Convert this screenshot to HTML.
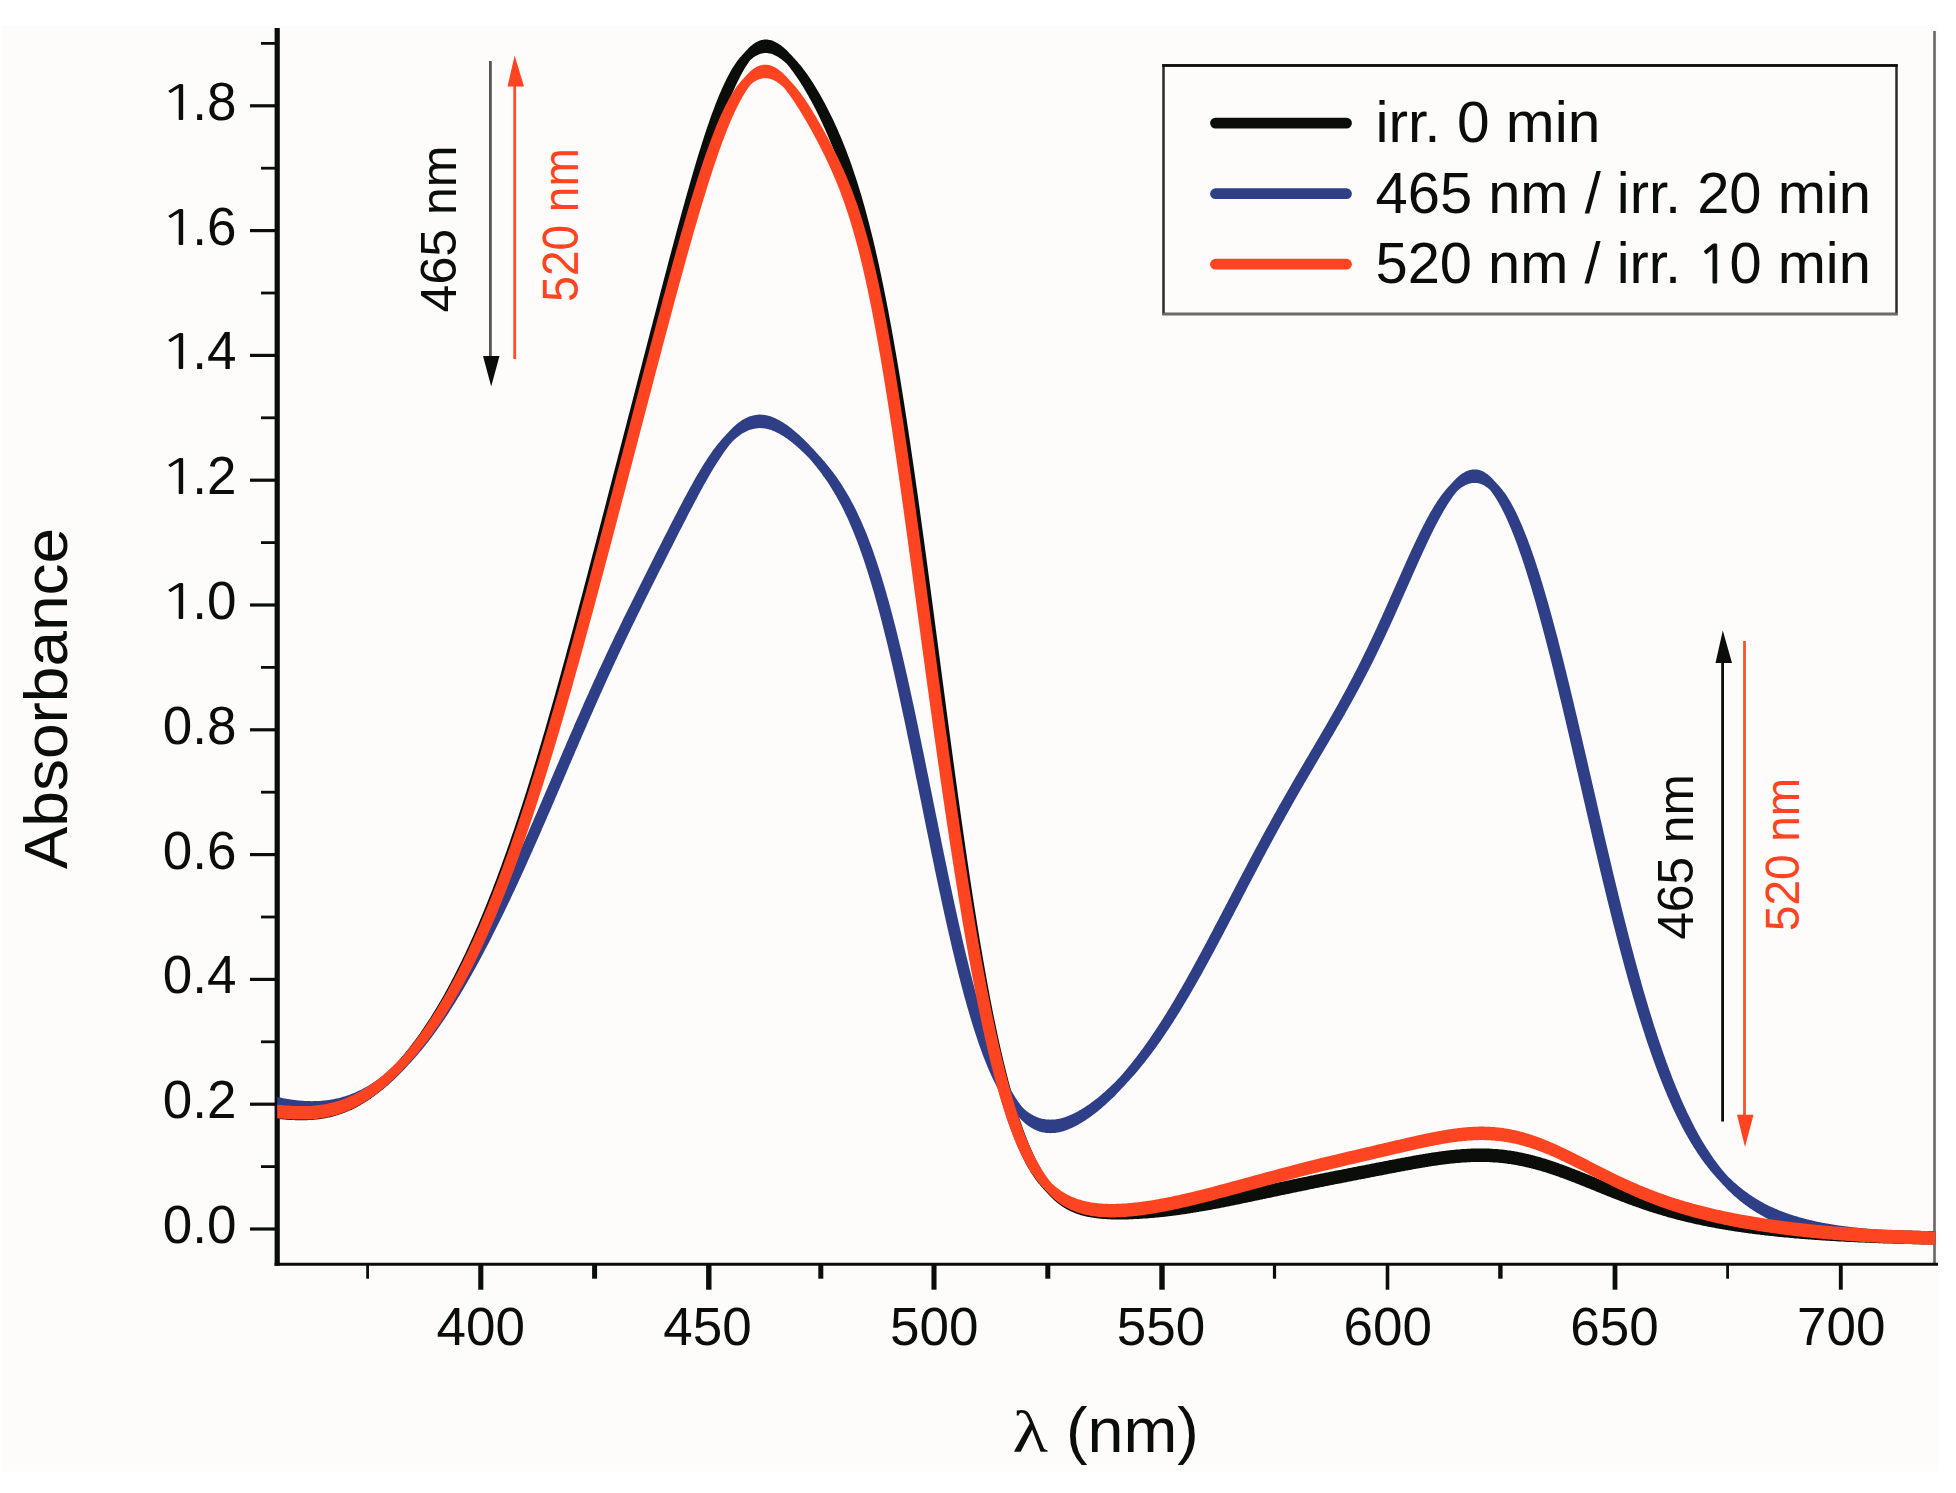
<!DOCTYPE html>
<html lang="en"><head><meta charset="utf-8"><title>Absorbance spectra</title>
<style>
html,body{margin:0;padding:0;background:#ffffff;}
body{width:1956px;height:1493px;overflow:hidden;}
svg{display:block;}
</style></head><body>
<svg width="1956" height="1493" viewBox="0 0 1956 1493" font-family="'Liberation Sans', Arial, sans-serif">
<rect x="0" y="0" width="1956" height="1493" fill="#ffffff"/>
<rect x="2" y="25" width="1937" height="1446.5" fill="#fefcfb"/>
<line x1="1934.5" y1="31" x2="1934.5" y2="1264" stroke="#6b6c67" stroke-width="2.7"/>
<line x1="277.2" y1="28" x2="277.2" y2="1265.8" stroke="#0b0d08" stroke-width="5.2"/>
<line x1="274.6" y1="1264.3" x2="1938" y2="1264.3" stroke="#0b0d08" stroke-width="3.0"/>
<line x1="250" y1="1229.0" x2="276" y2="1229.0" stroke="#0b0d08" stroke-width="3.2"/>
<text x="236.5" y="1243.0" font-size="53" text-anchor="end" fill="#0b0d08">0.0</text>
<line x1="261" y1="1166.6" x2="276" y2="1166.6" stroke="#0b0d08" stroke-width="2.8"/>
<line x1="250" y1="1104.2" x2="276" y2="1104.2" stroke="#0b0d08" stroke-width="3.2"/>
<text x="236.5" y="1118.2" font-size="53" text-anchor="end" fill="#0b0d08">0.2</text>
<line x1="261" y1="1041.8" x2="276" y2="1041.8" stroke="#0b0d08" stroke-width="2.8"/>
<line x1="250" y1="979.4" x2="276" y2="979.4" stroke="#0b0d08" stroke-width="3.2"/>
<text x="236.5" y="993.4" font-size="53" text-anchor="end" fill="#0b0d08">0.4</text>
<line x1="261" y1="917.0" x2="276" y2="917.0" stroke="#0b0d08" stroke-width="2.8"/>
<line x1="250" y1="854.6" x2="276" y2="854.6" stroke="#0b0d08" stroke-width="3.2"/>
<text x="236.5" y="868.6" font-size="53" text-anchor="end" fill="#0b0d08">0.6</text>
<line x1="261" y1="792.2" x2="276" y2="792.2" stroke="#0b0d08" stroke-width="2.8"/>
<line x1="250" y1="729.8" x2="276" y2="729.8" stroke="#0b0d08" stroke-width="3.2"/>
<text x="236.5" y="743.8" font-size="53" text-anchor="end" fill="#0b0d08">0.8</text>
<line x1="261" y1="667.4" x2="276" y2="667.4" stroke="#0b0d08" stroke-width="2.8"/>
<line x1="250" y1="605.0" x2="276" y2="605.0" stroke="#0b0d08" stroke-width="3.2"/>
<text y="619.0" font-size="53" fill="#0b0d08"><tspan x="159.3" font-family="NanumGothic, 'Liberation Sans', sans-serif" font-size="49.1" textLength="39.3" lengthAdjust="spacingAndGlyphs">1</tspan><tspan x="236.5" text-anchor="end">.0</tspan></text>
<line x1="261" y1="542.6" x2="276" y2="542.6" stroke="#0b0d08" stroke-width="2.8"/>
<line x1="250" y1="480.2" x2="276" y2="480.2" stroke="#0b0d08" stroke-width="3.2"/>
<text y="494.2" font-size="53" fill="#0b0d08"><tspan x="159.3" font-family="NanumGothic, 'Liberation Sans', sans-serif" font-size="49.1" textLength="39.3" lengthAdjust="spacingAndGlyphs">1</tspan><tspan x="236.5" text-anchor="end">.2</tspan></text>
<line x1="261" y1="417.8" x2="276" y2="417.8" stroke="#0b0d08" stroke-width="2.8"/>
<line x1="250" y1="355.4" x2="276" y2="355.4" stroke="#0b0d08" stroke-width="3.2"/>
<text y="369.4" font-size="53" fill="#0b0d08"><tspan x="159.3" font-family="NanumGothic, 'Liberation Sans', sans-serif" font-size="49.1" textLength="39.3" lengthAdjust="spacingAndGlyphs">1</tspan><tspan x="236.5" text-anchor="end">.4</tspan></text>
<line x1="261" y1="293.0" x2="276" y2="293.0" stroke="#0b0d08" stroke-width="2.8"/>
<line x1="250" y1="230.6" x2="276" y2="230.6" stroke="#0b0d08" stroke-width="3.2"/>
<text y="244.6" font-size="53" fill="#0b0d08"><tspan x="159.3" font-family="NanumGothic, 'Liberation Sans', sans-serif" font-size="49.1" textLength="39.3" lengthAdjust="spacingAndGlyphs">1</tspan><tspan x="236.5" text-anchor="end">.6</tspan></text>
<line x1="261" y1="168.2" x2="276" y2="168.2" stroke="#0b0d08" stroke-width="2.8"/>
<line x1="250" y1="105.8" x2="276" y2="105.8" stroke="#0b0d08" stroke-width="3.2"/>
<text y="119.8" font-size="53" fill="#0b0d08"><tspan x="159.3" font-family="NanumGothic, 'Liberation Sans', sans-serif" font-size="49.1" textLength="39.3" lengthAdjust="spacingAndGlyphs">1</tspan><tspan x="236.5" text-anchor="end">.8</tspan></text>
<line x1="261" y1="43.4" x2="276" y2="43.4" stroke="#0b0d08" stroke-width="2.8"/>
<line x1="367.6" y1="1264" x2="367.6" y2="1278.7" stroke="#0b0d08" stroke-width="2.8"/>
<line x1="480.8" y1="1264" x2="480.8" y2="1289.7" stroke="#0b0d08" stroke-width="5.1"/>
<text x="480.7" y="1344.5" font-size="53" text-anchor="middle" fill="#0b0d08">400</text>
<line x1="594.6" y1="1264" x2="594.6" y2="1278.7" stroke="#0b0d08" stroke-width="5.0"/>
<line x1="708.8" y1="1264" x2="708.8" y2="1289.7" stroke="#0b0d08" stroke-width="5.4"/>
<text x="707.5" y="1344.5" font-size="53" text-anchor="middle" fill="#0b0d08">450</text>
<line x1="820.8" y1="1264" x2="820.8" y2="1278.7" stroke="#0b0d08" stroke-width="5.0"/>
<line x1="934.0" y1="1264" x2="934.0" y2="1289.7" stroke="#0b0d08" stroke-width="5.1"/>
<text x="934.2" y="1344.5" font-size="53" text-anchor="middle" fill="#0b0d08">500</text>
<line x1="1047.8" y1="1264" x2="1047.8" y2="1278.7" stroke="#0b0d08" stroke-width="5.0"/>
<line x1="1162.0" y1="1264" x2="1162.0" y2="1289.7" stroke="#0b0d08" stroke-width="5.4"/>
<text x="1161.0" y="1344.5" font-size="53" text-anchor="middle" fill="#0b0d08">550</text>
<line x1="1274.5" y1="1264" x2="1274.5" y2="1278.7" stroke="#0b0d08" stroke-width="3.2"/>
<line x1="1387.5" y1="1264" x2="1387.5" y2="1289.7" stroke="#0b0d08" stroke-width="3.6"/>
<text x="1387.7" y="1344.5" font-size="53" text-anchor="middle" fill="#0b0d08">600</text>
<line x1="1500.4" y1="1264" x2="1500.4" y2="1278.7" stroke="#0b0d08" stroke-width="4.4"/>
<line x1="1615.0" y1="1264" x2="1615.0" y2="1289.7" stroke="#0b0d08" stroke-width="4.8"/>
<text x="1614.5" y="1344.5" font-size="53" text-anchor="middle" fill="#0b0d08">650</text>
<line x1="1727.6" y1="1264" x2="1727.6" y2="1278.7" stroke="#0b0d08" stroke-width="2.8"/>
<line x1="1840.8" y1="1264" x2="1840.8" y2="1289.7" stroke="#0b0d08" stroke-width="3.9"/>
<text x="1841.2" y="1344.5" font-size="53" text-anchor="middle" fill="#0b0d08">700</text>
<path d="M277.2 1105.4 L278.2 1105.5 L279.2 1105.6 L280.2 1105.7 L281.2 1105.8 L282.2 1105.8 L283.2 1105.9 L284.2 1106.0 L285.2 1106.1 L286.2 1106.2 L287.2 1106.2 L288.2 1106.3 L289.2 1106.4 L290.2 1106.4 L291.2 1106.5 L292.2 1106.6 L293.2 1106.6 L294.2 1106.6 L295.2 1106.7 L296.2 1106.7 L297.2 1106.7 L298.2 1106.8 L299.2 1106.8 L300.2 1106.8 L301.2 1106.8 L302.2 1106.8 L303.2 1106.8 L304.2 1106.8 L305.2 1106.7 L306.2 1106.7 L307.2 1106.7 L308.2 1106.6 L309.2 1106.6 L310.2 1106.5 L311.2 1106.5 L312.2 1106.4 L313.2 1106.3 L314.2 1106.2 L315.2 1106.1 L316.2 1106.0 L317.2 1105.9 L318.2 1105.8 L319.2 1105.7 L320.2 1105.5 L321.2 1105.4 L322.2 1105.2 L323.2 1105.1 L324.2 1104.9 L325.2 1104.7 L326.2 1104.5 L327.2 1104.3 L328.2 1104.1 L329.2 1103.9 L330.2 1103.7 L331.2 1103.4 L332.2 1103.2 L333.2 1102.9 L334.2 1102.6 L335.2 1102.3 L336.2 1102.1 L337.2 1101.7 L338.2 1101.4 L339.2 1101.1 L340.2 1100.8 L341.2 1100.4 L342.2 1100.1 L343.2 1099.7 L344.2 1099.3 L345.2 1098.9 L346.2 1098.5 L347.2 1098.1 L348.2 1097.7 L349.2 1097.3 L350.2 1096.8 L351.2 1096.4 L352.2 1095.9 L353.2 1095.4 L354.2 1094.9 L355.2 1094.4 L356.2 1093.9 L357.2 1093.4 L358.2 1092.8 L359.2 1092.3 L360.2 1091.7 L361.2 1091.1 L362.2 1090.6 L363.2 1090.0 L364.2 1089.3 L365.2 1088.7 L366.2 1088.1 L367.2 1087.4 L368.2 1086.8 L369.2 1086.1 L370.2 1085.4 L371.2 1084.7 L372.2 1084.0 L373.2 1083.3 L374.2 1082.6 L375.2 1081.8 L376.2 1081.1 L377.2 1080.3 L378.2 1079.5 L379.2 1078.7 L380.2 1077.9 L381.2 1077.1 L382.2 1076.2 L383.2 1075.4 L384.2 1074.5 L385.2 1073.6 L386.2 1072.8 L387.2 1071.9 L388.2 1070.9 L389.2 1070.0 L390.2 1069.1 L391.2 1068.1 L392.2 1067.2 L393.2 1066.2 L394.2 1065.2 L395.2 1064.2 L396.2 1063.2 L397.2 1062.2 L398.2 1061.1 L399.2 1060.0 L400.2 1058.8 L401.2 1057.7 L402.2 1056.5 L403.2 1055.3 L404.2 1054.1 L405.2 1052.9 L406.2 1051.6 L407.2 1050.4 L408.2 1049.1 L409.2 1047.9 L410.2 1046.6 L411.2 1045.3 L412.2 1044.0 L413.2 1042.6 L414.2 1041.3 L415.2 1039.9 L416.2 1038.6 L417.2 1037.2 L418.2 1035.8 L419.2 1034.4 L420.2 1032.9 L421.2 1031.5 L422.2 1030.1 L423.2 1028.6 L424.2 1027.1 L425.2 1025.6 L426.2 1024.1 L427.2 1022.6 L428.2 1021.0 L429.2 1019.5 L430.2 1017.9 L431.2 1016.3 L432.2 1014.7 L433.2 1013.1 L434.2 1011.5 L435.2 1009.8 L436.2 1008.2 L437.2 1006.5 L438.2 1004.8 L439.2 1003.1 L440.2 1001.4 L441.2 999.7 L442.2 997.9 L443.2 996.2 L444.2 994.4 L445.2 992.6 L446.2 990.8 L447.2 988.9 L448.2 987.1 L449.2 985.3 L450.2 983.4 L451.2 981.5 L452.2 979.6 L453.2 977.7 L454.2 975.7 L455.2 973.8 L456.2 971.8 L457.2 969.8 L458.2 967.8 L459.2 965.8 L460.2 963.8 L461.2 961.7 L462.2 959.7 L463.2 957.6 L464.2 955.5 L465.2 953.4 L466.2 951.2 L467.2 949.1 L468.2 946.9 L469.2 944.7 L470.2 942.5 L471.2 940.3 L472.2 938.1 L473.2 935.9 L474.2 933.6 L475.2 931.3 L476.2 929.0 L477.2 926.7 L478.2 924.4 L479.2 922.0 L480.2 919.6 L481.2 917.2 L482.2 914.8 L483.2 912.4 L484.2 910.0 L485.2 907.5 L486.2 905.1 L487.2 902.6 L488.2 900.1 L489.2 897.5 L490.2 895.0 L491.2 892.4 L492.2 889.9 L493.2 887.3 L494.2 884.6 L495.2 882.0 L496.2 879.4 L497.2 876.7 L498.2 874.0 L499.2 871.3 L500.2 868.6 L501.2 865.9 L502.2 863.1 L503.2 860.3 L504.2 857.6 L505.2 854.8 L506.2 851.9 L507.2 849.1 L508.2 846.2 L509.2 843.4 L510.2 840.5 L511.2 837.6 L512.2 834.6 L513.2 831.7 L514.2 828.7 L515.2 825.7 L516.2 822.8 L517.2 819.7 L518.2 816.7 L519.2 813.7 L520.2 810.6 L521.2 807.5 L522.2 804.4 L523.2 801.3 L524.2 798.2 L525.2 795.1 L526.2 791.9 L527.2 788.7 L528.2 785.5 L529.2 782.3 L530.2 779.1 L531.2 775.9 L532.2 772.6 L533.2 769.3 L534.2 766.1 L535.2 762.8 L536.2 759.4 L537.2 756.1 L538.2 752.8 L539.2 749.4 L540.2 746.0 L541.2 742.7 L542.2 739.3 L543.2 735.8 L544.2 732.4 L545.2 729.0 L546.2 725.5 L547.2 722.1 L548.2 718.6 L549.2 715.1 L550.2 711.6 L551.2 708.1 L552.2 704.5 L553.2 701.0 L554.2 697.4 L555.2 693.9 L556.2 690.3 L557.2 686.7 L558.2 683.1 L559.2 679.5 L560.2 675.9 L561.2 672.3 L562.2 668.6 L563.2 665.0 L564.2 661.3 L565.2 657.7 L566.2 654.0 L567.2 650.3 L568.2 646.6 L569.2 642.9 L570.2 639.2 L571.2 635.5 L572.2 631.8 L573.2 628.0 L574.2 624.3 L575.2 620.5 L576.2 616.8 L577.2 613.0 L578.2 609.3 L579.2 605.5 L580.2 601.7 L581.2 597.9 L582.2 594.2 L583.2 590.4 L584.2 586.6 L585.2 582.8 L586.2 579.0 L587.2 575.2 L588.2 571.3 L589.2 567.5 L590.2 563.7 L591.2 559.9 L592.2 556.0 L593.2 552.2 L594.2 548.4 L595.2 544.5 L596.2 540.7 L597.2 536.8 L598.2 533.0 L599.2 529.2 L600.2 525.3 L601.2 521.5 L602.2 517.6 L603.2 513.7 L604.2 509.9 L605.2 506.0 L606.2 502.2 L607.2 498.3 L608.2 494.5 L609.2 490.6 L610.2 486.7 L611.2 482.9 L612.2 479.0 L613.2 475.1 L614.2 471.3 L615.2 467.4 L616.2 463.5 L617.2 459.7 L618.2 455.8 L619.2 451.9 L620.2 448.1 L621.2 444.2 L622.2 440.3 L623.2 436.5 L624.2 432.6 L625.2 428.7 L626.2 424.9 L627.2 421.0 L628.2 417.1 L629.2 413.3 L630.2 409.4 L631.2 405.5 L632.2 401.7 L633.2 397.8 L634.2 393.9 L635.2 390.1 L636.2 386.2 L637.2 382.3 L638.2 378.5 L639.2 374.6 L640.2 370.7 L641.2 366.9 L642.2 363.0 L643.2 359.1 L644.2 355.3 L645.2 351.4 L646.2 347.6 L647.2 343.7 L648.2 339.8 L649.2 336.0 L650.2 332.1 L651.2 328.3 L652.2 324.4 L653.2 320.6 L654.2 316.7 L655.2 312.9 L656.2 309.0 L657.2 305.2 L658.2 301.3 L659.2 297.5 L660.2 293.6 L661.2 289.8 L662.2 286.0 L663.2 282.2 L664.2 278.3 L665.2 274.5 L666.2 270.7 L667.2 266.9 L668.2 263.1 L669.2 259.3 L670.2 255.6 L671.2 251.8 L672.2 248.0 L673.2 244.3 L674.2 240.5 L675.2 236.8 L676.2 233.0 L677.2 229.3 L678.2 225.6 L679.2 221.9 L680.2 218.3 L681.2 214.6 L682.2 211.0 L683.2 207.3 L684.2 203.7 L685.2 200.1 L686.2 196.5 L687.2 193.0 L688.2 189.4 L689.2 185.9 L690.2 182.4 L691.2 178.9 L692.2 175.5 L693.2 172.1 L694.2 168.7 L695.2 165.3 L696.2 161.9 L697.2 158.6 L698.2 155.3 L699.2 152.1 L700.2 148.9 L701.2 145.7 L702.2 142.5 L703.2 139.4 L704.2 136.3 L705.2 133.3 L706.2 130.3 L707.2 127.3 L708.2 124.4 L709.2 121.5 L710.2 118.6 L711.2 115.8 L712.2 113.1 L713.2 110.4 L714.2 107.7 L715.2 105.1 L716.2 102.5 L717.2 100.0 L718.2 97.5 L719.2 95.1 L720.2 92.7 L721.2 90.4 L722.2 88.1 L723.2 85.9 L724.2 83.8 L725.2 81.7 L726.2 79.7 L727.2 77.7 L728.2 75.7 L729.2 73.9 L730.2 72.1 L731.2 70.3 L732.2 68.6 L733.2 67.0 L734.2 65.4 L735.2 63.9 L736.2 62.5 L737.2 61.1 L738.2 59.8 L739.2 58.5 L740.2 57.3 L741.2 56.2 L742.2 55.1 L743.2 54.0 L744.2 52.9 L745.2 51.8 L746.2 50.8 L747.2 49.7 L748.2 48.6 L749.2 47.6 L750.2 46.6 L751.2 45.7 L752.2 44.9 L753.2 44.1 L754.2 43.4 L755.2 42.8 L756.2 42.2 L757.2 41.7 L758.2 41.2 L759.2 40.8 L760.2 40.4 L761.2 40.1 L762.2 39.9 L763.2 39.7 L764.2 39.6 L765.2 39.6 L766.2 39.6 L767.2 39.6 L768.2 39.7 L769.2 39.9 L770.2 40.1 L771.2 40.3 L772.2 40.6 L773.2 41.0 L774.2 41.4 L775.2 41.9 L776.2 42.4 L777.2 42.9 L778.2 43.5 L779.2 44.2 L780.2 44.9 L781.2 45.6 L782.2 46.4 L783.2 47.2 L784.2 48.0 L785.2 48.9 L786.2 49.8 L787.2 50.8 L788.2 51.8 L789.2 52.9 L790.2 53.9 L791.2 55.0 L792.2 56.1 L793.2 57.2 L794.2 58.3 L795.2 59.4 L796.2 60.5 L797.2 61.6 L798.2 62.7 L799.2 63.9 L800.2 65.1 L801.2 66.3 L802.2 67.6 L803.2 68.9 L804.2 70.2 L805.2 71.5 L806.2 72.9 L807.2 74.3 L808.2 75.8 L809.2 77.2 L810.2 78.7 L811.2 80.2 L812.2 81.8 L813.2 83.3 L814.2 84.9 L815.2 86.5 L816.2 88.2 L817.2 89.9 L818.2 91.5 L819.2 93.3 L820.2 95.0 L821.2 96.8 L822.2 98.6 L823.2 100.4 L824.2 102.2 L825.2 104.1 L826.2 106.0 L827.2 107.9 L828.2 109.9 L829.2 111.9 L830.2 113.9 L831.2 115.9 L832.2 118.0 L833.2 120.1 L834.2 122.2 L835.2 124.4 L836.2 126.6 L837.2 128.8 L838.2 131.1 L839.2 133.4 L840.2 135.7 L841.2 138.1 L842.2 140.5 L843.2 143.0 L844.2 145.5 L845.2 148.0 L846.2 150.6 L847.2 153.2 L848.2 155.9 L849.2 158.6 L850.2 161.3 L851.2 164.1 L852.2 167.0 L853.2 169.9 L854.2 172.9 L855.2 175.9 L856.2 178.9 L857.2 182.0 L858.2 185.2 L859.2 188.4 L860.2 191.7 L861.2 195.1 L862.2 198.5 L863.2 201.9 L864.2 205.5 L865.2 209.0 L866.2 212.7 L867.2 216.4 L868.2 220.2 L869.2 224.0 L870.2 228.0 L871.2 231.9 L872.2 236.0 L873.2 240.1 L874.2 244.3 L875.2 248.6 L876.2 252.9 L877.2 257.3 L878.2 261.8 L879.2 266.3 L880.2 271.0 L881.2 275.7 L882.2 280.4 L883.2 285.3 L884.2 290.2 L885.2 295.2 L886.2 300.2 L887.2 305.4 L888.2 310.6 L889.2 315.9 L890.2 321.3 L891.2 326.7 L892.2 332.2 L893.2 337.8 L894.2 343.4 L895.2 349.2 L896.2 354.9 L897.2 360.8 L898.2 366.8 L899.2 372.8 L900.2 378.8 L901.2 385.0 L902.2 391.2 L903.2 397.5 L904.2 403.8 L905.2 410.2 L906.2 416.7 L907.2 423.2 L908.2 429.8 L909.2 436.4 L910.2 443.1 L911.2 449.9 L912.2 456.7 L913.2 463.5 L914.2 470.5 L915.2 477.4 L916.2 484.4 L917.2 491.5 L918.2 498.6 L919.2 505.8 L920.2 512.9 L921.2 520.2 L922.2 527.4 L923.2 534.7 L924.2 542.1 L925.2 549.4 L926.2 556.8 L927.2 564.3 L928.2 571.7 L929.2 579.2 L930.2 586.7 L931.2 594.2 L932.2 601.7 L933.2 609.2 L934.2 616.8 L935.2 624.4 L936.2 631.9 L937.2 639.5 L938.2 647.1 L939.2 654.7 L940.2 662.3 L941.2 669.9 L942.2 677.5 L943.2 685.0 L944.2 692.6 L945.2 700.1 L946.2 707.7 L947.2 715.2 L948.2 722.7 L949.2 730.2 L950.2 737.7 L951.2 745.1 L952.2 752.5 L953.2 759.9 L954.2 767.3 L955.2 774.6 L956.2 781.9 L957.2 789.1 L958.2 796.4 L959.2 803.5 L960.2 810.7 L961.2 817.8 L962.2 824.8 L963.2 831.8 L964.2 838.8 L965.2 845.7 L966.2 852.6 L967.2 859.4 L968.2 866.1 L969.2 872.8 L970.2 879.4 L971.2 886.0 L972.2 892.5 L973.2 899.0 L974.2 905.4 L975.2 911.7 L976.2 918.0 L977.2 924.2 L978.2 930.3 L979.2 936.4 L980.2 942.4 L981.2 948.3 L982.2 954.1 L983.2 959.9 L984.2 965.6 L985.2 971.3 L986.2 976.8 L987.2 982.3 L988.2 987.8 L989.2 993.1 L990.2 998.4 L991.2 1003.5 L992.2 1008.7 L993.2 1013.7 L994.2 1018.7 L995.2 1023.5 L996.2 1028.3 L997.2 1033.1 L998.2 1037.7 L999.2 1042.3 L1000.2 1046.8 L1001.2 1051.2 L1002.2 1055.5 L1003.2 1059.8 L1004.2 1064.0 L1005.2 1068.1 L1006.2 1072.1 L1007.2 1076.1 L1008.2 1080.0 L1009.2 1083.8 L1010.2 1087.5 L1011.2 1091.1 L1012.2 1094.7 L1013.2 1098.2 L1014.2 1101.7 L1015.2 1105.0 L1016.2 1108.3 L1017.2 1111.5 L1018.2 1114.6 L1019.2 1117.7 L1020.2 1120.7 L1021.2 1123.6 L1022.2 1126.5 L1023.2 1129.3 L1024.2 1132.0 L1025.2 1134.7 L1026.2 1137.3 L1027.2 1139.8 L1028.2 1142.3 L1029.2 1144.7 L1030.2 1147.1 L1031.2 1149.3 L1032.2 1151.6 L1033.2 1153.7 L1034.2 1155.8 L1035.2 1157.9 L1036.2 1159.9 L1037.2 1161.8 L1038.2 1163.7 L1039.2 1165.5 L1040.2 1167.3 L1041.2 1169.0 L1042.2 1170.7 L1043.2 1172.3 L1044.2 1173.9 L1045.2 1175.4 L1046.2 1176.9 L1047.2 1178.3 L1048.2 1179.7 L1049.2 1181.1 L1050.2 1182.4 L1051.2 1183.6 L1052.2 1184.8 L1053.2 1185.8 L1054.2 1186.7 L1055.2 1187.6 L1056.2 1188.4 L1057.2 1189.3 L1058.2 1190.0 L1059.2 1190.8 L1060.2 1191.5 L1061.2 1192.3 L1062.2 1192.9 L1063.2 1193.6 L1064.2 1194.2 L1065.2 1194.8 L1066.2 1195.4 L1067.2 1196.0 L1068.2 1196.5 L1069.2 1197.0 L1070.2 1197.5 L1071.2 1198.0 L1072.2 1198.4 L1073.2 1198.8 L1074.2 1199.3 L1075.2 1199.7 L1076.2 1200.0 L1077.2 1200.4 L1078.2 1200.7 L1079.2 1201.1 L1080.2 1201.4 L1081.2 1201.7 L1082.2 1202.0 L1083.2 1202.2 L1084.2 1202.5 L1085.2 1202.7 L1086.2 1203.0 L1087.2 1203.2 L1088.2 1203.4 L1089.2 1203.6 L1090.2 1203.8 L1091.2 1204.0 L1092.2 1204.1 L1093.2 1204.3 L1094.2 1204.4 L1095.2 1204.6 L1096.2 1204.7 L1097.2 1204.8 L1098.2 1205.0 L1099.2 1205.1 L1100.2 1205.2 L1101.2 1205.3 L1102.2 1205.3 L1103.2 1205.4 L1104.2 1205.5 L1105.2 1205.6 L1106.2 1205.6 L1107.2 1205.7 L1108.2 1205.7 L1109.2 1205.8 L1110.2 1205.8 L1111.2 1205.9 L1112.2 1205.9 L1113.2 1205.9 L1114.2 1205.9 L1115.2 1206.0 L1116.2 1206.0 L1117.2 1206.0 L1118.2 1206.0 L1119.2 1206.0 L1120.2 1206.0 L1121.2 1206.0 L1122.2 1206.0 L1123.2 1206.0 L1124.2 1206.0 L1125.2 1205.9 L1126.2 1205.9 L1127.2 1205.9 L1128.2 1205.9 L1129.2 1205.8 L1130.2 1205.8 L1131.2 1205.8 L1132.2 1205.7 L1133.2 1205.7 L1134.2 1205.6 L1135.2 1205.6 L1136.2 1205.6 L1137.2 1205.5 L1138.2 1205.4 L1139.2 1205.4 L1140.2 1205.3 L1141.2 1205.3 L1142.2 1205.2 L1143.2 1205.1 L1144.2 1205.1 L1145.2 1205.0 L1146.2 1204.9 L1147.2 1204.9 L1148.2 1204.8 L1149.2 1204.7 L1150.2 1204.6 L1151.2 1204.5 L1152.2 1204.5 L1153.2 1204.4 L1154.2 1204.3 L1155.2 1204.2 L1156.2 1204.1 L1157.2 1204.0 L1158.2 1203.9 L1159.2 1203.8 L1160.2 1203.7 L1161.2 1203.6 L1162.2 1203.5 L1163.2 1203.4 L1164.2 1203.3 L1165.2 1203.2 L1166.2 1203.0 L1167.2 1202.9 L1168.2 1202.8 L1169.2 1202.7 L1170.2 1202.6 L1171.2 1202.5 L1172.2 1202.3 L1173.2 1202.2 L1174.2 1202.1 L1175.2 1201.9 L1176.2 1201.8 L1177.2 1201.7 L1178.2 1201.5 L1179.2 1201.4 L1180.2 1201.3 L1181.2 1201.1 L1182.2 1201.0 L1183.2 1200.8 L1184.2 1200.7 L1185.2 1200.5 L1186.2 1200.4 L1187.2 1200.2 L1188.2 1200.1 L1189.2 1199.9 L1190.2 1199.8 L1191.2 1199.6 L1192.2 1199.5 L1193.2 1199.3 L1194.2 1199.1 L1195.2 1199.0 L1196.2 1198.8 L1197.2 1198.6 L1198.2 1198.5 L1199.2 1198.3 L1200.2 1198.1 L1201.2 1198.0 L1202.2 1197.8 L1203.2 1197.6 L1204.2 1197.4 L1205.2 1197.3 L1206.2 1197.1 L1207.2 1196.9 L1208.2 1196.7 L1209.2 1196.5 L1210.2 1196.4 L1211.2 1196.2 L1212.2 1196.0 L1213.2 1195.8 L1214.2 1195.6 L1215.2 1195.4 L1216.2 1195.2 L1217.2 1195.1 L1218.2 1194.9 L1219.2 1194.7 L1220.2 1194.5 L1221.2 1194.3 L1222.2 1194.1 L1223.2 1193.9 L1224.2 1193.7 L1225.2 1193.5 L1226.2 1193.3 L1227.2 1193.1 L1228.2 1192.9 L1229.2 1192.7 L1230.2 1192.5 L1231.2 1192.3 L1232.2 1192.1 L1233.2 1191.9 L1234.2 1191.7 L1235.2 1191.5 L1236.2 1191.3 L1237.2 1191.1 L1238.2 1190.9 L1239.2 1190.7 L1240.2 1190.5 L1241.2 1190.3 L1242.2 1190.0 L1243.2 1189.8 L1244.2 1189.6 L1245.2 1189.4 L1246.2 1189.2 L1247.2 1189.0 L1248.2 1188.8 L1249.2 1188.6 L1250.2 1188.4 L1251.2 1188.2 L1252.2 1188.0 L1253.2 1187.7 L1254.2 1187.5 L1255.2 1187.3 L1256.2 1187.1 L1257.2 1186.9 L1258.2 1186.7 L1259.2 1186.5 L1260.2 1186.3 L1261.2 1186.1 L1262.2 1185.9 L1263.2 1185.6 L1264.2 1185.4 L1265.2 1185.2 L1266.2 1185.0 L1267.2 1184.8 L1268.2 1184.6 L1269.2 1184.4 L1270.2 1184.2 L1271.2 1183.9 L1272.2 1183.7 L1273.2 1183.5 L1274.2 1183.3 L1275.2 1183.1 L1276.2 1182.9 L1277.2 1182.7 L1278.2 1182.5 L1279.2 1182.3 L1280.2 1182.1 L1281.2 1181.8 L1282.2 1181.6 L1283.2 1181.4 L1284.2 1181.2 L1285.2 1181.0 L1286.2 1180.8 L1287.2 1180.6 L1288.2 1180.4 L1289.2 1180.2 L1290.2 1180.0 L1291.2 1179.8 L1292.2 1179.5 L1293.2 1179.3 L1294.2 1179.1 L1295.2 1178.9 L1296.2 1178.7 L1297.2 1178.5 L1298.2 1178.3 L1299.2 1178.1 L1300.2 1177.9 L1301.2 1177.7 L1302.2 1177.5 L1303.2 1177.3 L1304.2 1177.1 L1305.2 1176.9 L1306.2 1176.7 L1307.2 1176.5 L1308.2 1176.3 L1309.2 1176.0 L1310.2 1175.8 L1311.2 1175.6 L1312.2 1175.4 L1313.2 1175.2 L1314.2 1175.0 L1315.2 1174.8 L1316.2 1174.6 L1317.2 1174.4 L1318.2 1174.2 L1319.2 1174.0 L1320.2 1173.8 L1321.2 1173.6 L1322.2 1173.4 L1323.2 1173.2 L1324.2 1173.0 L1325.2 1172.8 L1326.2 1172.6 L1327.2 1172.4 L1328.2 1172.2 L1329.2 1172.0 L1330.2 1171.8 L1331.2 1171.6 L1332.2 1171.4 L1333.2 1171.2 L1334.2 1171.0 L1335.2 1170.8 L1336.2 1170.6 L1337.2 1170.4 L1338.2 1170.2 L1339.2 1170.1 L1340.2 1169.9 L1341.2 1169.7 L1342.2 1169.5 L1343.2 1169.3 L1344.2 1169.1 L1345.2 1168.9 L1346.2 1168.7 L1347.2 1168.5 L1348.2 1168.3 L1349.2 1168.1 L1350.2 1167.9 L1351.2 1167.7 L1352.2 1167.5 L1353.2 1167.3 L1354.2 1167.1 L1355.2 1166.9 L1356.2 1166.7 L1357.2 1166.5 L1358.2 1166.3 L1359.2 1166.1 L1360.2 1165.9 L1361.2 1165.7 L1362.2 1165.5 L1363.2 1165.4 L1364.2 1165.2 L1365.2 1165.0 L1366.2 1164.8 L1367.2 1164.6 L1368.2 1164.4 L1369.2 1164.2 L1370.2 1164.0 L1371.2 1163.8 L1372.2 1163.6 L1373.2 1163.4 L1374.2 1163.2 L1375.2 1163.0 L1376.2 1162.8 L1377.2 1162.6 L1378.2 1162.4 L1379.2 1162.2 L1380.2 1162.0 L1381.2 1161.9 L1382.2 1161.7 L1383.2 1161.5 L1384.2 1161.3 L1385.2 1161.1 L1386.2 1160.9 L1387.2 1160.7 L1388.2 1160.5 L1389.2 1160.3 L1390.2 1160.1 L1391.2 1159.9 L1392.2 1159.7 L1393.2 1159.5 L1394.2 1159.4 L1395.2 1159.2 L1396.2 1159.0 L1397.2 1158.8 L1398.2 1158.6 L1399.2 1158.4 L1400.2 1158.2 L1401.2 1158.0 L1402.2 1157.8 L1403.2 1157.7 L1404.2 1157.5 L1405.2 1157.3 L1406.2 1157.1 L1407.2 1156.9 L1408.2 1156.7 L1409.2 1156.5 L1410.2 1156.4 L1411.2 1156.2 L1412.2 1156.0 L1413.2 1155.8 L1414.2 1155.6 L1415.2 1155.5 L1416.2 1155.3 L1417.2 1155.1 L1418.2 1154.9 L1419.2 1154.8 L1420.2 1154.6 L1421.2 1154.4 L1422.2 1154.3 L1423.2 1154.1 L1424.2 1153.9 L1425.2 1153.8 L1426.2 1153.6 L1427.2 1153.4 L1428.2 1153.3 L1429.2 1153.1 L1430.2 1153.0 L1431.2 1152.8 L1432.2 1152.6 L1433.2 1152.5 L1434.2 1152.3 L1435.2 1152.2 L1436.2 1152.0 L1437.2 1151.9 L1438.2 1151.8 L1439.2 1151.6 L1440.2 1151.5 L1441.2 1151.3 L1442.2 1151.2 L1443.2 1151.1 L1444.2 1150.9 L1445.2 1150.8 L1446.2 1150.7 L1447.2 1150.6 L1448.2 1150.5 L1449.2 1150.3 L1450.2 1150.2 L1451.2 1150.1 L1452.2 1150.0 L1453.2 1149.9 L1454.2 1149.8 L1455.2 1149.7 L1456.2 1149.6 L1457.2 1149.5 L1458.2 1149.4 L1459.2 1149.4 L1460.2 1149.3 L1461.2 1149.2 L1462.2 1149.1 L1463.2 1149.0 L1464.2 1149.0 L1465.2 1148.9 L1466.2 1148.9 L1467.2 1148.8 L1468.2 1148.8 L1469.2 1148.7 L1470.2 1148.7 L1471.2 1148.6 L1472.2 1148.6 L1473.2 1148.6 L1474.2 1148.5 L1475.2 1148.5 L1476.2 1148.5 L1477.2 1148.5 L1478.2 1148.5 L1479.2 1148.4 L1480.2 1148.4 L1481.2 1148.4 L1482.2 1148.5 L1483.2 1148.5 L1484.2 1148.5 L1485.2 1148.5 L1486.2 1148.5 L1487.2 1148.6 L1488.2 1148.6 L1489.2 1148.6 L1490.2 1148.7 L1491.2 1148.7 L1492.2 1148.8 L1493.2 1148.9 L1494.2 1148.9 L1495.2 1149.0 L1496.2 1149.1 L1497.2 1149.1 L1498.2 1149.2 L1499.2 1149.3 L1500.2 1149.4 L1501.2 1149.5 L1502.2 1149.6 L1503.2 1149.7 L1504.2 1149.8 L1505.2 1150.0 L1506.2 1150.1 L1507.2 1150.2 L1508.2 1150.4 L1509.2 1150.5 L1510.2 1150.6 L1511.2 1150.8 L1512.2 1150.9 L1513.2 1151.1 L1514.2 1151.3 L1515.2 1151.4 L1516.2 1151.6 L1517.2 1151.8 L1518.2 1152.0 L1519.2 1152.2 L1520.2 1152.4 L1521.2 1152.6 L1522.2 1152.8 L1523.2 1153.0 L1524.2 1153.2 L1525.2 1153.4 L1526.2 1153.7 L1527.2 1153.9 L1528.2 1154.1 L1529.2 1154.4 L1530.2 1154.6 L1531.2 1154.9 L1532.2 1155.1 L1533.2 1155.4 L1534.2 1155.6 L1535.2 1155.9 L1536.2 1156.2 L1537.2 1156.5 L1538.2 1156.7 L1539.2 1157.0 L1540.2 1157.3 L1541.2 1157.6 L1542.2 1157.9 L1543.2 1158.2 L1544.2 1158.5 L1545.2 1158.8 L1546.2 1159.1 L1547.2 1159.4 L1548.2 1159.8 L1549.2 1160.1 L1550.2 1160.4 L1551.2 1160.7 L1552.2 1161.1 L1553.2 1161.4 L1554.2 1161.8 L1555.2 1162.1 L1556.2 1162.4 L1557.2 1162.8 L1558.2 1163.1 L1559.2 1163.5 L1560.2 1163.9 L1561.2 1164.2 L1562.2 1164.6 L1563.2 1165.0 L1564.2 1165.3 L1565.2 1165.7 L1566.2 1166.1 L1567.2 1166.4 L1568.2 1166.8 L1569.2 1167.2 L1570.2 1167.6 L1571.2 1168.0 L1572.2 1168.4 L1573.2 1168.7 L1574.2 1169.1 L1575.2 1169.5 L1576.2 1169.9 L1577.2 1170.3 L1578.2 1170.7 L1579.2 1171.1 L1580.2 1171.5 L1581.2 1171.9 L1582.2 1172.3 L1583.2 1172.7 L1584.2 1173.1 L1585.2 1173.5 L1586.2 1173.9 L1587.2 1174.3 L1588.2 1174.7 L1589.2 1175.1 L1590.2 1175.5 L1591.2 1175.9 L1592.2 1176.3 L1593.2 1176.7 L1594.2 1177.1 L1595.2 1177.5 L1596.2 1177.9 L1597.2 1178.4 L1598.2 1178.8 L1599.2 1179.2 L1600.2 1179.6 L1601.2 1180.0 L1602.2 1180.4 L1603.2 1180.8 L1604.2 1181.2 L1605.2 1181.6 L1606.2 1182.0 L1607.2 1182.4 L1608.2 1182.8 L1609.2 1183.2 L1610.2 1183.6 L1611.2 1184.0 L1612.2 1184.4 L1613.2 1184.8 L1614.2 1185.2 L1615.2 1185.6 L1616.2 1185.9 L1617.2 1186.3 L1618.2 1186.7 L1619.2 1187.1 L1620.2 1187.5 L1621.2 1187.9 L1622.2 1188.3 L1623.2 1188.6 L1624.2 1189.0 L1625.2 1189.4 L1626.2 1189.8 L1627.2 1190.2 L1628.2 1190.5 L1629.2 1190.9 L1630.2 1191.3 L1631.2 1191.6 L1632.2 1192.0 L1633.2 1192.4 L1634.2 1192.7 L1635.2 1193.1 L1636.2 1193.4 L1637.2 1193.8 L1638.2 1194.1 L1639.2 1194.5 L1640.2 1194.8 L1641.2 1195.2 L1642.2 1195.5 L1643.2 1195.9 L1644.2 1196.2 L1645.2 1196.5 L1646.2 1196.9 L1647.2 1197.2 L1648.2 1197.5 L1649.2 1197.9 L1650.2 1198.2 L1651.2 1198.5 L1652.2 1198.8 L1653.2 1199.2 L1654.2 1199.5 L1655.2 1199.8 L1656.2 1200.1 L1657.2 1200.4 L1658.2 1200.7 L1659.2 1201.0 L1660.2 1201.3 L1661.2 1201.6 L1662.2 1201.9 L1663.2 1202.2 L1664.2 1202.5 L1665.2 1202.8 L1666.2 1203.1 L1667.2 1203.4 L1668.2 1203.7 L1669.2 1204.0 L1670.2 1204.2 L1671.2 1204.5 L1672.2 1204.8 L1673.2 1205.1 L1674.2 1205.3 L1675.2 1205.6 L1676.2 1205.9 L1677.2 1206.1 L1678.2 1206.4 L1679.2 1206.6 L1680.2 1206.9 L1681.2 1207.1 L1682.2 1207.4 L1683.2 1207.6 L1684.2 1207.9 L1685.2 1208.1 L1686.2 1208.4 L1687.2 1208.6 L1688.2 1208.9 L1689.2 1209.1 L1690.2 1209.3 L1691.2 1209.6 L1692.2 1209.8 L1693.2 1210.0 L1694.2 1210.2 L1695.2 1210.5 L1696.2 1210.7 L1697.2 1210.9 L1698.2 1211.1 L1699.2 1211.3 L1700.2 1211.6 L1701.2 1211.8 L1702.2 1212.0 L1703.2 1212.2 L1704.2 1212.4 L1705.2 1212.6 L1706.2 1212.8 L1707.2 1213.0 L1708.2 1213.2 L1709.2 1213.4 L1710.2 1213.6 L1711.2 1213.8 L1712.2 1214.0 L1713.2 1214.1 L1714.2 1214.3 L1715.2 1214.5 L1716.2 1214.7 L1717.2 1214.9 L1718.2 1215.1 L1719.2 1215.2 L1720.2 1215.4 L1721.2 1215.6 L1722.2 1215.8 L1723.2 1215.9 L1724.2 1216.1 L1725.2 1216.3 L1726.2 1216.4 L1727.2 1216.6 L1728.2 1216.8 L1729.2 1216.9 L1730.2 1217.1 L1731.2 1217.3 L1732.2 1217.4 L1733.2 1217.6 L1734.2 1217.7 L1735.2 1217.9 L1736.2 1218.0 L1737.2 1218.2 L1738.2 1218.3 L1739.2 1218.5 L1740.2 1218.6 L1741.2 1218.8 L1742.2 1218.9 L1743.2 1219.0 L1744.2 1219.2 L1745.2 1219.3 L1746.2 1219.5 L1747.2 1219.6 L1748.2 1219.7 L1749.2 1219.9 L1750.2 1220.0 L1751.2 1220.1 L1752.2 1220.3 L1753.2 1220.4 L1754.2 1220.5 L1755.2 1220.7 L1756.2 1220.8 L1757.2 1220.9 L1758.2 1221.0 L1759.2 1221.1 L1760.2 1221.3 L1761.2 1221.4 L1762.2 1221.5 L1763.2 1221.6 L1764.2 1221.7 L1765.2 1221.9 L1766.2 1222.0 L1767.2 1222.1 L1768.2 1222.2 L1769.2 1222.3 L1770.2 1222.4 L1771.2 1222.5 L1772.2 1222.6 L1773.2 1222.7 L1774.2 1222.8 L1775.2 1223.0 L1776.2 1223.1 L1777.2 1223.2 L1778.2 1223.3 L1779.2 1223.4 L1780.2 1223.5 L1781.2 1223.6 L1782.2 1223.7 L1783.2 1223.8 L1784.2 1223.9 L1785.2 1223.9 L1786.2 1224.0 L1787.2 1224.1 L1788.2 1224.2 L1789.2 1224.3 L1790.2 1224.4 L1791.2 1224.5 L1792.2 1224.6 L1793.2 1224.7 L1794.2 1224.8 L1795.2 1224.9 L1796.2 1224.9 L1797.2 1225.0 L1798.2 1225.1 L1799.2 1225.2 L1800.2 1225.3 L1801.2 1225.4 L1802.2 1225.4 L1803.2 1225.5 L1804.2 1225.6 L1805.2 1225.7 L1806.2 1225.8 L1807.2 1225.8 L1808.2 1225.9 L1809.2 1226.0 L1810.2 1226.1 L1811.2 1226.1 L1812.2 1226.2 L1813.2 1226.3 L1814.2 1226.3 L1815.2 1226.4 L1816.2 1226.5 L1817.2 1226.6 L1818.2 1226.6 L1819.2 1226.7 L1820.2 1226.8 L1821.2 1226.8 L1822.2 1226.9 L1823.2 1227.0 L1824.2 1227.0 L1825.2 1227.1 L1826.2 1227.2 L1827.2 1227.2 L1828.2 1227.3 L1829.2 1227.3 L1830.2 1227.4 L1831.2 1227.5 L1832.2 1227.5 L1833.2 1227.6 L1834.2 1227.6 L1835.2 1227.7 L1836.2 1227.8 L1837.2 1227.8 L1838.2 1227.9 L1839.2 1227.9 L1840.2 1228.0 L1841.2 1228.0 L1842.2 1228.1 L1843.2 1228.1 L1844.2 1228.2 L1845.2 1228.2 L1846.2 1228.3 L1847.2 1228.4 L1848.2 1228.4 L1849.2 1228.5 L1850.2 1228.5 L1851.2 1228.5 L1852.2 1228.6 L1853.2 1228.6 L1854.2 1228.7 L1855.2 1228.7 L1856.2 1228.8 L1857.2 1228.8 L1858.2 1228.9 L1859.2 1228.9 L1860.2 1229.0 L1861.2 1229.0 L1862.2 1229.1 L1863.2 1229.1 L1864.2 1229.1 L1865.2 1229.2 L1866.2 1229.2 L1867.2 1229.3 L1868.2 1229.3 L1869.2 1229.3 L1870.2 1229.4 L1871.2 1229.4 L1872.2 1229.5 L1873.2 1229.5 L1874.2 1229.5 L1875.2 1229.6 L1876.2 1229.6 L1877.2 1229.6 L1878.2 1229.7 L1879.2 1229.7 L1880.2 1229.7 L1881.2 1229.8 L1882.2 1229.8 L1883.2 1229.9 L1884.2 1229.9 L1885.2 1229.9 L1886.2 1229.9 L1887.2 1230.0 L1888.2 1230.0 L1889.2 1230.0 L1890.2 1230.1 L1891.2 1230.1 L1892.2 1230.1 L1893.2 1230.2 L1894.2 1230.2 L1895.2 1230.2 L1896.2 1230.3 L1897.2 1230.3 L1898.2 1230.3 L1899.2 1230.3 L1900.2 1230.4 L1901.2 1230.4 L1902.2 1230.4 L1903.2 1230.4 L1904.2 1230.5 L1905.2 1230.5 L1906.2 1230.5 L1907.2 1230.5 L1908.2 1230.6 L1909.2 1230.6 L1910.2 1230.6 L1911.2 1230.6 L1912.2 1230.7 L1913.2 1230.7 L1914.2 1230.7 L1915.2 1230.7 L1916.2 1230.8 L1917.2 1230.8 L1918.2 1230.8 L1919.2 1230.8 L1920.2 1230.8 L1921.2 1230.9 L1922.2 1230.9 L1923.2 1230.9 L1924.2 1230.9 L1925.2 1230.9 L1926.2 1231.0 L1927.2 1231.0 L1928.2 1231.0 L1929.2 1231.0 L1930.2 1231.0 L1931.2 1231.1 L1932.2 1231.1 L1933.2 1231.1 L1934.2 1231.1 L1935.2 1231.1 L1935.2 1244.6 L1934.2 1244.6 L1933.2 1244.6 L1932.2 1244.6 L1931.2 1244.6 L1930.2 1244.5 L1929.2 1244.5 L1928.2 1244.5 L1927.2 1244.5 L1926.2 1244.5 L1925.2 1244.4 L1924.2 1244.4 L1923.2 1244.4 L1922.2 1244.4 L1921.2 1244.4 L1920.2 1244.3 L1919.2 1244.3 L1918.2 1244.3 L1917.2 1244.3 L1916.2 1244.3 L1915.2 1244.2 L1914.2 1244.2 L1913.2 1244.2 L1912.2 1244.2 L1911.2 1244.1 L1910.2 1244.1 L1909.2 1244.1 L1908.2 1244.1 L1907.2 1244.0 L1906.2 1244.0 L1905.2 1244.0 L1904.2 1244.0 L1903.2 1243.9 L1902.2 1243.9 L1901.2 1243.9 L1900.2 1243.9 L1899.2 1243.8 L1898.2 1243.8 L1897.2 1243.8 L1896.2 1243.8 L1895.2 1243.7 L1894.2 1243.7 L1893.2 1243.7 L1892.2 1243.6 L1891.2 1243.6 L1890.2 1243.6 L1889.2 1243.5 L1888.2 1243.5 L1887.2 1243.5 L1886.2 1243.4 L1885.2 1243.4 L1884.2 1243.4 L1883.2 1243.4 L1882.2 1243.3 L1881.2 1243.3 L1880.2 1243.2 L1879.2 1243.2 L1878.2 1243.2 L1877.2 1243.1 L1876.2 1243.1 L1875.2 1243.1 L1874.2 1243.0 L1873.2 1243.0 L1872.2 1243.0 L1871.2 1242.9 L1870.2 1242.9 L1869.2 1242.8 L1868.2 1242.8 L1867.2 1242.8 L1866.2 1242.7 L1865.2 1242.7 L1864.2 1242.6 L1863.2 1242.6 L1862.2 1242.6 L1861.2 1242.5 L1860.2 1242.5 L1859.2 1242.4 L1858.2 1242.4 L1857.2 1242.3 L1856.2 1242.3 L1855.2 1242.2 L1854.2 1242.2 L1853.2 1242.1 L1852.2 1242.1 L1851.2 1242.0 L1850.2 1242.0 L1849.2 1242.0 L1848.2 1241.9 L1847.2 1241.9 L1846.2 1241.8 L1845.2 1241.7 L1844.2 1241.7 L1843.2 1241.6 L1842.2 1241.6 L1841.2 1241.5 L1840.2 1241.5 L1839.2 1241.4 L1838.2 1241.4 L1837.2 1241.3 L1836.2 1241.3 L1835.2 1241.2 L1834.2 1241.1 L1833.2 1241.1 L1832.2 1241.0 L1831.2 1241.0 L1830.2 1240.9 L1829.2 1240.8 L1828.2 1240.8 L1827.2 1240.7 L1826.2 1240.7 L1825.2 1240.6 L1824.2 1240.5 L1823.2 1240.5 L1822.2 1240.4 L1821.2 1240.3 L1820.2 1240.3 L1819.2 1240.2 L1818.2 1240.1 L1817.2 1240.1 L1816.2 1240.0 L1815.2 1239.9 L1814.2 1239.8 L1813.2 1239.8 L1812.2 1239.7 L1811.2 1239.6 L1810.2 1239.6 L1809.2 1239.5 L1808.2 1239.4 L1807.2 1239.3 L1806.2 1239.3 L1805.2 1239.2 L1804.2 1239.1 L1803.2 1239.0 L1802.2 1238.9 L1801.2 1238.9 L1800.2 1238.8 L1799.2 1238.7 L1798.2 1238.6 L1797.2 1238.5 L1796.2 1238.4 L1795.2 1238.4 L1794.2 1238.3 L1793.2 1238.2 L1792.2 1238.1 L1791.2 1238.0 L1790.2 1237.9 L1789.2 1237.8 L1788.2 1237.7 L1787.2 1237.6 L1786.2 1237.5 L1785.2 1237.4 L1784.2 1237.4 L1783.2 1237.3 L1782.2 1237.2 L1781.2 1237.1 L1780.2 1237.0 L1779.2 1236.9 L1778.2 1236.8 L1777.2 1236.7 L1776.2 1236.6 L1775.2 1236.5 L1774.2 1236.3 L1773.2 1236.2 L1772.2 1236.1 L1771.2 1236.0 L1770.2 1235.9 L1769.2 1235.8 L1768.2 1235.7 L1767.2 1235.6 L1766.2 1235.5 L1765.2 1235.4 L1764.2 1235.2 L1763.2 1235.1 L1762.2 1235.0 L1761.2 1234.9 L1760.2 1234.8 L1759.2 1234.6 L1758.2 1234.5 L1757.2 1234.4 L1756.2 1234.3 L1755.2 1234.2 L1754.2 1234.0 L1753.2 1233.9 L1752.2 1233.8 L1751.2 1233.6 L1750.2 1233.5 L1749.2 1233.4 L1748.2 1233.2 L1747.2 1233.1 L1746.2 1233.0 L1745.2 1232.8 L1744.2 1232.7 L1743.2 1232.5 L1742.2 1232.4 L1741.2 1232.3 L1740.2 1232.1 L1739.2 1232.0 L1738.2 1231.8 L1737.2 1231.7 L1736.2 1231.5 L1735.2 1231.4 L1734.2 1231.2 L1733.2 1231.1 L1732.2 1230.9 L1731.2 1230.8 L1730.2 1230.6 L1729.2 1230.4 L1728.2 1230.3 L1727.2 1230.1 L1726.2 1229.9 L1725.2 1229.8 L1724.2 1229.6 L1723.2 1229.4 L1722.2 1229.3 L1721.2 1229.1 L1720.2 1228.9 L1719.2 1228.7 L1718.2 1228.6 L1717.2 1228.4 L1716.2 1228.2 L1715.2 1228.0 L1714.2 1227.8 L1713.2 1227.6 L1712.2 1227.5 L1711.2 1227.3 L1710.2 1227.1 L1709.2 1226.9 L1708.2 1226.7 L1707.2 1226.5 L1706.2 1226.3 L1705.2 1226.1 L1704.2 1225.9 L1703.2 1225.7 L1702.2 1225.5 L1701.2 1225.3 L1700.2 1225.1 L1699.2 1224.8 L1698.2 1224.6 L1697.2 1224.4 L1696.2 1224.2 L1695.2 1224.0 L1694.2 1223.7 L1693.2 1223.5 L1692.2 1223.3 L1691.2 1223.1 L1690.2 1222.8 L1689.2 1222.6 L1688.2 1222.4 L1687.2 1222.1 L1686.2 1221.9 L1685.2 1221.6 L1684.2 1221.4 L1683.2 1221.1 L1682.2 1220.9 L1681.2 1220.6 L1680.2 1220.4 L1679.2 1220.1 L1678.2 1219.9 L1677.2 1219.6 L1676.2 1219.4 L1675.2 1219.1 L1674.2 1218.8 L1673.2 1218.6 L1672.2 1218.3 L1671.2 1218.0 L1670.2 1217.7 L1669.2 1217.5 L1668.2 1217.2 L1667.2 1216.9 L1666.2 1216.6 L1665.2 1216.3 L1664.2 1216.0 L1663.2 1215.7 L1662.2 1215.4 L1661.2 1215.1 L1660.2 1214.8 L1659.2 1214.5 L1658.2 1214.2 L1657.2 1213.9 L1656.2 1213.6 L1655.2 1213.3 L1654.2 1213.0 L1653.2 1212.7 L1652.2 1212.3 L1651.2 1212.0 L1650.2 1211.7 L1649.2 1211.4 L1648.2 1211.0 L1647.2 1210.7 L1646.2 1210.4 L1645.2 1210.0 L1644.2 1209.7 L1643.2 1209.4 L1642.2 1209.0 L1641.2 1208.7 L1640.2 1208.3 L1639.2 1208.0 L1638.2 1207.6 L1637.2 1207.3 L1636.2 1206.9 L1635.2 1206.6 L1634.2 1206.2 L1633.2 1205.9 L1632.2 1205.5 L1631.2 1205.1 L1630.2 1204.8 L1629.2 1204.4 L1628.2 1204.0 L1627.2 1203.7 L1626.2 1203.3 L1625.2 1202.9 L1624.2 1202.5 L1623.2 1202.1 L1622.2 1201.8 L1621.2 1201.4 L1620.2 1201.0 L1619.2 1200.6 L1618.2 1200.2 L1617.2 1199.8 L1616.2 1199.4 L1615.2 1199.1 L1614.2 1198.7 L1613.2 1198.3 L1612.2 1197.9 L1611.2 1197.5 L1610.2 1197.1 L1609.2 1196.7 L1608.2 1196.3 L1607.2 1195.9 L1606.2 1195.5 L1605.2 1195.1 L1604.2 1194.7 L1603.2 1194.3 L1602.2 1193.9 L1601.2 1193.5 L1600.2 1193.1 L1599.2 1192.7 L1598.2 1192.3 L1597.2 1191.9 L1596.2 1191.4 L1595.2 1191.0 L1594.2 1190.6 L1593.2 1190.2 L1592.2 1189.8 L1591.2 1189.4 L1590.2 1189.0 L1589.2 1188.6 L1588.2 1188.2 L1587.2 1187.8 L1586.2 1187.4 L1585.2 1187.0 L1584.2 1186.6 L1583.2 1186.2 L1582.2 1185.8 L1581.2 1185.4 L1580.2 1185.0 L1579.2 1184.6 L1578.2 1184.2 L1577.2 1183.8 L1576.2 1183.4 L1575.2 1183.0 L1574.2 1182.6 L1573.2 1182.2 L1572.2 1181.9 L1571.2 1181.5 L1570.2 1181.1 L1569.2 1180.7 L1568.2 1180.3 L1567.2 1179.9 L1566.2 1179.6 L1565.2 1179.2 L1564.2 1178.8 L1563.2 1178.5 L1562.2 1178.1 L1561.2 1177.7 L1560.2 1177.4 L1559.2 1177.0 L1558.2 1176.6 L1557.2 1176.3 L1556.2 1175.9 L1555.2 1175.6 L1554.2 1175.3 L1553.2 1174.9 L1552.2 1174.6 L1551.2 1174.2 L1550.2 1173.9 L1549.2 1173.6 L1548.2 1173.3 L1547.2 1172.9 L1546.2 1172.6 L1545.2 1172.3 L1544.2 1172.0 L1543.2 1171.7 L1542.2 1171.4 L1541.2 1171.1 L1540.2 1170.8 L1539.2 1170.5 L1538.2 1170.2 L1537.2 1170.0 L1536.2 1169.7 L1535.2 1169.4 L1534.2 1169.1 L1533.2 1168.9 L1532.2 1168.6 L1531.2 1168.4 L1530.2 1168.1 L1529.2 1167.9 L1528.2 1167.6 L1527.2 1167.4 L1526.2 1167.2 L1525.2 1166.9 L1524.2 1166.7 L1523.2 1166.5 L1522.2 1166.3 L1521.2 1166.1 L1520.2 1165.9 L1519.2 1165.7 L1518.2 1165.5 L1517.2 1165.3 L1516.2 1165.1 L1515.2 1164.9 L1514.2 1164.8 L1513.2 1164.6 L1512.2 1164.4 L1511.2 1164.3 L1510.2 1164.1 L1509.2 1164.0 L1508.2 1163.9 L1507.2 1163.7 L1506.2 1163.6 L1505.2 1163.5 L1504.2 1163.3 L1503.2 1163.2 L1502.2 1163.1 L1501.2 1163.0 L1500.2 1162.9 L1499.2 1162.8 L1498.2 1162.7 L1497.2 1162.6 L1496.2 1162.6 L1495.2 1162.5 L1494.2 1162.4 L1493.2 1162.4 L1492.2 1162.3 L1491.2 1162.2 L1490.2 1162.2 L1489.2 1162.1 L1488.2 1162.1 L1487.2 1162.1 L1486.2 1162.0 L1485.2 1162.0 L1484.2 1162.0 L1483.2 1162.0 L1482.2 1162.0 L1481.2 1161.9 L1480.2 1161.9 L1479.2 1161.9 L1478.2 1162.0 L1477.2 1162.0 L1476.2 1162.0 L1475.2 1162.0 L1474.2 1162.0 L1473.2 1162.1 L1472.2 1162.1 L1471.2 1162.1 L1470.2 1162.2 L1469.2 1162.2 L1468.2 1162.3 L1467.2 1162.3 L1466.2 1162.4 L1465.2 1162.4 L1464.2 1162.5 L1463.2 1162.5 L1462.2 1162.6 L1461.2 1162.7 L1460.2 1162.8 L1459.2 1162.9 L1458.2 1162.9 L1457.2 1163.0 L1456.2 1163.1 L1455.2 1163.2 L1454.2 1163.3 L1453.2 1163.4 L1452.2 1163.5 L1451.2 1163.6 L1450.2 1163.7 L1449.2 1163.8 L1448.2 1164.0 L1447.2 1164.1 L1446.2 1164.2 L1445.2 1164.3 L1444.2 1164.4 L1443.2 1164.6 L1442.2 1164.7 L1441.2 1164.8 L1440.2 1165.0 L1439.2 1165.1 L1438.2 1165.3 L1437.2 1165.4 L1436.2 1165.5 L1435.2 1165.7 L1434.2 1165.8 L1433.2 1166.0 L1432.2 1166.1 L1431.2 1166.3 L1430.2 1166.5 L1429.2 1166.6 L1428.2 1166.8 L1427.2 1166.9 L1426.2 1167.1 L1425.2 1167.3 L1424.2 1167.4 L1423.2 1167.6 L1422.2 1167.8 L1421.2 1167.9 L1420.2 1168.1 L1419.2 1168.3 L1418.2 1168.4 L1417.2 1168.6 L1416.2 1168.8 L1415.2 1169.0 L1414.2 1169.1 L1413.2 1169.3 L1412.2 1169.5 L1411.2 1169.7 L1410.2 1169.9 L1409.2 1170.0 L1408.2 1170.2 L1407.2 1170.4 L1406.2 1170.6 L1405.2 1170.8 L1404.2 1171.0 L1403.2 1171.2 L1402.2 1171.3 L1401.2 1171.5 L1400.2 1171.7 L1399.2 1171.9 L1398.2 1172.1 L1397.2 1172.3 L1396.2 1172.5 L1395.2 1172.7 L1394.2 1172.9 L1393.2 1173.0 L1392.2 1173.2 L1391.2 1173.4 L1390.2 1173.6 L1389.2 1173.8 L1388.2 1174.0 L1387.2 1174.2 L1386.2 1174.4 L1385.2 1174.6 L1384.2 1174.8 L1383.2 1175.0 L1382.2 1175.2 L1381.2 1175.4 L1380.2 1175.5 L1379.2 1175.7 L1378.2 1175.9 L1377.2 1176.1 L1376.2 1176.3 L1375.2 1176.5 L1374.2 1176.7 L1373.2 1176.9 L1372.2 1177.1 L1371.2 1177.3 L1370.2 1177.5 L1369.2 1177.7 L1368.2 1177.9 L1367.2 1178.1 L1366.2 1178.3 L1365.2 1178.5 L1364.2 1178.7 L1363.2 1178.9 L1362.2 1179.0 L1361.2 1179.2 L1360.2 1179.4 L1359.2 1179.6 L1358.2 1179.8 L1357.2 1180.0 L1356.2 1180.2 L1355.2 1180.4 L1354.2 1180.6 L1353.2 1180.8 L1352.2 1181.0 L1351.2 1181.2 L1350.2 1181.4 L1349.2 1181.6 L1348.2 1181.8 L1347.2 1182.0 L1346.2 1182.2 L1345.2 1182.4 L1344.2 1182.6 L1343.2 1182.8 L1342.2 1183.0 L1341.2 1183.2 L1340.2 1183.4 L1339.2 1183.6 L1338.2 1183.7 L1337.2 1183.9 L1336.2 1184.1 L1335.2 1184.3 L1334.2 1184.5 L1333.2 1184.7 L1332.2 1184.9 L1331.2 1185.1 L1330.2 1185.3 L1329.2 1185.5 L1328.2 1185.7 L1327.2 1185.9 L1326.2 1186.1 L1325.2 1186.3 L1324.2 1186.5 L1323.2 1186.7 L1322.2 1186.9 L1321.2 1187.1 L1320.2 1187.3 L1319.2 1187.5 L1318.2 1187.7 L1317.2 1187.9 L1316.2 1188.1 L1315.2 1188.3 L1314.2 1188.5 L1313.2 1188.7 L1312.2 1188.9 L1311.2 1189.1 L1310.2 1189.3 L1309.2 1189.5 L1308.2 1189.8 L1307.2 1190.0 L1306.2 1190.2 L1305.2 1190.4 L1304.2 1190.6 L1303.2 1190.8 L1302.2 1191.0 L1301.2 1191.2 L1300.2 1191.4 L1299.2 1191.6 L1298.2 1191.8 L1297.2 1192.0 L1296.2 1192.2 L1295.2 1192.4 L1294.2 1192.6 L1293.2 1192.8 L1292.2 1193.0 L1291.2 1193.3 L1290.2 1193.5 L1289.2 1193.7 L1288.2 1193.9 L1287.2 1194.1 L1286.2 1194.3 L1285.2 1194.5 L1284.2 1194.7 L1283.2 1194.9 L1282.2 1195.1 L1281.2 1195.3 L1280.2 1195.6 L1279.2 1195.8 L1278.2 1196.0 L1277.2 1196.2 L1276.2 1196.4 L1275.2 1196.6 L1274.2 1196.8 L1273.2 1197.0 L1272.2 1197.2 L1271.2 1197.4 L1270.2 1197.7 L1269.2 1197.9 L1268.2 1198.1 L1267.2 1198.3 L1266.2 1198.5 L1265.2 1198.7 L1264.2 1198.9 L1263.2 1199.1 L1262.2 1199.4 L1261.2 1199.6 L1260.2 1199.8 L1259.2 1200.0 L1258.2 1200.2 L1257.2 1200.4 L1256.2 1200.6 L1255.2 1200.8 L1254.2 1201.0 L1253.2 1201.2 L1252.2 1201.5 L1251.2 1201.7 L1250.2 1201.9 L1249.2 1202.1 L1248.2 1202.3 L1247.2 1202.5 L1246.2 1202.7 L1245.2 1202.9 L1244.2 1203.1 L1243.2 1203.3 L1242.2 1203.5 L1241.2 1203.8 L1240.2 1204.0 L1239.2 1204.2 L1238.2 1204.4 L1237.2 1204.6 L1236.2 1204.8 L1235.2 1205.0 L1234.2 1205.2 L1233.2 1205.4 L1232.2 1205.6 L1231.2 1205.8 L1230.2 1206.0 L1229.2 1206.2 L1228.2 1206.4 L1227.2 1206.6 L1226.2 1206.8 L1225.2 1207.0 L1224.2 1207.2 L1223.2 1207.4 L1222.2 1207.6 L1221.2 1207.8 L1220.2 1208.0 L1219.2 1208.2 L1218.2 1208.4 L1217.2 1208.6 L1216.2 1208.7 L1215.2 1208.9 L1214.2 1209.1 L1213.2 1209.3 L1212.2 1209.5 L1211.2 1209.7 L1210.2 1209.9 L1209.2 1210.0 L1208.2 1210.2 L1207.2 1210.4 L1206.2 1210.6 L1205.2 1210.8 L1204.2 1210.9 L1203.2 1211.1 L1202.2 1211.3 L1201.2 1211.5 L1200.2 1211.6 L1199.2 1211.8 L1198.2 1212.0 L1197.2 1212.1 L1196.2 1212.3 L1195.2 1212.5 L1194.2 1212.6 L1193.2 1212.8 L1192.2 1213.0 L1191.2 1213.1 L1190.2 1213.3 L1189.2 1213.4 L1188.2 1213.6 L1187.2 1213.7 L1186.2 1213.9 L1185.2 1214.0 L1184.2 1214.2 L1183.2 1214.3 L1182.2 1214.5 L1181.2 1214.6 L1180.2 1214.8 L1179.2 1214.9 L1178.2 1215.0 L1177.2 1215.2 L1176.2 1215.3 L1175.2 1215.4 L1174.2 1215.6 L1173.2 1215.7 L1172.2 1215.8 L1171.2 1216.0 L1170.2 1216.1 L1169.2 1216.2 L1168.2 1216.3 L1167.2 1216.4 L1166.2 1216.5 L1165.2 1216.7 L1164.2 1216.8 L1163.2 1216.9 L1162.2 1217.0 L1161.2 1217.1 L1160.2 1217.2 L1159.2 1217.3 L1158.2 1217.4 L1157.2 1217.5 L1156.2 1217.6 L1155.2 1217.7 L1154.2 1217.8 L1153.2 1217.9 L1152.2 1218.0 L1151.2 1218.0 L1150.2 1218.1 L1149.2 1218.2 L1148.2 1218.3 L1147.2 1218.4 L1146.2 1218.4 L1145.2 1218.5 L1144.2 1218.6 L1143.2 1218.6 L1142.2 1218.7 L1141.2 1218.8 L1140.2 1218.8 L1139.2 1218.9 L1138.2 1218.9 L1137.2 1219.0 L1136.2 1219.1 L1135.2 1219.1 L1134.2 1219.1 L1133.2 1219.2 L1132.2 1219.2 L1131.2 1219.3 L1130.2 1219.3 L1129.2 1219.3 L1128.2 1219.4 L1127.2 1219.4 L1126.2 1219.4 L1125.2 1219.4 L1124.2 1219.5 L1123.2 1219.5 L1122.2 1219.5 L1121.2 1219.5 L1120.2 1219.5 L1119.2 1219.5 L1118.2 1219.5 L1117.2 1219.5 L1116.2 1219.5 L1115.2 1219.5 L1114.2 1219.4 L1113.2 1219.4 L1112.2 1219.4 L1111.2 1219.4 L1110.2 1219.3 L1109.2 1219.3 L1108.2 1219.2 L1107.2 1219.2 L1106.2 1219.1 L1105.2 1219.1 L1104.2 1219.0 L1103.2 1218.9 L1102.2 1218.8 L1101.2 1218.8 L1100.2 1218.7 L1099.2 1218.6 L1098.2 1218.5 L1097.2 1218.3 L1096.2 1218.2 L1095.2 1218.1 L1094.2 1217.9 L1093.2 1217.8 L1092.2 1217.6 L1091.2 1217.5 L1090.2 1217.3 L1089.2 1217.1 L1088.2 1216.9 L1087.2 1216.7 L1086.2 1216.5 L1085.2 1216.2 L1084.2 1216.0 L1083.2 1215.7 L1082.2 1215.5 L1081.2 1215.2 L1080.2 1214.9 L1079.2 1214.6 L1078.2 1214.2 L1077.2 1213.9 L1076.2 1213.5 L1075.2 1213.2 L1074.2 1212.8 L1073.2 1212.3 L1072.2 1211.9 L1071.2 1211.5 L1070.2 1211.0 L1069.2 1210.5 L1068.2 1210.0 L1067.2 1209.5 L1066.2 1208.9 L1065.2 1208.3 L1064.2 1207.7 L1063.2 1207.1 L1062.2 1206.4 L1061.2 1205.8 L1060.2 1205.0 L1059.2 1204.3 L1058.2 1203.5 L1057.2 1202.8 L1056.2 1201.9 L1055.2 1201.1 L1054.2 1200.2 L1053.2 1199.3 L1052.2 1198.3 L1051.2 1197.3 L1050.2 1196.3 L1049.2 1195.3 L1048.2 1194.2 L1047.2 1193.1 L1046.2 1192.0 L1045.2 1190.9 L1044.2 1189.8 L1043.2 1188.7 L1042.2 1187.6 L1041.2 1186.5 L1040.2 1185.3 L1039.2 1184.1 L1038.2 1182.9 L1037.2 1181.6 L1036.2 1180.2 L1035.2 1178.9 L1034.2 1177.4 L1033.2 1176.0 L1032.2 1174.5 L1031.2 1172.9 L1030.2 1171.3 L1029.2 1169.6 L1028.2 1167.9 L1027.2 1166.2 L1026.2 1164.4 L1025.2 1162.5 L1024.2 1160.6 L1023.2 1158.6 L1022.2 1156.6 L1021.2 1154.5 L1020.2 1152.3 L1019.2 1150.1 L1018.2 1147.9 L1017.2 1145.5 L1016.2 1143.1 L1015.2 1140.7 L1014.2 1138.2 L1013.2 1135.6 L1012.2 1133.0 L1011.2 1130.2 L1010.2 1127.5 L1009.2 1124.6 L1008.2 1121.7 L1007.2 1118.7 L1006.2 1115.7 L1005.2 1112.6 L1004.2 1109.4 L1003.2 1106.1 L1002.2 1102.8 L1001.2 1099.4 L1000.2 1095.9 L999.2 1092.3 L998.2 1088.7 L997.2 1085.0 L996.2 1081.2 L995.2 1077.4 L994.2 1073.4 L993.2 1069.4 L992.2 1065.3 L991.2 1061.2 L990.2 1056.9 L989.2 1052.6 L988.2 1048.2 L987.2 1043.8 L986.2 1039.2 L985.2 1034.6 L984.2 1029.9 L983.2 1025.1 L982.2 1020.2 L981.2 1015.3 L980.2 1010.3 L979.2 1005.2 L978.2 1000.0 L977.2 994.8 L976.2 989.5 L975.2 984.1 L974.2 978.6 L973.2 973.1 L972.2 967.4 L971.2 961.8 L970.2 956.0 L969.2 950.2 L968.2 944.3 L967.2 938.3 L966.2 932.2 L965.2 926.1 L964.2 919.9 L963.2 913.7 L962.2 907.4 L961.2 901.0 L960.2 894.6 L959.2 888.1 L958.2 881.5 L957.2 874.9 L956.2 868.2 L955.2 861.5 L954.2 854.7 L953.2 847.9 L952.2 841.0 L951.2 834.0 L950.2 827.0 L949.2 820.0 L948.2 812.9 L947.2 805.8 L946.2 798.6 L945.2 791.4 L944.2 784.2 L943.2 776.9 L942.2 769.6 L941.2 762.2 L940.2 754.9 L939.2 747.4 L938.2 740.0 L937.2 732.6 L936.2 725.1 L935.2 717.6 L934.2 710.1 L933.2 702.5 L932.2 695.0 L931.2 687.4 L930.2 679.8 L929.2 672.3 L928.2 664.7 L927.2 657.1 L926.2 649.5 L925.2 641.9 L924.2 634.3 L923.2 626.8 L922.2 619.2 L921.2 611.6 L920.2 604.1 L919.2 596.5 L918.2 589.0 L917.2 581.5 L916.2 574.0 L915.2 566.6 L914.2 559.2 L913.2 551.8 L912.2 544.4 L911.2 537.0 L910.2 529.7 L909.2 522.5 L908.2 515.2 L907.2 508.0 L906.2 500.9 L905.2 493.7 L904.2 486.7 L903.2 479.6 L902.2 472.7 L901.2 465.7 L900.2 458.8 L899.2 452.0 L898.2 445.2 L897.2 438.5 L896.2 431.9 L895.2 425.3 L894.2 418.7 L893.2 412.2 L892.2 405.8 L891.2 399.5 L890.2 393.2 L889.2 386.9 L888.2 380.8 L887.2 374.7 L886.2 368.7 L885.2 362.7 L884.2 356.8 L883.2 351.0 L882.2 345.2 L881.2 339.6 L880.2 334.0 L879.2 328.4 L878.2 323.0 L877.2 317.6 L876.2 312.3 L875.2 307.1 L874.2 301.9 L873.2 296.8 L872.2 291.8 L871.2 286.8 L870.2 282.0 L869.2 277.2 L868.2 272.5 L867.2 267.8 L866.2 263.3 L865.2 258.8 L864.2 254.3 L863.2 250.0 L862.2 245.7 L861.2 241.5 L860.2 237.3 L859.2 233.3 L858.2 229.3 L857.2 225.3 L856.2 221.5 L855.2 217.7 L854.2 213.9 L853.2 210.2 L852.2 206.6 L851.2 203.1 L850.2 199.6 L849.2 196.2 L848.2 192.8 L847.2 189.5 L846.2 186.3 L845.2 183.1 L844.2 180.0 L843.2 176.9 L842.2 173.9 L841.2 170.9 L840.2 168.0 L839.2 165.1 L838.2 162.3 L837.2 159.5 L836.2 156.8 L835.2 154.1 L834.2 151.5 L833.2 148.9 L832.2 146.3 L831.2 143.8 L830.2 141.4 L829.2 138.9 L828.2 136.6 L827.2 134.2 L826.2 131.9 L825.2 129.6 L824.2 127.4 L823.2 125.2 L822.2 123.0 L821.2 120.9 L820.2 118.7 L819.2 116.7 L818.2 114.6 L817.2 112.6 L816.2 110.6 L815.2 108.6 L814.2 106.7 L813.2 104.8 L812.2 102.9 L811.2 101.1 L810.2 99.2 L809.2 97.4 L808.2 95.6 L807.2 93.9 L806.2 92.2 L805.2 90.5 L804.2 88.8 L803.2 87.1 L802.2 85.5 L801.2 83.9 L800.2 82.3 L799.2 80.8 L798.2 79.3 L797.2 77.8 L796.2 76.3 L795.2 74.9 L794.2 73.4 L793.2 72.1 L792.2 70.7 L791.2 69.4 L790.2 68.1 L789.2 66.8 L788.2 65.6 L787.2 64.3 L786.2 63.3 L785.2 62.4 L784.2 61.5 L783.2 60.7 L782.2 59.9 L781.2 59.1 L780.2 58.4 L779.2 57.7 L778.2 57.0 L777.2 56.4 L776.2 55.9 L775.2 55.4 L774.2 54.9 L773.2 54.5 L772.2 54.1 L771.2 53.8 L770.2 53.6 L769.2 53.4 L768.2 53.2 L767.2 53.1 L766.2 53.1 L765.2 53.1 L764.2 53.1 L763.2 53.2 L762.2 53.4 L761.2 53.6 L760.2 53.9 L759.2 54.3 L758.2 54.7 L757.2 55.2 L756.2 55.7 L755.2 56.3 L754.2 56.9 L753.2 57.6 L752.2 58.4 L751.2 59.2 L750.2 60.3 L749.2 61.6 L748.2 63.0 L747.2 64.5 L746.2 66.0 L745.2 67.6 L744.2 69.3 L743.2 71.0 L742.2 72.7 L741.2 74.5 L740.2 76.4 L739.2 78.4 L738.2 80.4 L737.2 82.4 L736.2 84.5 L735.2 86.7 L734.2 88.9 L733.2 91.2 L732.2 93.5 L731.2 95.9 L730.2 98.4 L729.2 100.8 L728.2 103.4 L727.2 106.0 L726.2 108.6 L725.2 111.3 L724.2 114.0 L723.2 116.8 L722.2 119.6 L721.2 122.4 L720.2 125.3 L719.2 128.3 L718.2 131.3 L717.2 134.3 L716.2 137.3 L715.2 140.4 L714.2 143.6 L713.2 146.7 L712.2 149.9 L711.2 153.2 L710.2 156.4 L709.2 159.7 L708.2 163.1 L707.2 166.4 L706.2 169.8 L705.2 173.2 L704.2 176.6 L703.2 180.1 L702.2 183.6 L701.2 187.1 L700.2 190.6 L699.2 194.1 L698.2 197.7 L697.2 201.3 L696.2 204.9 L695.2 208.5 L694.2 212.2 L693.2 215.8 L692.2 219.5 L691.2 223.2 L690.2 226.8 L689.2 230.6 L688.2 234.3 L687.2 238.0 L686.2 241.7 L685.2 245.5 L684.2 249.3 L683.2 253.0 L682.2 256.8 L681.2 260.6 L680.2 264.4 L679.2 268.2 L678.2 272.0 L677.2 275.8 L676.2 279.6 L675.2 283.4 L674.2 287.2 L673.2 291.1 L672.2 294.9 L671.2 298.7 L670.2 302.6 L669.2 306.4 L668.2 310.3 L667.2 314.1 L666.2 318.0 L665.2 321.8 L664.2 325.7 L663.2 329.5 L662.2 333.4 L661.2 337.2 L660.2 341.1 L659.2 345.0 L658.2 348.8 L657.2 352.7 L656.2 356.5 L655.2 360.4 L654.2 364.3 L653.2 368.1 L652.2 372.0 L651.2 375.9 L650.2 379.7 L649.2 383.6 L648.2 387.5 L647.2 391.3 L646.2 395.2 L645.2 399.1 L644.2 402.9 L643.2 406.8 L642.2 410.7 L641.2 414.5 L640.2 418.4 L639.2 422.3 L638.2 426.1 L637.2 430.0 L636.2 433.9 L635.2 437.7 L634.2 441.6 L633.2 445.5 L632.2 449.3 L631.2 453.2 L630.2 457.1 L629.2 460.9 L628.2 464.8 L627.2 468.7 L626.2 472.5 L625.2 476.4 L624.2 480.3 L623.2 484.1 L622.2 488.0 L621.2 491.9 L620.2 495.7 L619.2 499.6 L618.2 503.4 L617.2 507.3 L616.2 511.2 L615.2 515.0 L614.2 518.9 L613.2 522.7 L612.2 526.6 L611.2 530.4 L610.2 534.3 L609.2 538.1 L608.2 542.0 L607.2 545.8 L606.2 549.6 L605.2 553.5 L604.2 557.3 L603.2 561.1 L602.2 565.0 L601.2 568.8 L600.2 572.6 L599.2 576.4 L598.2 580.2 L597.2 584.0 L596.2 587.8 L595.2 591.6 L594.2 595.4 L593.2 599.2 L592.2 603.0 L591.2 606.7 L590.2 610.5 L589.2 614.3 L588.2 618.0 L587.2 621.8 L586.2 625.5 L585.2 629.3 L584.2 633.0 L583.2 636.7 L582.2 640.4 L581.2 644.1 L580.2 647.8 L579.2 651.5 L578.2 655.2 L577.2 658.9 L576.2 662.5 L575.2 666.2 L574.2 669.8 L573.2 673.5 L572.2 677.1 L571.2 680.7 L570.2 684.3 L569.2 687.9 L568.2 691.5 L567.2 695.1 L566.2 698.6 L565.2 702.2 L564.2 705.7 L563.2 709.2 L562.2 712.7 L561.2 716.2 L560.2 719.7 L559.2 723.2 L558.2 726.7 L557.2 730.1 L556.2 733.5 L555.2 737.0 L554.2 740.4 L553.2 743.8 L552.2 747.2 L551.2 750.5 L550.2 753.9 L549.2 757.2 L548.2 760.5 L547.2 763.9 L546.2 767.1 L545.2 770.4 L544.2 773.7 L543.2 776.9 L542.2 780.2 L541.2 783.4 L540.2 786.6 L539.2 789.8 L538.2 793.0 L537.2 796.1 L536.2 799.2 L535.2 802.4 L534.2 805.5 L533.2 808.6 L532.2 811.6 L531.2 814.7 L530.2 817.7 L529.2 820.8 L528.2 823.8 L527.2 826.8 L526.2 829.7 L525.2 832.7 L524.2 835.6 L523.2 838.5 L522.2 841.4 L521.2 844.3 L520.2 847.2 L519.2 850.1 L518.2 852.9 L517.2 855.7 L516.2 858.5 L515.2 861.3 L514.2 864.1 L513.2 866.8 L512.2 869.5 L511.2 872.2 L510.2 874.9 L509.2 877.6 L508.2 880.3 L507.2 882.9 L506.2 885.5 L505.2 888.2 L504.2 890.7 L503.2 893.3 L502.2 895.9 L501.2 898.4 L500.2 900.9 L499.2 903.4 L498.2 905.9 L497.2 908.4 L496.2 910.8 L495.2 913.3 L494.2 915.7 L493.2 918.1 L492.2 920.5 L491.2 922.8 L490.2 925.2 L489.2 927.5 L488.2 929.8 L487.2 932.1 L486.2 934.4 L485.2 936.6 L484.2 938.9 L483.2 941.1 L482.2 943.3 L481.2 945.5 L480.2 947.7 L479.2 949.8 L478.2 952.0 L477.2 954.1 L476.2 956.2 L475.2 958.3 L474.2 960.4 L473.2 962.5 L472.2 964.5 L471.2 966.5 L470.2 968.5 L469.2 970.5 L468.2 972.5 L467.2 974.5 L466.2 976.4 L465.2 978.4 L464.2 980.3 L463.2 982.2 L462.2 984.1 L461.2 985.9 L460.2 987.8 L459.2 989.6 L458.2 991.4 L457.2 993.2 L456.2 995.0 L455.2 996.8 L454.2 998.6 L453.2 1000.3 L452.2 1002.0 L451.2 1003.7 L450.2 1005.4 L449.2 1007.1 L448.2 1008.8 L447.2 1010.4 L446.2 1012.1 L445.2 1013.7 L444.2 1015.3 L443.2 1016.9 L442.2 1018.5 L441.2 1020.1 L440.2 1021.6 L439.2 1023.1 L438.2 1024.7 L437.2 1026.2 L436.2 1027.7 L435.2 1029.1 L434.2 1030.6 L433.2 1032.0 L432.2 1033.5 L431.2 1034.9 L430.2 1036.3 L429.2 1037.7 L428.2 1039.1 L427.2 1040.4 L426.2 1041.8 L425.2 1043.1 L424.2 1044.5 L423.2 1045.8 L422.2 1047.1 L421.2 1048.3 L420.2 1049.6 L419.2 1050.9 L418.2 1052.1 L417.2 1053.3 L416.2 1054.6 L415.2 1055.8 L414.2 1056.9 L413.2 1058.1 L412.2 1059.3 L411.2 1060.4 L410.2 1061.5 L409.2 1062.7 L408.2 1063.8 L407.2 1064.9 L406.2 1066.0 L405.2 1067.0 L404.2 1068.1 L403.2 1069.2 L402.2 1070.3 L401.2 1071.4 L400.2 1072.5 L399.2 1073.6 L398.2 1074.6 L397.2 1075.7 L396.2 1076.7 L395.2 1077.7 L394.2 1078.7 L393.2 1079.7 L392.2 1080.7 L391.2 1081.6 L390.2 1082.6 L389.2 1083.5 L388.2 1084.4 L387.2 1085.4 L386.2 1086.3 L385.2 1087.1 L384.2 1088.0 L383.2 1088.9 L382.2 1089.7 L381.2 1090.6 L380.2 1091.4 L379.2 1092.2 L378.2 1093.0 L377.2 1093.8 L376.2 1094.6 L375.2 1095.3 L374.2 1096.1 L373.2 1096.8 L372.2 1097.5 L371.2 1098.2 L370.2 1098.9 L369.2 1099.6 L368.2 1100.3 L367.2 1100.9 L366.2 1101.6 L365.2 1102.2 L364.2 1102.8 L363.2 1103.5 L362.2 1104.1 L361.2 1104.6 L360.2 1105.2 L359.2 1105.8 L358.2 1106.3 L357.2 1106.9 L356.2 1107.4 L355.2 1107.9 L354.2 1108.4 L353.2 1108.9 L352.2 1109.4 L351.2 1109.9 L350.2 1110.3 L349.2 1110.8 L348.2 1111.2 L347.2 1111.6 L346.2 1112.0 L345.2 1112.4 L344.2 1112.8 L343.2 1113.2 L342.2 1113.6 L341.2 1113.9 L340.2 1114.3 L339.2 1114.6 L338.2 1114.9 L337.2 1115.2 L336.2 1115.6 L335.2 1115.8 L334.2 1116.1 L333.2 1116.4 L332.2 1116.7 L331.2 1116.9 L330.2 1117.2 L329.2 1117.4 L328.2 1117.6 L327.2 1117.8 L326.2 1118.0 L325.2 1118.2 L324.2 1118.4 L323.2 1118.6 L322.2 1118.7 L321.2 1118.9 L320.2 1119.0 L319.2 1119.2 L318.2 1119.3 L317.2 1119.4 L316.2 1119.5 L315.2 1119.6 L314.2 1119.7 L313.2 1119.8 L312.2 1119.9 L311.2 1120.0 L310.2 1120.0 L309.2 1120.1 L308.2 1120.1 L307.2 1120.2 L306.2 1120.2 L305.2 1120.2 L304.2 1120.3 L303.2 1120.3 L302.2 1120.3 L301.2 1120.3 L300.2 1120.3 L299.2 1120.3 L298.2 1120.3 L297.2 1120.2 L296.2 1120.2 L295.2 1120.2 L294.2 1120.1 L293.2 1120.1 L292.2 1120.1 L291.2 1120.0 L290.2 1119.9 L289.2 1119.9 L288.2 1119.8 L287.2 1119.7 L286.2 1119.7 L285.2 1119.6 L284.2 1119.5 L283.2 1119.4 L282.2 1119.3 L281.2 1119.3 L280.2 1119.2 L279.2 1119.1 L278.2 1119.0 L277.2 1118.9Z" fill="#0b0d08" stroke="none"/>
<path d="M277.2 1097.0 L278.2 1097.2 L279.2 1097.4 L280.2 1097.6 L281.2 1097.8 L282.2 1098.0 L283.2 1098.2 L284.2 1098.4 L285.2 1098.6 L286.2 1098.8 L287.2 1098.9 L288.2 1099.1 L289.2 1099.3 L290.2 1099.4 L291.2 1099.6 L292.2 1099.7 L293.2 1099.8 L294.2 1100.0 L295.2 1100.1 L296.2 1100.2 L297.2 1100.3 L298.2 1100.4 L299.2 1100.5 L300.2 1100.6 L301.2 1100.7 L302.2 1100.8 L303.2 1100.8 L304.2 1100.9 L305.2 1101.0 L306.2 1101.0 L307.2 1101.1 L308.2 1101.1 L309.2 1101.1 L310.2 1101.1 L311.2 1101.2 L312.2 1101.2 L313.2 1101.1 L314.2 1101.1 L315.2 1101.1 L316.2 1101.1 L317.2 1101.1 L318.2 1101.0 L319.2 1101.0 L320.2 1100.9 L321.2 1100.8 L322.2 1100.7 L323.2 1100.6 L324.2 1100.5 L325.2 1100.4 L326.2 1100.3 L327.2 1100.2 L328.2 1100.1 L329.2 1099.9 L330.2 1099.8 L331.2 1099.6 L332.2 1099.4 L333.2 1099.2 L334.2 1099.0 L335.2 1098.8 L336.2 1098.6 L337.2 1098.4 L338.2 1098.2 L339.2 1097.9 L340.2 1097.7 L341.2 1097.4 L342.2 1097.1 L343.2 1096.8 L344.2 1096.5 L345.2 1096.2 L346.2 1095.9 L347.2 1095.6 L348.2 1095.2 L349.2 1094.9 L350.2 1094.5 L351.2 1094.1 L352.2 1093.7 L353.2 1093.3 L354.2 1092.9 L355.2 1092.5 L356.2 1092.0 L357.2 1091.6 L358.2 1091.1 L359.2 1090.6 L360.2 1090.2 L361.2 1089.7 L362.2 1089.2 L363.2 1088.6 L364.2 1088.1 L365.2 1087.5 L366.2 1087.0 L367.2 1086.4 L368.2 1085.8 L369.2 1085.2 L370.2 1084.6 L371.2 1084.0 L372.2 1083.3 L373.2 1082.7 L374.2 1082.0 L375.2 1081.4 L376.2 1080.7 L377.2 1080.0 L378.2 1079.2 L379.2 1078.5 L380.2 1077.8 L381.2 1077.0 L382.2 1076.2 L383.2 1075.5 L384.2 1074.7 L385.2 1073.9 L386.2 1073.0 L387.2 1072.2 L388.2 1071.4 L389.2 1070.5 L390.2 1069.6 L391.2 1068.7 L392.2 1067.8 L393.2 1066.9 L394.2 1066.0 L395.2 1065.0 L396.2 1064.1 L397.2 1063.1 L398.2 1062.1 L399.2 1061.1 L400.2 1060.1 L401.2 1059.1 L402.2 1058.1 L403.2 1057.0 L404.2 1055.9 L405.2 1054.7 L406.2 1053.5 L407.2 1052.4 L408.2 1051.2 L409.2 1050.0 L410.2 1048.8 L411.2 1047.5 L412.2 1046.3 L413.2 1045.0 L414.2 1043.8 L415.2 1042.5 L416.2 1041.2 L417.2 1039.9 L418.2 1038.6 L419.2 1037.2 L420.2 1035.9 L421.2 1034.5 L422.2 1033.2 L423.2 1031.8 L424.2 1030.4 L425.2 1029.0 L426.2 1027.6 L427.2 1026.2 L428.2 1024.7 L429.2 1023.3 L430.2 1021.8 L431.2 1020.4 L432.2 1018.9 L433.2 1017.4 L434.2 1015.9 L435.2 1014.4 L436.2 1012.8 L437.2 1011.3 L438.2 1009.7 L439.2 1008.2 L440.2 1006.6 L441.2 1005.0 L442.2 1003.4 L443.2 1001.8 L444.2 1000.2 L445.2 998.6 L446.2 996.9 L447.2 995.3 L448.2 993.6 L449.2 992.0 L450.2 990.3 L451.2 988.6 L452.2 986.9 L453.2 985.2 L454.2 983.5 L455.2 981.7 L456.2 980.0 L457.2 978.2 L458.2 976.5 L459.2 974.7 L460.2 972.9 L461.2 971.1 L462.2 969.3 L463.2 967.5 L464.2 965.7 L465.2 963.9 L466.2 962.1 L467.2 960.2 L468.2 958.3 L469.2 956.5 L470.2 954.6 L471.2 952.7 L472.2 950.8 L473.2 948.9 L474.2 947.0 L475.2 945.1 L476.2 943.2 L477.2 941.2 L478.2 939.3 L479.2 937.3 L480.2 935.4 L481.2 933.4 L482.2 931.4 L483.2 929.4 L484.2 927.4 L485.2 925.4 L486.2 923.4 L487.2 921.4 L488.2 919.4 L489.2 917.3 L490.2 915.3 L491.2 913.2 L492.2 911.2 L493.2 909.1 L494.2 907.0 L495.2 904.9 L496.2 902.8 L497.2 900.7 L498.2 898.6 L499.2 896.5 L500.2 894.4 L501.2 892.3 L502.2 890.1 L503.2 888.0 L504.2 885.8 L505.2 883.7 L506.2 881.5 L507.2 879.3 L508.2 877.2 L509.2 875.0 L510.2 872.8 L511.2 870.6 L512.2 868.4 L513.2 866.2 L514.2 864.0 L515.2 861.8 L516.2 859.5 L517.2 857.3 L518.2 855.1 L519.2 852.8 L520.2 850.6 L521.2 848.3 L522.2 846.1 L523.2 843.8 L524.2 841.5 L525.2 839.3 L526.2 837.0 L527.2 834.7 L528.2 832.4 L529.2 830.1 L530.2 827.8 L531.2 825.5 L532.2 823.2 L533.2 820.9 L534.2 818.6 L535.2 816.3 L536.2 814.0 L537.2 811.7 L538.2 809.4 L539.2 807.0 L540.2 804.7 L541.2 802.4 L542.2 800.1 L543.2 797.7 L544.2 795.4 L545.2 793.1 L546.2 790.7 L547.2 788.4 L548.2 786.1 L549.2 783.7 L550.2 781.4 L551.2 779.1 L552.2 776.7 L553.2 774.4 L554.2 772.0 L555.2 769.7 L556.2 767.4 L557.2 765.0 L558.2 762.7 L559.2 760.4 L560.2 758.0 L561.2 755.7 L562.2 753.4 L563.2 751.0 L564.2 748.7 L565.2 746.4 L566.2 744.1 L567.2 741.7 L568.2 739.4 L569.2 737.1 L570.2 734.8 L571.2 732.5 L572.2 730.2 L573.2 727.9 L574.2 725.6 L575.2 723.3 L576.2 721.0 L577.2 718.7 L578.2 716.4 L579.2 714.2 L580.2 711.9 L581.2 709.6 L582.2 707.4 L583.2 705.1 L584.2 702.8 L585.2 700.6 L586.2 698.3 L587.2 696.1 L588.2 693.9 L589.2 691.6 L590.2 689.4 L591.2 687.2 L592.2 685.0 L593.2 682.8 L594.2 680.6 L595.2 678.4 L596.2 676.2 L597.2 674.0 L598.2 671.8 L599.2 669.6 L600.2 667.5 L601.2 665.3 L602.2 663.2 L603.2 661.0 L604.2 658.9 L605.2 656.7 L606.2 654.6 L607.2 652.5 L608.2 650.3 L609.2 648.2 L610.2 646.1 L611.2 644.0 L612.2 641.9 L613.2 639.8 L614.2 637.7 L615.2 635.6 L616.2 633.6 L617.2 631.5 L618.2 629.4 L619.2 627.4 L620.2 625.3 L621.2 623.2 L622.2 621.2 L623.2 619.1 L624.2 617.1 L625.2 615.1 L626.2 613.0 L627.2 611.0 L628.2 609.0 L629.2 606.9 L630.2 604.9 L631.2 602.9 L632.2 600.9 L633.2 598.9 L634.2 596.9 L635.2 594.9 L636.2 592.9 L637.2 590.9 L638.2 588.9 L639.2 586.9 L640.2 584.9 L641.2 582.9 L642.2 580.9 L643.2 578.9 L644.2 576.9 L645.2 574.9 L646.2 572.9 L647.2 570.9 L648.2 568.9 L649.2 567.0 L650.2 565.0 L651.2 563.0 L652.2 561.0 L653.2 559.0 L654.2 557.0 L655.2 555.1 L656.2 553.1 L657.2 551.1 L658.2 549.1 L659.2 547.2 L660.2 545.2 L661.2 543.2 L662.2 541.2 L663.2 539.3 L664.2 537.3 L665.2 535.3 L666.2 533.4 L667.2 531.4 L668.2 529.4 L669.2 527.5 L670.2 525.5 L671.2 523.6 L672.2 521.6 L673.2 519.7 L674.2 517.7 L675.2 515.8 L676.2 513.9 L677.2 511.9 L678.2 510.0 L679.2 508.1 L680.2 506.2 L681.2 504.3 L682.2 502.4 L683.2 500.5 L684.2 498.6 L685.2 496.7 L686.2 494.9 L687.2 493.0 L688.2 491.2 L689.2 489.3 L690.2 487.5 L691.2 485.7 L692.2 483.9 L693.2 482.1 L694.2 480.3 L695.2 478.6 L696.2 476.8 L697.2 475.1 L698.2 473.4 L699.2 471.7 L700.2 470.0 L701.2 468.4 L702.2 466.7 L703.2 465.1 L704.2 463.5 L705.2 461.9 L706.2 460.4 L707.2 458.8 L708.2 457.3 L709.2 455.8 L710.2 454.4 L711.2 452.9 L712.2 451.5 L713.2 450.1 L714.2 448.8 L715.2 447.4 L716.2 446.1 L717.2 444.9 L718.2 443.6 L719.2 442.4 L720.2 441.2 L721.2 440.1 L722.2 438.9 L723.2 437.8 L724.2 436.7 L725.2 435.7 L726.2 434.6 L727.2 433.5 L728.2 432.4 L729.2 431.3 L730.2 430.2 L731.2 429.2 L732.2 428.2 L733.2 427.3 L734.2 426.3 L735.2 425.4 L736.2 424.6 L737.2 423.7 L738.2 423.0 L739.2 422.2 L740.2 421.5 L741.2 420.8 L742.2 420.1 L743.2 419.5 L744.2 419.0 L745.2 418.4 L746.2 417.9 L747.2 417.5 L748.2 417.0 L749.2 416.6 L750.2 416.3 L751.2 415.9 L752.2 415.7 L753.2 415.4 L754.2 415.2 L755.2 415.0 L756.2 414.9 L757.2 414.8 L758.2 414.7 L759.2 414.6 L760.2 414.6 L761.2 414.7 L762.2 414.7 L763.2 414.8 L764.2 414.9 L765.2 415.1 L766.2 415.3 L767.2 415.5 L768.2 415.7 L769.2 416.0 L770.2 416.3 L771.2 416.6 L772.2 417.0 L773.2 417.4 L774.2 417.8 L775.2 418.2 L776.2 418.7 L777.2 419.2 L778.2 419.7 L779.2 420.2 L780.2 420.8 L781.2 421.4 L782.2 422.0 L783.2 422.6 L784.2 423.2 L785.2 423.9 L786.2 424.6 L787.2 425.3 L788.2 426.0 L789.2 426.8 L790.2 427.5 L791.2 428.3 L792.2 429.1 L793.2 429.9 L794.2 430.7 L795.2 431.6 L796.2 432.4 L797.2 433.3 L798.2 434.2 L799.2 435.1 L800.2 436.0 L801.2 436.9 L802.2 437.9 L803.2 438.8 L804.2 439.8 L805.2 440.8 L806.2 441.8 L807.2 442.8 L808.2 443.8 L809.2 444.8 L810.2 445.9 L811.2 447.0 L812.2 448.0 L813.2 449.1 L814.2 450.2 L815.2 451.3 L816.2 452.4 L817.2 453.5 L818.2 454.6 L819.2 455.7 L820.2 456.8 L821.2 457.9 L822.2 459.0 L823.2 460.2 L824.2 461.3 L825.2 462.5 L826.2 463.7 L827.2 464.9 L828.2 466.2 L829.2 467.4 L830.2 468.7 L831.2 470.0 L832.2 471.3 L833.2 472.6 L834.2 474.0 L835.2 475.3 L836.2 476.7 L837.2 478.1 L838.2 479.6 L839.2 481.0 L840.2 482.5 L841.2 484.1 L842.2 485.6 L843.2 487.2 L844.2 488.8 L845.2 490.4 L846.2 492.1 L847.2 493.8 L848.2 495.5 L849.2 497.3 L850.2 499.0 L851.2 500.9 L852.2 502.7 L853.2 504.6 L854.2 506.6 L855.2 508.6 L856.2 510.6 L857.2 512.6 L858.2 514.7 L859.2 516.9 L860.2 519.1 L861.2 521.3 L862.2 523.6 L863.2 525.9 L864.2 528.2 L865.2 530.6 L866.2 533.1 L867.2 535.6 L868.2 538.1 L869.2 540.7 L870.2 543.4 L871.2 546.1 L872.2 548.8 L873.2 551.6 L874.2 554.5 L875.2 557.4 L876.2 560.3 L877.2 563.3 L878.2 566.4 L879.2 569.5 L880.2 572.6 L881.2 575.8 L882.2 579.1 L883.2 582.4 L884.2 585.8 L885.2 589.2 L886.2 592.6 L887.2 596.2 L888.2 599.7 L889.2 603.3 L890.2 607.0 L891.2 610.7 L892.2 614.5 L893.2 618.3 L894.2 622.2 L895.2 626.1 L896.2 630.1 L897.2 634.1 L898.2 638.2 L899.2 642.3 L900.2 646.4 L901.2 650.6 L902.2 654.8 L903.2 659.1 L904.2 663.4 L905.2 667.8 L906.2 672.2 L907.2 676.6 L908.2 681.1 L909.2 685.6 L910.2 690.1 L911.2 694.7 L912.2 699.3 L913.2 704.0 L914.2 708.6 L915.2 713.3 L916.2 718.1 L917.2 722.8 L918.2 727.6 L919.2 732.4 L920.2 737.2 L921.2 742.0 L922.2 746.9 L923.2 751.8 L924.2 756.6 L925.2 761.5 L926.2 766.5 L927.2 771.4 L928.2 776.3 L929.2 781.2 L930.2 786.2 L931.2 791.1 L932.2 796.1 L933.2 801.0 L934.2 806.0 L935.2 811.0 L936.2 815.9 L937.2 820.8 L938.2 825.8 L939.2 830.7 L940.2 835.6 L941.2 840.5 L942.2 845.4 L943.2 850.3 L944.2 855.2 L945.2 860.0 L946.2 864.8 L947.2 869.6 L948.2 874.4 L949.2 879.2 L950.2 883.9 L951.2 888.6 L952.2 893.3 L953.2 898.0 L954.2 902.6 L955.2 907.2 L956.2 911.8 L957.2 916.3 L958.2 920.8 L959.2 925.3 L960.2 929.7 L961.2 934.1 L962.2 938.4 L963.2 942.7 L964.2 947.0 L965.2 951.2 L966.2 955.4 L967.2 959.5 L968.2 963.6 L969.2 967.7 L970.2 971.7 L971.2 975.6 L972.2 979.5 L973.2 983.4 L974.2 987.2 L975.2 991.0 L976.2 994.7 L977.2 998.3 L978.2 1001.9 L979.2 1005.5 L980.2 1009.0 L981.2 1012.4 L982.2 1015.8 L983.2 1019.2 L984.2 1022.5 L985.2 1025.7 L986.2 1028.9 L987.2 1032.0 L988.2 1035.1 L989.2 1038.1 L990.2 1041.0 L991.2 1043.9 L992.2 1046.8 L993.2 1049.6 L994.2 1052.3 L995.2 1055.0 L996.2 1057.6 L997.2 1060.2 L998.2 1062.7 L999.2 1065.2 L1000.2 1067.6 L1001.2 1069.9 L1002.2 1072.2 L1003.2 1074.5 L1004.2 1076.6 L1005.2 1078.8 L1006.2 1080.8 L1007.2 1082.9 L1008.2 1084.8 L1009.2 1086.8 L1010.2 1088.6 L1011.2 1090.4 L1012.2 1092.2 L1013.2 1093.9 L1014.2 1095.6 L1015.2 1097.2 L1016.2 1098.7 L1017.2 1100.2 L1018.2 1101.7 L1019.2 1103.1 L1020.2 1104.5 L1021.2 1105.8 L1022.2 1107.1 L1023.2 1108.1 L1024.2 1109.0 L1025.2 1109.9 L1026.2 1110.7 L1027.2 1111.5 L1028.2 1112.2 L1029.2 1112.9 L1030.2 1113.6 L1031.2 1114.2 L1032.2 1114.8 L1033.2 1115.3 L1034.2 1115.9 L1035.2 1116.3 L1036.2 1116.8 L1037.2 1117.2 L1038.2 1117.6 L1039.2 1117.9 L1040.2 1118.2 L1041.2 1118.5 L1042.2 1118.7 L1043.2 1119.0 L1044.2 1119.1 L1045.2 1119.3 L1046.2 1119.4 L1047.2 1119.5 L1048.2 1119.6 L1049.2 1119.6 L1050.2 1119.7 L1051.2 1119.6 L1052.2 1119.6 L1053.2 1119.6 L1054.2 1119.5 L1055.2 1119.4 L1056.2 1119.2 L1057.2 1119.1 L1058.2 1118.9 L1059.2 1118.7 L1060.2 1118.5 L1061.2 1118.2 L1062.2 1118.0 L1063.2 1117.7 L1064.2 1117.4 L1065.2 1117.0 L1066.2 1116.7 L1067.2 1116.3 L1068.2 1115.9 L1069.2 1115.5 L1070.2 1115.1 L1071.2 1114.7 L1072.2 1114.2 L1073.2 1113.8 L1074.2 1113.3 L1075.2 1112.8 L1076.2 1112.3 L1077.2 1111.7 L1078.2 1111.2 L1079.2 1110.6 L1080.2 1110.0 L1081.2 1109.5 L1082.2 1108.8 L1083.2 1108.2 L1084.2 1107.6 L1085.2 1106.9 L1086.2 1106.3 L1087.2 1105.6 L1088.2 1104.9 L1089.2 1104.2 L1090.2 1103.5 L1091.2 1102.8 L1092.2 1102.0 L1093.2 1101.3 L1094.2 1100.5 L1095.2 1099.8 L1096.2 1099.0 L1097.2 1098.2 L1098.2 1097.4 L1099.2 1096.5 L1100.2 1095.7 L1101.2 1094.9 L1102.2 1094.0 L1103.2 1093.1 L1104.2 1092.3 L1105.2 1091.4 L1106.2 1090.5 L1107.2 1089.6 L1108.2 1088.6 L1109.2 1087.7 L1110.2 1086.8 L1111.2 1085.8 L1112.2 1084.8 L1113.2 1083.9 L1114.2 1082.9 L1115.2 1081.9 L1116.2 1080.9 L1117.2 1079.8 L1118.2 1078.8 L1119.2 1077.8 L1120.2 1076.7 L1121.2 1075.5 L1122.2 1074.4 L1123.2 1073.2 L1124.2 1072.1 L1125.2 1070.9 L1126.2 1069.7 L1127.2 1068.5 L1128.2 1067.3 L1129.2 1066.1 L1130.2 1064.9 L1131.2 1063.6 L1132.2 1062.4 L1133.2 1061.1 L1134.2 1059.8 L1135.2 1058.5 L1136.2 1057.2 L1137.2 1055.9 L1138.2 1054.6 L1139.2 1053.3 L1140.2 1052.0 L1141.2 1050.6 L1142.2 1049.2 L1143.2 1047.9 L1144.2 1046.5 L1145.2 1045.1 L1146.2 1043.7 L1147.2 1042.3 L1148.2 1040.8 L1149.2 1039.4 L1150.2 1038.0 L1151.2 1036.5 L1152.2 1035.0 L1153.2 1033.5 L1154.2 1032.1 L1155.2 1030.6 L1156.2 1029.0 L1157.2 1027.5 L1158.2 1026.0 L1159.2 1024.4 L1160.2 1022.9 L1161.2 1021.3 L1162.2 1019.8 L1163.2 1018.2 L1164.2 1016.6 L1165.2 1015.0 L1166.2 1013.4 L1167.2 1011.8 L1168.2 1010.1 L1169.2 1008.5 L1170.2 1006.9 L1171.2 1005.2 L1172.2 1003.5 L1173.2 1001.9 L1174.2 1000.2 L1175.2 998.5 L1176.2 996.8 L1177.2 995.1 L1178.2 993.4 L1179.2 991.6 L1180.2 989.9 L1181.2 988.2 L1182.2 986.4 L1183.2 984.7 L1184.2 982.9 L1185.2 981.2 L1186.2 979.4 L1187.2 977.6 L1188.2 975.8 L1189.2 974.0 L1190.2 972.2 L1191.2 970.4 L1192.2 968.6 L1193.2 966.8 L1194.2 965.0 L1195.2 963.1 L1196.2 961.3 L1197.2 959.5 L1198.2 957.6 L1199.2 955.8 L1200.2 953.9 L1201.2 952.1 L1202.2 950.2 L1203.2 948.3 L1204.2 946.4 L1205.2 944.6 L1206.2 942.7 L1207.2 940.8 L1208.2 938.9 L1209.2 937.0 L1210.2 935.1 L1211.2 933.2 L1212.2 931.4 L1213.2 929.5 L1214.2 927.5 L1215.2 925.6 L1216.2 923.7 L1217.2 921.8 L1218.2 919.9 L1219.2 918.0 L1220.2 916.1 L1221.2 914.2 L1222.2 912.3 L1223.2 910.3 L1224.2 908.4 L1225.2 906.5 L1226.2 904.6 L1227.2 902.7 L1228.2 900.8 L1229.2 898.8 L1230.2 896.9 L1231.2 895.0 L1232.2 893.1 L1233.2 891.2 L1234.2 889.3 L1235.2 887.3 L1236.2 885.4 L1237.2 883.5 L1238.2 881.6 L1239.2 879.7 L1240.2 877.8 L1241.2 875.9 L1242.2 874.0 L1243.2 872.1 L1244.2 870.2 L1245.2 868.3 L1246.2 866.4 L1247.2 864.5 L1248.2 862.6 L1249.2 860.7 L1250.2 858.8 L1251.2 856.9 L1252.2 855.1 L1253.2 853.2 L1254.2 851.3 L1255.2 849.4 L1256.2 847.6 L1257.2 845.7 L1258.2 843.9 L1259.2 842.0 L1260.2 840.2 L1261.2 838.3 L1262.2 836.5 L1263.2 834.6 L1264.2 832.8 L1265.2 831.0 L1266.2 829.1 L1267.2 827.3 L1268.2 825.5 L1269.2 823.7 L1270.2 821.9 L1271.2 820.0 L1272.2 818.2 L1273.2 816.4 L1274.2 814.6 L1275.2 812.9 L1276.2 811.1 L1277.2 809.3 L1278.2 807.5 L1279.2 805.7 L1280.2 804.0 L1281.2 802.2 L1282.2 800.4 L1283.2 798.7 L1284.2 796.9 L1285.2 795.2 L1286.2 793.4 L1287.2 791.7 L1288.2 789.9 L1289.2 788.2 L1290.2 786.5 L1291.2 784.7 L1292.2 783.0 L1293.2 781.3 L1294.2 779.6 L1295.2 777.8 L1296.2 776.1 L1297.2 774.4 L1298.2 772.7 L1299.2 771.0 L1300.2 769.3 L1301.2 767.6 L1302.2 765.9 L1303.2 764.2 L1304.2 762.5 L1305.2 760.8 L1306.2 759.1 L1307.2 757.4 L1308.2 755.7 L1309.2 754.0 L1310.2 752.3 L1311.2 750.6 L1312.2 748.9 L1313.2 747.2 L1314.2 745.5 L1315.2 743.8 L1316.2 742.1 L1317.2 740.4 L1318.2 738.7 L1319.2 737.0 L1320.2 735.3 L1321.2 733.6 L1322.2 731.9 L1323.2 730.1 L1324.2 728.4 L1325.2 726.7 L1326.2 725.0 L1327.2 723.2 L1328.2 721.5 L1329.2 719.8 L1330.2 718.0 L1331.2 716.3 L1332.2 714.5 L1333.2 712.8 L1334.2 711.0 L1335.2 709.2 L1336.2 707.4 L1337.2 705.7 L1338.2 703.9 L1339.2 702.1 L1340.2 700.3 L1341.2 698.4 L1342.2 696.6 L1343.2 694.8 L1344.2 693.0 L1345.2 691.1 L1346.2 689.3 L1347.2 687.4 L1348.2 685.5 L1349.2 683.6 L1350.2 681.7 L1351.2 679.8 L1352.2 677.9 L1353.2 676.0 L1354.2 674.1 L1355.2 672.1 L1356.2 670.2 L1357.2 668.2 L1358.2 666.2 L1359.2 664.2 L1360.2 662.2 L1361.2 660.2 L1362.2 658.2 L1363.2 656.2 L1364.2 654.1 L1365.2 652.1 L1366.2 650.0 L1367.2 648.0 L1368.2 645.9 L1369.2 643.8 L1370.2 641.7 L1371.2 639.6 L1372.2 637.4 L1373.2 635.3 L1374.2 633.2 L1375.2 631.0 L1376.2 628.9 L1377.2 626.7 L1378.2 624.5 L1379.2 622.3 L1380.2 620.1 L1381.2 617.9 L1382.2 615.7 L1383.2 613.5 L1384.2 611.3 L1385.2 609.0 L1386.2 606.8 L1387.2 604.5 L1388.2 602.3 L1389.2 600.0 L1390.2 597.8 L1391.2 595.5 L1392.2 593.3 L1393.2 591.0 L1394.2 588.7 L1395.2 586.5 L1396.2 584.2 L1397.2 582.0 L1398.2 579.7 L1399.2 577.4 L1400.2 575.2 L1401.2 572.9 L1402.2 570.7 L1403.2 568.4 L1404.2 566.2 L1405.2 563.9 L1406.2 561.7 L1407.2 559.5 L1408.2 557.3 L1409.2 555.1 L1410.2 552.9 L1411.2 550.7 L1412.2 548.6 L1413.2 546.4 L1414.2 544.3 L1415.2 542.2 L1416.2 540.0 L1417.2 538.0 L1418.2 535.9 L1419.2 533.8 L1420.2 531.8 L1421.2 529.8 L1422.2 527.8 L1423.2 525.9 L1424.2 523.9 L1425.2 522.0 L1426.2 520.1 L1427.2 518.3 L1428.2 516.4 L1429.2 514.6 L1430.2 512.8 L1431.2 511.1 L1432.2 509.4 L1433.2 507.7 L1434.2 506.1 L1435.2 504.5 L1436.2 502.9 L1437.2 501.3 L1438.2 499.8 L1439.2 498.4 L1440.2 497.0 L1441.2 495.6 L1442.2 494.2 L1443.2 492.9 L1444.2 491.7 L1445.2 490.5 L1446.2 489.3 L1447.2 488.2 L1448.2 487.1 L1449.2 486.0 L1450.2 484.9 L1451.2 483.8 L1452.2 482.7 L1453.2 481.6 L1454.2 480.6 L1455.2 479.5 L1456.2 478.5 L1457.2 477.6 L1458.2 476.7 L1459.2 475.8 L1460.2 475.0 L1461.2 474.3 L1462.2 473.6 L1463.2 472.9 L1464.2 472.4 L1465.2 471.8 L1466.2 471.3 L1467.2 470.9 L1468.2 470.5 L1469.2 470.2 L1470.2 469.9 L1471.2 469.7 L1472.2 469.6 L1473.2 469.5 L1474.2 469.4 L1475.2 469.4 L1476.2 469.5 L1477.2 469.6 L1478.2 469.8 L1479.2 470.0 L1480.2 470.3 L1481.2 470.7 L1482.2 471.1 L1483.2 471.6 L1484.2 472.1 L1485.2 472.7 L1486.2 473.4 L1487.2 474.1 L1488.2 474.8 L1489.2 475.7 L1490.2 476.6 L1491.2 477.5 L1492.2 478.5 L1493.2 479.6 L1494.2 480.7 L1495.2 481.7 L1496.2 482.8 L1497.2 483.9 L1498.2 485.0 L1499.2 486.1 L1500.2 487.2 L1501.2 488.4 L1502.2 489.6 L1503.2 490.9 L1504.2 492.2 L1505.2 493.6 L1506.2 495.1 L1507.2 496.6 L1508.2 498.2 L1509.2 499.8 L1510.2 501.5 L1511.2 503.2 L1512.2 505.0 L1513.2 506.9 L1514.2 508.8 L1515.2 510.8 L1516.2 512.8 L1517.2 514.9 L1518.2 517.0 L1519.2 519.2 L1520.2 521.4 L1521.2 523.7 L1522.2 526.1 L1523.2 528.5 L1524.2 530.9 L1525.2 533.4 L1526.2 536.0 L1527.2 538.6 L1528.2 541.2 L1529.2 543.9 L1530.2 546.6 L1531.2 549.4 L1532.2 552.3 L1533.2 555.2 L1534.2 558.1 L1535.2 561.1 L1536.2 564.1 L1537.2 567.2 L1538.2 570.3 L1539.2 573.4 L1540.2 576.6 L1541.2 579.9 L1542.2 583.1 L1543.2 586.5 L1544.2 589.8 L1545.2 593.2 L1546.2 596.7 L1547.2 600.1 L1548.2 603.6 L1549.2 607.2 L1550.2 610.8 L1551.2 614.4 L1552.2 618.0 L1553.2 621.7 L1554.2 625.4 L1555.2 629.2 L1556.2 633.0 L1557.2 636.8 L1558.2 640.6 L1559.2 644.5 L1560.2 648.4 L1561.2 652.3 L1562.2 656.3 L1563.2 660.3 L1564.2 664.3 L1565.2 668.3 L1566.2 672.3 L1567.2 676.4 L1568.2 680.5 L1569.2 684.6 L1570.2 688.7 L1571.2 692.9 L1572.2 697.1 L1573.2 701.2 L1574.2 705.4 L1575.2 709.7 L1576.2 713.9 L1577.2 718.1 L1578.2 722.4 L1579.2 726.7 L1580.2 731.0 L1581.2 735.2 L1582.2 739.5 L1583.2 743.9 L1584.2 748.2 L1585.2 752.5 L1586.2 756.8 L1587.2 761.2 L1588.2 765.5 L1589.2 769.9 L1590.2 774.2 L1591.2 778.6 L1592.2 782.9 L1593.2 787.3 L1594.2 791.6 L1595.2 796.0 L1596.2 800.3 L1597.2 804.7 L1598.2 809.0 L1599.2 813.4 L1600.2 817.7 L1601.2 822.0 L1602.2 826.3 L1603.2 830.7 L1604.2 835.0 L1605.2 839.3 L1606.2 843.5 L1607.2 847.8 L1608.2 852.1 L1609.2 856.3 L1610.2 860.6 L1611.2 864.8 L1612.2 869.0 L1613.2 873.2 L1614.2 877.4 L1615.2 881.6 L1616.2 885.7 L1617.2 889.8 L1618.2 893.9 L1619.2 898.0 L1620.2 902.1 L1621.2 906.2 L1622.2 910.2 L1623.2 914.2 L1624.2 918.2 L1625.2 922.2 L1626.2 926.1 L1627.2 930.1 L1628.2 934.0 L1629.2 937.8 L1630.2 941.7 L1631.2 945.5 L1632.2 949.3 L1633.2 953.1 L1634.2 956.9 L1635.2 960.6 L1636.2 964.3 L1637.2 968.0 L1638.2 971.6 L1639.2 975.2 L1640.2 978.8 L1641.2 982.4 L1642.2 985.9 L1643.2 989.4 L1644.2 992.9 L1645.2 996.3 L1646.2 999.7 L1647.2 1003.1 L1648.2 1006.4 L1649.2 1009.8 L1650.2 1013.0 L1651.2 1016.3 L1652.2 1019.5 L1653.2 1022.7 L1654.2 1025.9 L1655.2 1029.0 L1656.2 1032.1 L1657.2 1035.2 L1658.2 1038.2 L1659.2 1041.2 L1660.2 1044.2 L1661.2 1047.1 L1662.2 1050.0 L1663.2 1052.9 L1664.2 1055.8 L1665.2 1058.6 L1666.2 1061.4 L1667.2 1064.1 L1668.2 1066.8 L1669.2 1069.5 L1670.2 1072.1 L1671.2 1074.8 L1672.2 1077.4 L1673.2 1079.9 L1674.2 1082.4 L1675.2 1084.9 L1676.2 1087.4 L1677.2 1089.8 L1678.2 1092.2 L1679.2 1094.6 L1680.2 1096.9 L1681.2 1099.2 L1682.2 1101.5 L1683.2 1103.7 L1684.2 1106.0 L1685.2 1108.1 L1686.2 1110.3 L1687.2 1112.4 L1688.2 1114.5 L1689.2 1116.6 L1690.2 1118.6 L1691.2 1120.6 L1692.2 1122.6 L1693.2 1124.6 L1694.2 1126.5 L1695.2 1128.4 L1696.2 1130.2 L1697.2 1132.1 L1698.2 1133.9 L1699.2 1135.7 L1700.2 1137.4 L1701.2 1139.2 L1702.2 1140.9 L1703.2 1142.5 L1704.2 1144.2 L1705.2 1145.8 L1706.2 1147.4 L1707.2 1149.0 L1708.2 1150.6 L1709.2 1152.1 L1710.2 1153.6 L1711.2 1155.1 L1712.2 1156.5 L1713.2 1158.0 L1714.2 1159.4 L1715.2 1160.8 L1716.2 1162.1 L1717.2 1163.5 L1718.2 1164.8 L1719.2 1166.1 L1720.2 1167.4 L1721.2 1168.6 L1722.2 1169.9 L1723.2 1171.1 L1724.2 1172.3 L1725.2 1173.5 L1726.2 1174.6 L1727.2 1175.7 L1728.2 1176.7 L1729.2 1177.7 L1730.2 1178.6 L1731.2 1179.6 L1732.2 1180.5 L1733.2 1181.5 L1734.2 1182.4 L1735.2 1183.3 L1736.2 1184.1 L1737.2 1185.0 L1738.2 1185.8 L1739.2 1186.7 L1740.2 1187.5 L1741.2 1188.3 L1742.2 1189.1 L1743.2 1189.9 L1744.2 1190.6 L1745.2 1191.4 L1746.2 1192.1 L1747.2 1192.8 L1748.2 1193.5 L1749.2 1194.2 L1750.2 1194.9 L1751.2 1195.6 L1752.2 1196.3 L1753.2 1196.9 L1754.2 1197.5 L1755.2 1198.2 L1756.2 1198.8 L1757.2 1199.4 L1758.2 1200.0 L1759.2 1200.6 L1760.2 1201.2 L1761.2 1201.7 L1762.2 1202.3 L1763.2 1202.8 L1764.2 1203.4 L1765.2 1203.9 L1766.2 1204.4 L1767.2 1204.9 L1768.2 1205.4 L1769.2 1205.9 L1770.2 1206.4 L1771.2 1206.9 L1772.2 1207.3 L1773.2 1207.8 L1774.2 1208.2 L1775.2 1208.7 L1776.2 1209.1 L1777.2 1209.5 L1778.2 1209.9 L1779.2 1210.4 L1780.2 1210.8 L1781.2 1211.2 L1782.2 1211.5 L1783.2 1211.9 L1784.2 1212.3 L1785.2 1212.7 L1786.2 1213.0 L1787.2 1213.4 L1788.2 1213.7 L1789.2 1214.1 L1790.2 1214.4 L1791.2 1214.8 L1792.2 1215.1 L1793.2 1215.4 L1794.2 1215.7 L1795.2 1216.0 L1796.2 1216.3 L1797.2 1216.6 L1798.2 1216.9 L1799.2 1217.2 L1800.2 1217.5 L1801.2 1217.8 L1802.2 1218.1 L1803.2 1218.3 L1804.2 1218.6 L1805.2 1218.9 L1806.2 1219.1 L1807.2 1219.4 L1808.2 1219.6 L1809.2 1219.9 L1810.2 1220.1 L1811.2 1220.3 L1812.2 1220.6 L1813.2 1220.8 L1814.2 1221.0 L1815.2 1221.2 L1816.2 1221.5 L1817.2 1221.7 L1818.2 1221.9 L1819.2 1222.1 L1820.2 1222.3 L1821.2 1222.5 L1822.2 1222.7 L1823.2 1222.9 L1824.2 1223.1 L1825.2 1223.2 L1826.2 1223.4 L1827.2 1223.6 L1828.2 1223.8 L1829.2 1224.0 L1830.2 1224.1 L1831.2 1224.3 L1832.2 1224.5 L1833.2 1224.6 L1834.2 1224.8 L1835.2 1224.9 L1836.2 1225.1 L1837.2 1225.2 L1838.2 1225.4 L1839.2 1225.5 L1840.2 1225.7 L1841.2 1225.8 L1842.2 1225.9 L1843.2 1226.1 L1844.2 1226.2 L1845.2 1226.3 L1846.2 1226.5 L1847.2 1226.6 L1848.2 1226.7 L1849.2 1226.8 L1850.2 1227.0 L1851.2 1227.1 L1852.2 1227.2 L1853.2 1227.3 L1854.2 1227.4 L1855.2 1227.5 L1856.2 1227.6 L1857.2 1227.7 L1858.2 1227.8 L1859.2 1227.9 L1860.2 1228.0 L1861.2 1228.1 L1862.2 1228.2 L1863.2 1228.3 L1864.2 1228.4 L1865.2 1228.5 L1866.2 1228.6 L1867.2 1228.7 L1867.2 1242.2 L1866.2 1242.1 L1865.2 1242.0 L1864.2 1241.9 L1863.2 1241.8 L1862.2 1241.7 L1861.2 1241.6 L1860.2 1241.5 L1859.2 1241.4 L1858.2 1241.3 L1857.2 1241.2 L1856.2 1241.1 L1855.2 1241.0 L1854.2 1240.9 L1853.2 1240.8 L1852.2 1240.7 L1851.2 1240.6 L1850.2 1240.5 L1849.2 1240.3 L1848.2 1240.2 L1847.2 1240.1 L1846.2 1240.0 L1845.2 1239.8 L1844.2 1239.7 L1843.2 1239.6 L1842.2 1239.4 L1841.2 1239.3 L1840.2 1239.2 L1839.2 1239.0 L1838.2 1238.9 L1837.2 1238.7 L1836.2 1238.6 L1835.2 1238.4 L1834.2 1238.3 L1833.2 1238.1 L1832.2 1238.0 L1831.2 1237.8 L1830.2 1237.6 L1829.2 1237.5 L1828.2 1237.3 L1827.2 1237.1 L1826.2 1236.9 L1825.2 1236.7 L1824.2 1236.6 L1823.2 1236.4 L1822.2 1236.2 L1821.2 1236.0 L1820.2 1235.8 L1819.2 1235.6 L1818.2 1235.4 L1817.2 1235.2 L1816.2 1235.0 L1815.2 1234.7 L1814.2 1234.5 L1813.2 1234.3 L1812.2 1234.1 L1811.2 1233.8 L1810.2 1233.6 L1809.2 1233.4 L1808.2 1233.1 L1807.2 1232.9 L1806.2 1232.6 L1805.2 1232.4 L1804.2 1232.1 L1803.2 1231.8 L1802.2 1231.6 L1801.2 1231.3 L1800.2 1231.0 L1799.2 1230.7 L1798.2 1230.4 L1797.2 1230.1 L1796.2 1229.8 L1795.2 1229.5 L1794.2 1229.2 L1793.2 1228.9 L1792.2 1228.6 L1791.2 1228.3 L1790.2 1227.9 L1789.2 1227.6 L1788.2 1227.2 L1787.2 1226.9 L1786.2 1226.5 L1785.2 1226.2 L1784.2 1225.8 L1783.2 1225.4 L1782.2 1225.0 L1781.2 1224.7 L1780.2 1224.3 L1779.2 1223.9 L1778.2 1223.4 L1777.2 1223.0 L1776.2 1222.6 L1775.2 1222.2 L1774.2 1221.7 L1773.2 1221.3 L1772.2 1220.8 L1771.2 1220.4 L1770.2 1219.9 L1769.2 1219.4 L1768.2 1218.9 L1767.2 1218.4 L1766.2 1217.9 L1765.2 1217.4 L1764.2 1216.9 L1763.2 1216.3 L1762.2 1215.8 L1761.2 1215.2 L1760.2 1214.7 L1759.2 1214.1 L1758.2 1213.5 L1757.2 1212.9 L1756.2 1212.3 L1755.2 1211.7 L1754.2 1211.0 L1753.2 1210.4 L1752.2 1209.8 L1751.2 1209.1 L1750.2 1208.4 L1749.2 1207.7 L1748.2 1207.0 L1747.2 1206.3 L1746.2 1205.6 L1745.2 1204.9 L1744.2 1204.1 L1743.2 1203.4 L1742.2 1202.6 L1741.2 1201.8 L1740.2 1201.0 L1739.2 1200.2 L1738.2 1199.3 L1737.2 1198.5 L1736.2 1197.6 L1735.2 1196.8 L1734.2 1195.9 L1733.2 1195.0 L1732.2 1194.0 L1731.2 1193.1 L1730.2 1192.1 L1729.2 1191.2 L1728.2 1190.2 L1727.2 1189.2 L1726.2 1188.1 L1725.2 1187.1 L1724.2 1186.0 L1723.2 1185.0 L1722.2 1183.9 L1721.2 1182.8 L1720.2 1181.7 L1719.2 1180.6 L1718.2 1179.5 L1717.2 1178.4 L1716.2 1177.3 L1715.2 1176.2 L1714.2 1175.1 L1713.2 1173.9 L1712.2 1172.8 L1711.2 1171.6 L1710.2 1170.4 L1709.2 1169.1 L1708.2 1167.9 L1707.2 1166.6 L1706.2 1165.3 L1705.2 1164.0 L1704.2 1162.7 L1703.2 1161.3 L1702.2 1159.9 L1701.2 1158.5 L1700.2 1157.1 L1699.2 1155.6 L1698.2 1154.2 L1697.2 1152.7 L1696.2 1151.1 L1695.2 1149.6 L1694.2 1148.0 L1693.2 1146.4 L1692.2 1144.8 L1691.2 1143.2 L1690.2 1141.5 L1689.2 1139.8 L1688.2 1138.1 L1687.2 1136.3 L1686.2 1134.5 L1685.2 1132.7 L1684.2 1130.9 L1683.2 1129.0 L1682.2 1127.2 L1681.2 1125.2 L1680.2 1123.3 L1679.2 1121.3 L1678.2 1119.3 L1677.2 1117.3 L1676.2 1115.2 L1675.2 1113.2 L1674.2 1111.0 L1673.2 1108.9 L1672.2 1106.7 L1671.2 1104.5 L1670.2 1102.3 L1669.2 1100.0 L1668.2 1097.7 L1667.2 1095.4 L1666.2 1093.0 L1665.2 1090.6 L1664.2 1088.2 L1663.2 1085.8 L1662.2 1083.3 L1661.2 1080.8 L1660.2 1078.2 L1659.2 1075.7 L1658.2 1073.0 L1657.2 1070.4 L1656.2 1067.7 L1655.2 1065.0 L1654.2 1062.3 L1653.2 1059.5 L1652.2 1056.7 L1651.2 1053.9 L1650.2 1051.0 L1649.2 1048.1 L1648.2 1045.2 L1647.2 1042.2 L1646.2 1039.2 L1645.2 1036.2 L1644.2 1033.1 L1643.2 1030.1 L1642.2 1026.9 L1641.2 1023.8 L1640.2 1020.6 L1639.2 1017.4 L1638.2 1014.1 L1637.2 1010.9 L1636.2 1007.5 L1635.2 1004.2 L1634.2 1000.8 L1633.2 997.4 L1632.2 994.0 L1631.2 990.5 L1630.2 987.0 L1629.2 983.5 L1628.2 980.0 L1627.2 976.4 L1626.2 972.8 L1625.2 969.2 L1624.2 965.5 L1623.2 961.8 L1622.2 958.1 L1621.2 954.3 L1620.2 950.6 L1619.2 946.8 L1618.2 943.0 L1617.2 939.1 L1616.2 935.2 L1615.2 931.3 L1614.2 927.4 L1613.2 923.5 L1612.2 919.5 L1611.2 915.5 L1610.2 911.5 L1609.2 907.5 L1608.2 903.4 L1607.2 899.4 L1606.2 895.3 L1605.2 891.2 L1604.2 887.1 L1603.2 882.9 L1602.2 878.7 L1601.2 874.6 L1600.2 870.4 L1599.2 866.2 L1598.2 862.0 L1597.2 857.7 L1596.2 853.5 L1595.2 849.2 L1594.2 844.9 L1593.2 840.7 L1592.2 836.4 L1591.2 832.1 L1590.2 827.7 L1589.2 823.4 L1588.2 819.1 L1587.2 814.8 L1586.2 810.4 L1585.2 806.1 L1584.2 801.7 L1583.2 797.4 L1582.2 793.0 L1581.2 788.7 L1580.2 784.3 L1579.2 780.0 L1578.2 775.6 L1577.2 771.3 L1576.2 766.9 L1575.2 762.6 L1574.2 758.3 L1573.2 753.9 L1572.2 749.6 L1571.2 745.3 L1570.2 741.0 L1569.2 736.6 L1568.2 732.3 L1567.2 728.1 L1566.2 723.8 L1565.2 719.5 L1564.2 715.3 L1563.2 711.0 L1562.2 706.8 L1561.2 702.6 L1560.2 698.4 L1559.2 694.2 L1558.2 690.1 L1557.2 685.9 L1556.2 681.8 L1555.2 677.7 L1554.2 673.7 L1553.2 669.6 L1552.2 665.6 L1551.2 661.6 L1550.2 657.6 L1549.2 653.6 L1548.2 649.7 L1547.2 645.8 L1546.2 641.9 L1545.2 638.0 L1544.2 634.2 L1543.2 630.4 L1542.2 626.7 L1541.2 623.0 L1540.2 619.3 L1539.2 615.6 L1538.2 612.0 L1537.2 608.4 L1536.2 604.8 L1535.2 601.3 L1534.2 597.8 L1533.2 594.4 L1532.2 590.9 L1531.2 587.6 L1530.2 584.2 L1529.2 581.0 L1528.2 577.7 L1527.2 574.5 L1526.2 571.3 L1525.2 568.2 L1524.2 565.1 L1523.2 562.1 L1522.2 559.1 L1521.2 556.1 L1520.2 553.2 L1519.2 550.4 L1518.2 547.6 L1517.2 544.8 L1516.2 542.1 L1515.2 539.5 L1514.2 536.8 L1513.2 534.3 L1512.2 531.8 L1511.2 529.3 L1510.2 526.9 L1509.2 524.5 L1508.2 522.2 L1507.2 520.0 L1506.2 517.8 L1505.2 515.6 L1504.2 513.5 L1503.2 511.5 L1502.2 509.5 L1501.2 507.6 L1500.2 505.7 L1499.2 503.9 L1498.2 502.1 L1497.2 500.4 L1496.2 498.8 L1495.2 497.2 L1494.2 495.7 L1493.2 494.2 L1492.2 492.8 L1491.2 491.4 L1490.2 490.1 L1489.2 489.2 L1488.2 488.3 L1487.2 487.6 L1486.2 486.9 L1485.2 486.2 L1484.2 485.6 L1483.2 485.1 L1482.2 484.6 L1481.2 484.2 L1480.2 483.8 L1479.2 483.5 L1478.2 483.3 L1477.2 483.1 L1476.2 483.0 L1475.2 482.9 L1474.2 482.9 L1473.2 483.0 L1472.2 483.1 L1471.2 483.2 L1470.2 483.4 L1469.2 483.7 L1468.2 484.0 L1467.2 484.4 L1466.2 484.8 L1465.2 485.3 L1464.2 485.9 L1463.2 486.4 L1462.2 487.1 L1461.2 487.8 L1460.2 488.5 L1459.2 489.3 L1458.2 490.2 L1457.2 491.1 L1456.2 492.2 L1455.2 493.4 L1454.2 494.7 L1453.2 496.1 L1452.2 497.5 L1451.2 498.9 L1450.2 500.4 L1449.2 501.9 L1448.2 503.5 L1447.2 505.1 L1446.2 506.7 L1445.2 508.3 L1444.2 510.0 L1443.2 511.7 L1442.2 513.5 L1441.2 515.3 L1440.2 517.1 L1439.2 518.9 L1438.2 520.8 L1437.2 522.7 L1436.2 524.6 L1435.2 526.6 L1434.2 528.5 L1433.2 530.5 L1432.2 532.5 L1431.2 534.6 L1430.2 536.6 L1429.2 538.7 L1428.2 540.8 L1427.2 542.9 L1426.2 545.0 L1425.2 547.2 L1424.2 549.3 L1423.2 551.5 L1422.2 553.7 L1421.2 555.9 L1420.2 558.1 L1419.2 560.3 L1418.2 562.5 L1417.2 564.7 L1416.2 567.0 L1415.2 569.2 L1414.2 571.4 L1413.2 573.7 L1412.2 576.0 L1411.2 578.2 L1410.2 580.5 L1409.2 582.7 L1408.2 585.0 L1407.2 587.3 L1406.2 589.5 L1405.2 591.8 L1404.2 594.1 L1403.2 596.3 L1402.2 598.6 L1401.2 600.8 L1400.2 603.1 L1399.2 605.3 L1398.2 607.6 L1397.2 609.8 L1396.2 612.0 L1395.2 614.3 L1394.2 616.5 L1393.2 618.7 L1392.2 620.9 L1391.2 623.1 L1390.2 625.3 L1389.2 627.4 L1388.2 629.6 L1387.2 631.8 L1386.2 633.9 L1385.2 636.1 L1384.2 638.2 L1383.2 640.3 L1382.2 642.4 L1381.2 644.5 L1380.2 646.6 L1379.2 648.7 L1378.2 650.8 L1377.2 652.8 L1376.2 654.9 L1375.2 656.9 L1374.2 658.9 L1373.2 660.9 L1372.2 662.9 L1371.2 664.9 L1370.2 666.9 L1369.2 668.9 L1368.2 670.9 L1367.2 672.8 L1366.2 674.8 L1365.2 676.7 L1364.2 678.6 L1363.2 680.5 L1362.2 682.4 L1361.2 684.3 L1360.2 686.2 L1359.2 688.1 L1358.2 689.9 L1357.2 691.8 L1356.2 693.6 L1355.2 695.5 L1354.2 697.3 L1353.2 699.1 L1352.2 700.9 L1351.2 702.7 L1350.2 704.5 L1349.2 706.3 L1348.2 708.1 L1347.2 709.9 L1346.2 711.6 L1345.2 713.4 L1344.2 715.2 L1343.2 716.9 L1342.2 718.7 L1341.2 720.4 L1340.2 722.1 L1339.2 723.9 L1338.2 725.6 L1337.2 727.3 L1336.2 729.0 L1335.2 730.8 L1334.2 732.5 L1333.2 734.2 L1332.2 735.9 L1331.2 737.6 L1330.2 739.3 L1329.2 741.0 L1328.2 742.7 L1327.2 744.4 L1326.2 746.1 L1325.2 747.8 L1324.2 749.5 L1323.2 751.2 L1322.2 752.9 L1321.2 754.6 L1320.2 756.3 L1319.2 758.0 L1318.2 759.7 L1317.2 761.4 L1316.2 763.1 L1315.2 764.8 L1314.2 766.5 L1313.2 768.2 L1312.2 769.9 L1311.2 771.6 L1310.2 773.3 L1309.2 775.0 L1308.2 776.7 L1307.2 778.5 L1306.2 780.2 L1305.2 781.9 L1304.2 783.6 L1303.2 785.4 L1302.2 787.1 L1301.2 788.8 L1300.2 790.6 L1299.2 792.3 L1298.2 794.0 L1297.2 795.8 L1296.2 797.5 L1295.2 799.3 L1294.2 801.1 L1293.2 802.8 L1292.2 804.6 L1291.2 806.4 L1290.2 808.1 L1289.2 809.9 L1288.2 811.7 L1287.2 813.5 L1286.2 815.3 L1285.2 817.1 L1284.2 818.9 L1283.2 820.7 L1282.2 822.5 L1281.2 824.3 L1280.2 826.1 L1279.2 828.0 L1278.2 829.8 L1277.2 831.6 L1276.2 833.4 L1275.2 835.3 L1274.2 837.1 L1273.2 839.0 L1272.2 840.8 L1271.2 842.7 L1270.2 844.5 L1269.2 846.4 L1268.2 848.2 L1267.2 850.1 L1266.2 852.0 L1265.2 853.9 L1264.2 855.7 L1263.2 857.6 L1262.2 859.5 L1261.2 861.4 L1260.2 863.3 L1259.2 865.2 L1258.2 867.1 L1257.2 869.0 L1256.2 870.9 L1255.2 872.8 L1254.2 874.7 L1253.2 876.6 L1252.2 878.5 L1251.2 880.4 L1250.2 882.3 L1249.2 884.2 L1248.2 886.1 L1247.2 888.0 L1246.2 889.9 L1245.2 891.9 L1244.2 893.8 L1243.2 895.7 L1242.2 897.6 L1241.2 899.5 L1240.2 901.4 L1239.2 903.4 L1238.2 905.3 L1237.2 907.2 L1236.2 909.1 L1235.2 911.0 L1234.2 912.9 L1233.2 914.9 L1232.2 916.8 L1231.2 918.7 L1230.2 920.6 L1229.2 922.5 L1228.2 924.4 L1227.2 926.3 L1226.2 928.2 L1225.2 930.1 L1224.2 932.0 L1223.2 933.9 L1222.2 935.8 L1221.2 937.7 L1220.2 939.6 L1219.2 941.5 L1218.2 943.4 L1217.2 945.2 L1216.2 947.1 L1215.2 949.0 L1214.2 950.9 L1213.2 952.7 L1212.2 954.6 L1211.2 956.4 L1210.2 958.3 L1209.2 960.1 L1208.2 962.0 L1207.2 963.8 L1206.2 965.6 L1205.2 967.4 L1204.2 969.3 L1203.2 971.1 L1202.2 972.9 L1201.2 974.7 L1200.2 976.5 L1199.2 978.2 L1198.2 980.0 L1197.2 981.8 L1196.2 983.6 L1195.2 985.3 L1194.2 987.1 L1193.2 988.8 L1192.2 990.5 L1191.2 992.3 L1190.2 994.0 L1189.2 995.7 L1188.2 997.4 L1187.2 999.1 L1186.2 1000.8 L1185.2 1002.5 L1184.2 1004.1 L1183.2 1005.8 L1182.2 1007.5 L1181.2 1009.1 L1180.2 1010.7 L1179.2 1012.4 L1178.2 1014.0 L1177.2 1015.6 L1176.2 1017.2 L1175.2 1018.8 L1174.2 1020.3 L1173.2 1021.9 L1172.2 1023.5 L1171.2 1025.0 L1170.2 1026.6 L1169.2 1028.1 L1168.2 1029.6 L1167.2 1031.1 L1166.2 1032.6 L1165.2 1034.1 L1164.2 1035.6 L1163.2 1037.0 L1162.2 1038.5 L1161.2 1039.9 L1160.2 1041.4 L1159.2 1042.8 L1158.2 1044.2 L1157.2 1045.6 L1156.2 1047.0 L1155.2 1048.4 L1154.2 1049.8 L1153.2 1051.1 L1152.2 1052.5 L1151.2 1053.8 L1150.2 1055.1 L1149.2 1056.4 L1148.2 1057.7 L1147.2 1059.0 L1146.2 1060.3 L1145.2 1061.6 L1144.2 1062.9 L1143.2 1064.1 L1142.2 1065.3 L1141.2 1066.6 L1140.2 1067.8 L1139.2 1069.0 L1138.2 1070.2 L1137.2 1071.4 L1136.2 1072.5 L1135.2 1073.7 L1134.2 1074.9 L1133.2 1076.0 L1132.2 1077.1 L1131.2 1078.2 L1130.2 1079.3 L1129.2 1080.4 L1128.2 1081.5 L1127.2 1082.6 L1126.2 1083.7 L1125.2 1084.8 L1124.2 1085.9 L1123.2 1087.0 L1122.2 1088.1 L1121.2 1089.1 L1120.2 1090.2 L1119.2 1091.3 L1118.2 1092.3 L1117.2 1093.3 L1116.2 1094.4 L1115.2 1095.4 L1114.2 1096.4 L1113.2 1097.4 L1112.2 1098.3 L1111.2 1099.3 L1110.2 1100.3 L1109.2 1101.2 L1108.2 1102.1 L1107.2 1103.1 L1106.2 1104.0 L1105.2 1104.9 L1104.2 1105.8 L1103.2 1106.6 L1102.2 1107.5 L1101.2 1108.4 L1100.2 1109.2 L1099.2 1110.0 L1098.2 1110.9 L1097.2 1111.7 L1096.2 1112.5 L1095.2 1113.3 L1094.2 1114.0 L1093.2 1114.8 L1092.2 1115.5 L1091.2 1116.3 L1090.2 1117.0 L1089.2 1117.7 L1088.2 1118.4 L1087.2 1119.1 L1086.2 1119.8 L1085.2 1120.4 L1084.2 1121.1 L1083.2 1121.7 L1082.2 1122.3 L1081.2 1123.0 L1080.2 1123.5 L1079.2 1124.1 L1078.2 1124.7 L1077.2 1125.2 L1076.2 1125.8 L1075.2 1126.3 L1074.2 1126.8 L1073.2 1127.3 L1072.2 1127.7 L1071.2 1128.2 L1070.2 1128.6 L1069.2 1129.0 L1068.2 1129.4 L1067.2 1129.8 L1066.2 1130.2 L1065.2 1130.5 L1064.2 1130.9 L1063.2 1131.2 L1062.2 1131.5 L1061.2 1131.7 L1060.2 1132.0 L1059.2 1132.2 L1058.2 1132.4 L1057.2 1132.6 L1056.2 1132.7 L1055.2 1132.9 L1054.2 1133.0 L1053.2 1133.1 L1052.2 1133.1 L1051.2 1133.1 L1050.2 1133.2 L1049.2 1133.1 L1048.2 1133.1 L1047.2 1133.0 L1046.2 1132.9 L1045.2 1132.8 L1044.2 1132.6 L1043.2 1132.5 L1042.2 1132.2 L1041.2 1132.0 L1040.2 1131.7 L1039.2 1131.4 L1038.2 1131.1 L1037.2 1130.7 L1036.2 1130.3 L1035.2 1129.8 L1034.2 1129.4 L1033.2 1128.8 L1032.2 1128.3 L1031.2 1127.7 L1030.2 1127.1 L1029.2 1126.4 L1028.2 1125.7 L1027.2 1125.0 L1026.2 1124.2 L1025.2 1123.4 L1024.2 1122.5 L1023.2 1121.6 L1022.2 1120.7 L1021.2 1119.7 L1020.2 1118.6 L1019.2 1117.6 L1018.2 1116.5 L1017.2 1115.4 L1016.2 1114.3 L1015.2 1113.2 L1014.2 1112.1 L1013.2 1111.0 L1012.2 1109.9 L1011.2 1108.7 L1010.2 1107.5 L1009.2 1106.3 L1008.2 1105.0 L1007.2 1103.6 L1006.2 1102.2 L1005.2 1100.8 L1004.2 1099.3 L1003.2 1097.8 L1002.2 1096.2 L1001.2 1094.5 L1000.2 1092.8 L999.2 1091.1 L998.2 1089.3 L997.2 1087.4 L996.2 1085.5 L995.2 1083.6 L994.2 1081.6 L993.2 1079.5 L992.2 1077.4 L991.2 1075.2 L990.2 1073.0 L989.2 1070.7 L988.2 1068.4 L987.2 1066.0 L986.2 1063.6 L985.2 1061.1 L984.2 1058.5 L983.2 1055.9 L982.2 1053.2 L981.2 1050.5 L980.2 1047.7 L979.2 1044.9 L978.2 1042.0 L977.2 1039.1 L976.2 1036.1 L975.2 1033.0 L974.2 1029.9 L973.2 1026.8 L972.2 1023.6 L971.2 1020.3 L970.2 1017.0 L969.2 1013.6 L968.2 1010.1 L967.2 1006.7 L966.2 1003.1 L965.2 999.5 L964.2 995.9 L963.2 992.2 L962.2 988.5 L961.2 984.7 L960.2 980.8 L959.2 976.9 L958.2 973.0 L957.2 969.0 L956.2 965.0 L955.2 960.9 L954.2 956.8 L953.2 952.6 L952.2 948.4 L951.2 944.1 L950.2 939.8 L949.2 935.5 L948.2 931.1 L947.2 926.7 L946.2 922.3 L945.2 917.8 L944.2 913.3 L943.2 908.7 L942.2 904.1 L941.2 899.5 L940.2 894.8 L939.2 890.2 L938.2 885.5 L937.2 880.7 L936.2 876.0 L935.2 871.2 L934.2 866.4 L933.2 861.6 L932.2 856.7 L931.2 851.9 L930.2 847.0 L929.2 842.1 L928.2 837.2 L927.2 832.3 L926.2 827.4 L925.2 822.4 L924.2 817.5 L923.2 812.5 L922.2 807.6 L921.2 802.6 L920.2 797.7 L919.2 792.7 L918.2 787.8 L917.2 782.8 L916.2 777.9 L915.2 773.0 L914.2 768.0 L913.2 763.1 L912.2 758.2 L911.2 753.3 L910.2 748.5 L909.2 743.6 L908.2 738.8 L907.2 733.9 L906.2 729.1 L905.2 724.3 L904.2 719.6 L903.2 714.9 L902.2 710.2 L901.2 705.5 L900.2 700.8 L899.2 696.2 L898.2 691.6 L897.2 687.1 L896.2 682.6 L895.2 678.1 L894.2 673.6 L893.2 669.2 L892.2 664.8 L891.2 660.5 L890.2 656.2 L889.2 652.0 L888.2 647.8 L887.2 643.6 L886.2 639.5 L885.2 635.4 L884.2 631.4 L883.2 627.4 L882.2 623.5 L881.2 619.6 L880.2 615.8 L879.2 612.0 L878.2 608.2 L877.2 604.6 L876.2 600.9 L875.2 597.3 L874.2 593.8 L873.2 590.3 L872.2 586.9 L871.2 583.5 L870.2 580.2 L869.2 576.9 L868.2 573.7 L867.2 570.5 L866.2 567.4 L865.2 564.3 L864.2 561.3 L863.2 558.3 L862.2 555.4 L861.2 552.6 L860.2 549.8 L859.2 547.0 L858.2 544.3 L857.2 541.6 L856.2 539.0 L855.2 536.5 L854.2 533.9 L853.2 531.5 L852.2 529.1 L851.2 526.7 L850.2 524.4 L849.2 522.1 L848.2 519.8 L847.2 517.6 L846.2 515.5 L845.2 513.4 L844.2 511.3 L843.2 509.3 L842.2 507.3 L841.2 505.3 L840.2 503.4 L839.2 501.5 L838.2 499.7 L837.2 497.9 L836.2 496.1 L835.2 494.4 L834.2 492.7 L833.2 491.0 L832.2 489.4 L831.2 487.8 L830.2 486.2 L829.2 484.6 L828.2 483.1 L827.2 481.6 L826.2 480.1 L825.2 478.7 L824.2 477.3 L823.2 475.9 L822.2 474.5 L821.2 473.1 L820.2 471.8 L819.2 470.5 L818.2 469.2 L817.2 467.9 L816.2 466.6 L815.2 465.4 L814.2 464.2 L813.2 463.0 L812.2 461.8 L811.2 460.6 L810.2 459.5 L809.2 458.3 L808.2 457.3 L807.2 456.3 L806.2 455.3 L805.2 454.3 L804.2 453.3 L803.2 452.3 L802.2 451.4 L801.2 450.4 L800.2 449.5 L799.2 448.6 L798.2 447.7 L797.2 446.8 L796.2 445.9 L795.2 445.1 L794.2 444.2 L793.2 443.4 L792.2 442.6 L791.2 441.8 L790.2 441.0 L789.2 440.3 L788.2 439.5 L787.2 438.8 L786.2 438.1 L785.2 437.4 L784.2 436.7 L783.2 436.1 L782.2 435.5 L781.2 434.9 L780.2 434.3 L779.2 433.7 L778.2 433.2 L777.2 432.7 L776.2 432.2 L775.2 431.7 L774.2 431.3 L773.2 430.9 L772.2 430.5 L771.2 430.1 L770.2 429.8 L769.2 429.5 L768.2 429.2 L767.2 429.0 L766.2 428.8 L765.2 428.6 L764.2 428.4 L763.2 428.3 L762.2 428.2 L761.2 428.2 L760.2 428.1 L759.2 428.1 L758.2 428.2 L757.2 428.3 L756.2 428.4 L755.2 428.5 L754.2 428.7 L753.2 428.9 L752.2 429.2 L751.2 429.4 L750.2 429.8 L749.2 430.1 L748.2 430.5 L747.2 431.0 L746.2 431.4 L745.2 431.9 L744.2 432.5 L743.2 433.0 L742.2 433.6 L741.2 434.3 L740.2 435.0 L739.2 435.7 L738.2 436.5 L737.2 437.2 L736.2 438.1 L735.2 438.9 L734.2 439.8 L733.2 440.8 L732.2 441.7 L731.2 442.9 L730.2 444.1 L729.2 445.3 L728.2 446.6 L727.2 447.9 L726.2 449.3 L725.2 450.6 L724.2 452.0 L723.2 453.5 L722.2 454.9 L721.2 456.4 L720.2 457.9 L719.2 459.4 L718.2 460.9 L717.2 462.5 L716.2 464.1 L715.2 465.7 L714.2 467.3 L713.2 469.0 L712.2 470.6 L711.2 472.3 L710.2 474.0 L709.2 475.7 L708.2 477.5 L707.2 479.2 L706.2 481.0 L705.2 482.7 L704.2 484.5 L703.2 486.3 L702.2 488.2 L701.2 490.0 L700.2 491.8 L699.2 493.7 L698.2 495.5 L697.2 497.4 L696.2 499.3 L695.2 501.2 L694.2 503.0 L693.2 504.9 L692.2 506.9 L691.2 508.8 L690.2 510.7 L689.2 512.6 L688.2 514.5 L687.2 516.5 L686.2 518.4 L685.2 520.4 L684.2 522.3 L683.2 524.3 L682.2 526.2 L681.2 528.2 L680.2 530.1 L679.2 532.1 L678.2 534.1 L677.2 536.0 L676.2 538.0 L675.2 540.0 L674.2 541.9 L673.2 543.9 L672.2 545.9 L671.2 547.9 L670.2 549.8 L669.2 551.8 L668.2 553.8 L667.2 555.8 L666.2 557.7 L665.2 559.7 L664.2 561.7 L663.2 563.7 L662.2 565.7 L661.2 567.7 L660.2 569.6 L659.2 571.6 L658.2 573.6 L657.2 575.6 L656.2 577.6 L655.2 579.6 L654.2 581.6 L653.2 583.6 L652.2 585.6 L651.2 587.6 L650.2 589.6 L649.2 591.6 L648.2 593.6 L647.2 595.6 L646.2 597.6 L645.2 599.6 L644.2 601.6 L643.2 603.6 L642.2 605.6 L641.2 607.7 L640.2 609.7 L639.2 611.7 L638.2 613.7 L637.2 615.8 L636.2 617.8 L635.2 619.9 L634.2 621.9 L633.2 624.0 L632.2 626.0 L631.2 628.1 L630.2 630.2 L629.2 632.2 L628.2 634.3 L627.2 636.4 L626.2 638.5 L625.2 640.6 L624.2 642.7 L623.2 644.8 L622.2 646.9 L621.2 649.0 L620.2 651.1 L619.2 653.2 L618.2 655.3 L617.2 657.5 L616.2 659.6 L615.2 661.8 L614.2 663.9 L613.2 666.1 L612.2 668.2 L611.2 670.4 L610.2 672.6 L609.2 674.8 L608.2 677.0 L607.2 679.1 L606.2 681.3 L605.2 683.5 L604.2 685.8 L603.2 688.0 L602.2 690.2 L601.2 692.4 L600.2 694.6 L599.2 696.9 L598.2 699.1 L597.2 701.4 L596.2 703.6 L595.2 705.9 L594.2 708.1 L593.2 710.4 L592.2 712.7 L591.2 715.0 L590.2 717.2 L589.2 719.5 L588.2 721.8 L587.2 724.1 L586.2 726.4 L585.2 728.7 L584.2 731.0 L583.2 733.3 L582.2 735.6 L581.2 737.9 L580.2 740.2 L579.2 742.6 L578.2 744.9 L577.2 747.2 L576.2 749.5 L575.2 751.8 L574.2 754.2 L573.2 756.5 L572.2 758.8 L571.2 761.2 L570.2 763.5 L569.2 765.8 L568.2 768.2 L567.2 770.5 L566.2 772.9 L565.2 775.2 L564.2 777.5 L563.2 779.9 L562.2 782.2 L561.2 784.5 L560.2 786.9 L559.2 789.2 L558.2 791.6 L557.2 793.9 L556.2 796.2 L555.2 798.5 L554.2 800.9 L553.2 803.2 L552.2 805.5 L551.2 807.9 L550.2 810.2 L549.2 812.5 L548.2 814.8 L547.2 817.1 L546.2 819.4 L545.2 821.7 L544.2 824.0 L543.2 826.3 L542.2 828.6 L541.2 830.9 L540.2 833.2 L539.2 835.5 L538.2 837.8 L537.2 840.0 L536.2 842.3 L535.2 844.6 L534.2 846.8 L533.2 849.1 L532.2 851.4 L531.2 853.6 L530.2 855.8 L529.2 858.1 L528.2 860.3 L527.2 862.5 L526.2 864.7 L525.2 867.0 L524.2 869.2 L523.2 871.4 L522.2 873.6 L521.2 875.8 L520.2 877.9 L519.2 880.1 L518.2 882.3 L517.2 884.4 L516.2 886.6 L515.2 888.7 L514.2 890.9 L513.2 893.0 L512.2 895.1 L511.2 897.3 L510.2 899.4 L509.2 901.5 L508.2 903.6 L507.2 905.7 L506.2 907.8 L505.2 909.8 L504.2 911.9 L503.2 914.0 L502.2 916.0 L501.2 918.0 L500.2 920.1 L499.2 922.1 L498.2 924.1 L497.2 926.1 L496.2 928.1 L495.2 930.1 L494.2 932.1 L493.2 934.1 L492.2 936.1 L491.2 938.0 L490.2 940.0 L489.2 941.9 L488.2 943.9 L487.2 945.8 L486.2 947.7 L485.2 949.6 L484.2 951.5 L483.2 953.4 L482.2 955.3 L481.2 957.2 L480.2 959.0 L479.2 960.9 L478.2 962.7 L477.2 964.5 L476.2 966.4 L475.2 968.2 L474.2 970.0 L473.2 971.8 L472.2 973.6 L471.2 975.4 L470.2 977.1 L469.2 978.9 L468.2 980.6 L467.2 982.4 L466.2 984.1 L465.2 985.8 L464.2 987.5 L463.2 989.2 L462.2 990.9 L461.2 992.6 L460.2 994.2 L459.2 995.9 L458.2 997.5 L457.2 999.2 L456.2 1000.8 L455.2 1002.4 L454.2 1004.0 L453.2 1005.6 L452.2 1007.2 L451.2 1008.8 L450.2 1010.3 L449.2 1011.9 L448.2 1013.4 L447.2 1014.9 L446.2 1016.4 L445.2 1017.9 L444.2 1019.4 L443.2 1020.9 L442.2 1022.4 L441.2 1023.8 L440.2 1025.3 L439.2 1026.7 L438.2 1028.1 L437.2 1029.5 L436.2 1030.9 L435.2 1032.3 L434.2 1033.7 L433.2 1035.1 L432.2 1036.4 L431.2 1037.7 L430.2 1039.1 L429.2 1040.4 L428.2 1041.7 L427.2 1043.0 L426.2 1044.2 L425.2 1045.5 L424.2 1046.8 L423.2 1048.0 L422.2 1049.2 L421.2 1050.4 L420.2 1051.6 L419.2 1052.8 L418.2 1054.0 L417.2 1055.2 L416.2 1056.3 L415.2 1057.4 L414.2 1058.6 L413.2 1059.7 L412.2 1060.8 L411.2 1061.9 L410.2 1063.0 L409.2 1064.0 L408.2 1065.1 L407.2 1066.2 L406.2 1067.3 L405.2 1068.4 L404.2 1069.5 L403.2 1070.5 L402.2 1071.6 L401.2 1072.6 L400.2 1073.6 L399.2 1074.6 L398.2 1075.6 L397.2 1076.6 L396.2 1077.6 L395.2 1078.5 L394.2 1079.5 L393.2 1080.4 L392.2 1081.3 L391.2 1082.2 L390.2 1083.1 L389.2 1084.0 L388.2 1084.9 L387.2 1085.7 L386.2 1086.5 L385.2 1087.4 L384.2 1088.2 L383.2 1089.0 L382.2 1089.7 L381.2 1090.5 L380.2 1091.3 L379.2 1092.0 L378.2 1092.7 L377.2 1093.5 L376.2 1094.2 L375.2 1094.9 L374.2 1095.5 L373.2 1096.2 L372.2 1096.8 L371.2 1097.5 L370.2 1098.1 L369.2 1098.7 L368.2 1099.3 L367.2 1099.9 L366.2 1100.5 L365.2 1101.0 L364.2 1101.6 L363.2 1102.1 L362.2 1102.7 L361.2 1103.2 L360.2 1103.7 L359.2 1104.1 L358.2 1104.6 L357.2 1105.1 L356.2 1105.5 L355.2 1106.0 L354.2 1106.4 L353.2 1106.8 L352.2 1107.2 L351.2 1107.6 L350.2 1108.0 L349.2 1108.4 L348.2 1108.7 L347.2 1109.1 L346.2 1109.4 L345.2 1109.7 L344.2 1110.0 L343.2 1110.3 L342.2 1110.6 L341.2 1110.9 L340.2 1111.2 L339.2 1111.4 L338.2 1111.7 L337.2 1111.9 L336.2 1112.1 L335.2 1112.3 L334.2 1112.5 L333.2 1112.7 L332.2 1112.9 L331.2 1113.1 L330.2 1113.3 L329.2 1113.4 L328.2 1113.6 L327.2 1113.7 L326.2 1113.8 L325.2 1113.9 L324.2 1114.0 L323.2 1114.1 L322.2 1114.2 L321.2 1114.3 L320.2 1114.4 L319.2 1114.5 L318.2 1114.5 L317.2 1114.6 L316.2 1114.6 L315.2 1114.6 L314.2 1114.6 L313.2 1114.6 L312.2 1114.7 L311.2 1114.7 L310.2 1114.6 L309.2 1114.6 L308.2 1114.6 L307.2 1114.6 L306.2 1114.5 L305.2 1114.5 L304.2 1114.4 L303.2 1114.3 L302.2 1114.3 L301.2 1114.2 L300.2 1114.1 L299.2 1114.0 L298.2 1113.9 L297.2 1113.8 L296.2 1113.7 L295.2 1113.6 L294.2 1113.5 L293.2 1113.3 L292.2 1113.2 L291.2 1113.1 L290.2 1112.9 L289.2 1112.8 L288.2 1112.6 L287.2 1112.4 L286.2 1112.3 L285.2 1112.1 L284.2 1111.9 L283.2 1111.7 L282.2 1111.5 L281.2 1111.3 L280.2 1111.1 L279.2 1110.9 L278.2 1110.7 L277.2 1110.5Z" fill="#2e3f87" stroke="none"/>
<path d="M277.2 1104.8 L278.2 1104.9 L279.2 1105.0 L280.2 1105.0 L281.2 1105.1 L282.2 1105.2 L283.2 1105.3 L284.2 1105.4 L285.2 1105.4 L286.2 1105.5 L287.2 1105.6 L288.2 1105.6 L289.2 1105.7 L290.2 1105.8 L291.2 1105.8 L292.2 1105.9 L293.2 1105.9 L294.2 1106.0 L295.2 1106.0 L296.2 1106.0 L297.2 1106.1 L298.2 1106.1 L299.2 1106.1 L300.2 1106.1 L301.2 1106.1 L302.2 1106.1 L303.2 1106.1 L304.2 1106.1 L305.2 1106.1 L306.2 1106.1 L307.2 1106.1 L308.2 1106.0 L309.2 1106.0 L310.2 1105.9 L311.2 1105.9 L312.2 1105.8 L313.2 1105.7 L314.2 1105.6 L315.2 1105.6 L316.2 1105.5 L317.2 1105.3 L318.2 1105.2 L319.2 1105.1 L320.2 1105.0 L321.2 1104.8 L322.2 1104.7 L323.2 1104.5 L324.2 1104.3 L325.2 1104.2 L326.2 1104.0 L327.2 1103.8 L328.2 1103.6 L329.2 1103.3 L330.2 1103.1 L331.2 1102.9 L332.2 1102.6 L333.2 1102.4 L334.2 1102.1 L335.2 1101.8 L336.2 1101.5 L337.2 1101.2 L338.2 1100.9 L339.2 1100.6 L340.2 1100.2 L341.2 1099.9 L342.2 1099.5 L343.2 1099.2 L344.2 1098.8 L345.2 1098.4 L346.2 1098.0 L347.2 1097.6 L348.2 1097.2 L349.2 1096.7 L350.2 1096.3 L351.2 1095.8 L352.2 1095.4 L353.2 1094.9 L354.2 1094.4 L355.2 1093.9 L356.2 1093.4 L357.2 1092.8 L358.2 1092.3 L359.2 1091.8 L360.2 1091.2 L361.2 1090.6 L362.2 1090.0 L363.2 1089.4 L364.2 1088.8 L365.2 1088.2 L366.2 1087.6 L367.2 1086.9 L368.2 1086.3 L369.2 1085.6 L370.2 1084.9 L371.2 1084.3 L372.2 1083.6 L373.2 1082.8 L374.2 1082.1 L375.2 1081.4 L376.2 1080.6 L377.2 1079.9 L378.2 1079.1 L379.2 1078.3 L380.2 1077.5 L381.2 1076.7 L382.2 1075.9 L383.2 1075.0 L384.2 1074.2 L385.2 1073.3 L386.2 1072.5 L387.2 1071.6 L388.2 1070.7 L389.2 1069.8 L390.2 1068.9 L391.2 1067.9 L392.2 1067.0 L393.2 1066.0 L394.2 1065.1 L395.2 1064.1 L396.2 1063.1 L397.2 1062.1 L398.2 1061.1 L399.2 1060.0 L400.2 1059.0 L401.2 1057.9 L402.2 1056.7 L403.2 1055.6 L404.2 1054.4 L405.2 1053.2 L406.2 1052.0 L407.2 1050.8 L408.2 1049.6 L409.2 1048.4 L410.2 1047.1 L411.2 1045.9 L412.2 1044.6 L413.2 1043.3 L414.2 1042.0 L415.2 1040.7 L416.2 1039.4 L417.2 1038.0 L418.2 1036.7 L419.2 1035.3 L420.2 1033.9 L421.2 1032.5 L422.2 1031.1 L423.2 1029.7 L424.2 1028.2 L425.2 1026.8 L426.2 1025.3 L427.2 1023.8 L428.2 1022.4 L429.2 1020.8 L430.2 1019.3 L431.2 1017.8 L432.2 1016.2 L433.2 1014.7 L434.2 1013.1 L435.2 1011.5 L436.2 1009.9 L437.2 1008.3 L438.2 1006.6 L439.2 1005.0 L440.2 1003.3 L441.2 1001.6 L442.2 999.9 L443.2 998.2 L444.2 996.5 L445.2 994.7 L446.2 993.0 L447.2 991.2 L448.2 989.4 L449.2 987.6 L450.2 985.8 L451.2 984.0 L452.2 982.1 L453.2 980.2 L454.2 978.4 L455.2 976.5 L456.2 974.5 L457.2 972.6 L458.2 970.7 L459.2 968.7 L460.2 966.7 L461.2 964.7 L462.2 962.7 L463.2 960.7 L464.2 958.6 L465.2 956.6 L466.2 954.5 L467.2 952.4 L468.2 950.3 L469.2 948.1 L470.2 946.0 L471.2 943.8 L472.2 941.7 L473.2 939.5 L474.2 937.2 L475.2 935.0 L476.2 932.8 L477.2 930.5 L478.2 928.2 L479.2 925.9 L480.2 923.6 L481.2 921.3 L482.2 918.9 L483.2 916.5 L484.2 914.2 L485.2 911.7 L486.2 909.3 L487.2 906.9 L488.2 904.4 L489.2 902.0 L490.2 899.5 L491.2 897.0 L492.2 894.4 L493.2 891.9 L494.2 889.3 L495.2 886.8 L496.2 884.2 L497.2 881.6 L498.2 878.9 L499.2 876.3 L500.2 873.6 L501.2 870.9 L502.2 868.2 L503.2 865.5 L504.2 862.8 L505.2 860.0 L506.2 857.3 L507.2 854.5 L508.2 851.7 L509.2 848.9 L510.2 846.0 L511.2 843.2 L512.2 840.3 L513.2 837.4 L514.2 834.5 L515.2 831.6 L516.2 828.7 L517.2 825.8 L518.2 822.8 L519.2 819.8 L520.2 816.8 L521.2 813.8 L522.2 810.8 L523.2 807.7 L524.2 804.7 L525.2 801.6 L526.2 798.5 L527.2 795.4 L528.2 792.3 L529.2 789.1 L530.2 786.0 L531.2 782.8 L532.2 779.6 L533.2 776.4 L534.2 773.2 L535.2 770.0 L536.2 766.8 L537.2 763.5 L538.2 760.2 L539.2 757.0 L540.2 753.7 L541.2 750.4 L542.2 747.0 L543.2 743.7 L544.2 740.4 L545.2 737.0 L546.2 733.6 L547.2 730.2 L548.2 726.8 L549.2 723.4 L550.2 720.0 L551.2 716.6 L552.2 713.1 L553.2 709.7 L554.2 706.2 L555.2 702.7 L556.2 699.2 L557.2 695.7 L558.2 692.2 L559.2 688.7 L560.2 685.2 L561.2 681.6 L562.2 678.1 L563.2 674.5 L564.2 671.0 L565.2 667.4 L566.2 663.8 L567.2 660.2 L568.2 656.6 L569.2 653.0 L570.2 649.3 L571.2 645.7 L572.2 642.1 L573.2 638.4 L574.2 634.8 L575.2 631.1 L576.2 627.4 L577.2 623.8 L578.2 620.1 L579.2 616.4 L580.2 612.7 L581.2 609.0 L582.2 605.3 L583.2 601.6 L584.2 597.8 L585.2 594.1 L586.2 590.4 L587.2 586.6 L588.2 582.9 L589.2 579.1 L590.2 575.4 L591.2 571.6 L592.2 567.9 L593.2 564.1 L594.2 560.3 L595.2 556.6 L596.2 552.8 L597.2 549.0 L598.2 545.2 L599.2 541.4 L600.2 537.6 L601.2 533.8 L602.2 530.0 L603.2 526.2 L604.2 522.4 L605.2 518.6 L606.2 514.8 L607.2 511.0 L608.2 507.2 L609.2 503.4 L610.2 499.6 L611.2 495.7 L612.2 491.9 L613.2 488.1 L614.2 484.3 L615.2 480.5 L616.2 476.6 L617.2 472.8 L618.2 469.0 L619.2 465.2 L620.2 461.3 L621.2 457.5 L622.2 453.7 L623.2 449.8 L624.2 446.0 L625.2 442.2 L626.2 438.3 L627.2 434.5 L628.2 430.7 L629.2 426.9 L630.2 423.0 L631.2 419.2 L632.2 415.4 L633.2 411.6 L634.2 407.7 L635.2 403.9 L636.2 400.1 L637.2 396.3 L638.2 392.5 L639.2 388.6 L640.2 384.8 L641.2 381.0 L642.2 377.2 L643.2 373.4 L644.2 369.6 L645.2 365.8 L646.2 362.0 L647.2 358.2 L648.2 354.4 L649.2 350.6 L650.2 346.8 L651.2 343.1 L652.2 339.3 L653.2 335.5 L654.2 331.7 L655.2 328.0 L656.2 324.2 L657.2 320.5 L658.2 316.7 L659.2 313.0 L660.2 309.3 L661.2 305.5 L662.2 301.8 L663.2 298.1 L664.2 294.4 L665.2 290.7 L666.2 287.0 L667.2 283.4 L668.2 279.7 L669.2 276.0 L670.2 272.4 L671.2 268.8 L672.2 265.1 L673.2 261.5 L674.2 257.9 L675.2 254.3 L676.2 250.8 L677.2 247.2 L678.2 243.7 L679.2 240.1 L680.2 236.6 L681.2 233.1 L682.2 229.6 L683.2 226.2 L684.2 222.7 L685.2 219.3 L686.2 215.9 L687.2 212.5 L688.2 209.1 L689.2 205.8 L690.2 202.4 L691.2 199.1 L692.2 195.9 L693.2 192.6 L694.2 189.4 L695.2 186.2 L696.2 183.0 L697.2 179.8 L698.2 176.7 L699.2 173.6 L700.2 170.5 L701.2 167.5 L702.2 164.5 L703.2 161.5 L704.2 158.6 L705.2 155.7 L706.2 152.8 L707.2 150.0 L708.2 147.2 L709.2 144.4 L710.2 141.7 L711.2 139.0 L712.2 136.4 L713.2 133.8 L714.2 131.2 L715.2 128.7 L716.2 126.3 L717.2 123.8 L718.2 121.5 L719.2 119.1 L720.2 116.8 L721.2 114.6 L722.2 112.4 L723.2 110.3 L724.2 108.2 L725.2 106.1 L726.2 104.2 L727.2 102.2 L728.2 100.4 L729.2 98.5 L730.2 96.8 L731.2 95.0 L732.2 93.4 L733.2 91.8 L734.2 90.2 L735.2 88.8 L736.2 87.3 L737.2 86.0 L738.2 84.7 L739.2 83.4 L740.2 82.2 L741.2 81.1 L742.2 80.0 L743.2 78.9 L744.2 77.8 L745.2 76.7 L746.2 75.6 L747.2 74.6 L748.2 73.5 L749.2 72.5 L750.2 71.5 L751.2 70.6 L752.2 69.8 L753.2 69.0 L754.2 68.3 L755.2 67.7 L756.2 67.1 L757.2 66.6 L758.2 66.2 L759.2 65.8 L760.2 65.4 L761.2 65.2 L762.2 64.9 L763.2 64.8 L764.2 64.7 L765.2 64.7 L766.2 64.7 L767.2 64.8 L768.2 64.9 L769.2 65.1 L770.2 65.4 L771.2 65.7 L772.2 66.1 L773.2 66.5 L774.2 67.0 L775.2 67.5 L776.2 68.1 L777.2 68.7 L778.2 69.4 L779.2 70.2 L780.2 70.9 L781.2 71.8 L782.2 72.6 L783.2 73.6 L784.2 74.5 L785.2 75.5 L786.2 76.6 L787.2 77.7 L788.2 78.7 L789.2 79.8 L790.2 80.9 L791.2 82.0 L792.2 83.1 L793.2 84.2 L794.2 85.3 L795.2 86.4 L796.2 87.6 L797.2 88.9 L798.2 90.1 L799.2 91.4 L800.2 92.7 L801.2 94.1 L802.2 95.5 L803.2 96.9 L804.2 98.3 L805.2 99.8 L806.2 101.2 L807.2 102.8 L808.2 104.3 L809.2 105.8 L810.2 107.4 L811.2 109.0 L812.2 110.6 L813.2 112.2 L814.2 113.9 L815.2 115.6 L816.2 117.2 L817.2 118.9 L818.2 120.7 L819.2 122.4 L820.2 124.1 L821.2 125.9 L822.2 127.7 L823.2 129.5 L824.2 131.3 L825.2 133.1 L826.2 134.9 L827.2 136.8 L828.2 138.6 L829.2 140.5 L830.2 142.4 L831.2 144.3 L832.2 146.3 L833.2 148.2 L834.2 150.2 L835.2 152.2 L836.2 154.2 L837.2 156.3 L838.2 158.3 L839.2 160.4 L840.2 162.6 L841.2 164.7 L842.2 166.9 L843.2 169.1 L844.2 171.4 L845.2 173.7 L846.2 176.0 L847.2 178.3 L848.2 180.7 L849.2 183.2 L850.2 185.7 L851.2 188.2 L852.2 190.8 L853.2 193.5 L854.2 196.2 L855.2 198.9 L856.2 201.7 L857.2 204.6 L858.2 207.5 L859.2 210.5 L860.2 213.6 L861.2 216.7 L862.2 219.9 L863.2 223.2 L864.2 226.5 L865.2 229.9 L866.2 233.4 L867.2 237.0 L868.2 240.6 L869.2 244.3 L870.2 248.1 L871.2 252.0 L872.2 256.0 L873.2 260.1 L874.2 264.2 L875.2 268.4 L876.2 272.8 L877.2 277.2 L878.2 281.7 L879.2 286.3 L880.2 290.9 L881.2 295.7 L882.2 300.6 L883.2 305.5 L884.2 310.6 L885.2 315.7 L886.2 320.9 L887.2 326.2 L888.2 331.6 L889.2 337.1 L890.2 342.7 L891.2 348.3 L892.2 354.1 L893.2 359.9 L894.2 365.8 L895.2 371.8 L896.2 377.8 L897.2 384.0 L898.2 390.2 L899.2 396.5 L900.2 402.9 L901.2 409.3 L902.2 415.8 L903.2 422.3 L904.2 429.0 L905.2 435.7 L906.2 442.4 L907.2 449.2 L908.2 456.1 L909.2 463.0 L910.2 469.9 L911.2 476.9 L912.2 484.0 L913.2 491.1 L914.2 498.2 L915.2 505.4 L916.2 512.5 L917.2 519.8 L918.2 527.0 L919.2 534.3 L920.2 541.6 L921.2 549.0 L922.2 556.3 L923.2 563.7 L924.2 571.1 L925.2 578.4 L926.2 585.8 L927.2 593.3 L928.2 600.7 L929.2 608.1 L930.2 615.5 L931.2 622.9 L932.2 630.3 L933.2 637.7 L934.2 645.1 L935.2 652.5 L936.2 659.9 L937.2 667.3 L938.2 674.6 L939.2 681.9 L940.2 689.3 L941.2 696.5 L942.2 703.8 L943.2 711.1 L944.2 718.3 L945.2 725.5 L946.2 732.7 L947.2 739.8 L948.2 746.9 L949.2 754.0 L950.2 761.0 L951.2 768.1 L952.2 775.0 L953.2 782.0 L954.2 788.9 L955.2 795.7 L956.2 802.6 L957.2 809.4 L958.2 816.1 L959.2 822.8 L960.2 829.5 L961.2 836.1 L962.2 842.7 L963.2 849.2 L964.2 855.7 L965.2 862.1 L966.2 868.5 L967.2 874.8 L968.2 881.1 L969.2 887.3 L970.2 893.5 L971.2 899.6 L972.2 905.7 L973.2 911.7 L974.2 917.6 L975.2 923.5 L976.2 929.4 L977.2 935.2 L978.2 940.9 L979.2 946.6 L980.2 952.2 L981.2 957.7 L982.2 963.2 L983.2 968.6 L984.2 974.0 L985.2 979.3 L986.2 984.5 L987.2 989.7 L988.2 994.8 L989.2 999.8 L990.2 1004.8 L991.2 1009.7 L992.2 1014.6 L993.2 1019.3 L994.2 1024.0 L995.2 1028.7 L996.2 1033.2 L997.2 1037.7 L998.2 1042.2 L999.2 1046.5 L1000.2 1050.8 L1001.2 1055.0 L1002.2 1059.2 L1003.2 1063.3 L1004.2 1067.3 L1005.2 1071.2 L1006.2 1075.1 L1007.2 1078.9 L1008.2 1082.6 L1009.2 1086.3 L1010.2 1089.9 L1011.2 1093.4 L1012.2 1096.8 L1013.2 1100.2 L1014.2 1103.5 L1015.2 1106.7 L1016.2 1109.9 L1017.2 1113.0 L1018.2 1116.1 L1019.2 1119.0 L1020.2 1121.9 L1021.2 1124.8 L1022.2 1127.5 L1023.2 1130.2 L1024.2 1132.9 L1025.2 1135.5 L1026.2 1138.0 L1027.2 1140.4 L1028.2 1142.8 L1029.2 1145.1 L1030.2 1147.4 L1031.2 1149.6 L1032.2 1151.8 L1033.2 1153.9 L1034.2 1155.9 L1035.2 1157.9 L1036.2 1159.8 L1037.2 1161.7 L1038.2 1163.5 L1039.2 1165.3 L1040.2 1167.0 L1041.2 1168.7 L1042.2 1170.3 L1043.2 1171.9 L1044.2 1173.4 L1045.2 1174.9 L1046.2 1176.3 L1047.2 1177.7 L1048.2 1179.0 L1049.2 1180.3 L1050.2 1181.6 L1051.2 1182.8 L1052.2 1183.7 L1053.2 1184.6 L1054.2 1185.5 L1055.2 1186.4 L1056.2 1187.2 L1057.2 1188.0 L1058.2 1188.8 L1059.2 1189.5 L1060.2 1190.2 L1061.2 1190.9 L1062.2 1191.6 L1063.2 1192.2 L1064.2 1192.8 L1065.2 1193.4 L1066.2 1194.0 L1067.2 1194.5 L1068.2 1195.0 L1069.2 1195.5 L1070.2 1196.0 L1071.2 1196.5 L1072.2 1196.9 L1073.2 1197.3 L1074.2 1197.8 L1075.2 1198.1 L1076.2 1198.5 L1077.2 1198.9 L1078.2 1199.2 L1079.2 1199.5 L1080.2 1199.8 L1081.2 1200.1 L1082.2 1200.4 L1083.2 1200.7 L1084.2 1200.9 L1085.2 1201.2 L1086.2 1201.4 L1087.2 1201.6 L1088.2 1201.8 L1089.2 1202.0 L1090.2 1202.2 L1091.2 1202.4 L1092.2 1202.5 L1093.2 1202.7 L1094.2 1202.8 L1095.2 1202.9 L1096.2 1203.1 L1097.2 1203.2 L1098.2 1203.3 L1099.2 1203.4 L1100.2 1203.4 L1101.2 1203.5 L1102.2 1203.6 L1103.2 1203.7 L1104.2 1203.7 L1105.2 1203.8 L1106.2 1203.8 L1107.2 1203.8 L1108.2 1203.9 L1109.2 1203.9 L1110.2 1203.9 L1111.2 1203.9 L1112.2 1203.9 L1113.2 1203.9 L1114.2 1203.9 L1115.2 1203.9 L1116.2 1203.8 L1117.2 1203.8 L1118.2 1203.8 L1119.2 1203.8 L1120.2 1203.7 L1121.2 1203.7 L1122.2 1203.6 L1123.2 1203.6 L1124.2 1203.5 L1125.2 1203.4 L1126.2 1203.4 L1127.2 1203.3 L1128.2 1203.2 L1129.2 1203.1 L1130.2 1203.0 L1131.2 1202.9 L1132.2 1202.8 L1133.2 1202.7 L1134.2 1202.6 L1135.2 1202.5 L1136.2 1202.4 L1137.2 1202.3 L1138.2 1202.2 L1139.2 1202.1 L1140.2 1201.9 L1141.2 1201.8 L1142.2 1201.7 L1143.2 1201.5 L1144.2 1201.4 L1145.2 1201.3 L1146.2 1201.1 L1147.2 1201.0 L1148.2 1200.8 L1149.2 1200.7 L1150.2 1200.5 L1151.2 1200.4 L1152.2 1200.2 L1153.2 1200.0 L1154.2 1199.9 L1155.2 1199.7 L1156.2 1199.5 L1157.2 1199.3 L1158.2 1199.2 L1159.2 1199.0 L1160.2 1198.8 L1161.2 1198.6 L1162.2 1198.4 L1163.2 1198.2 L1164.2 1198.1 L1165.2 1197.9 L1166.2 1197.7 L1167.2 1197.5 L1168.2 1197.3 L1169.2 1197.1 L1170.2 1196.9 L1171.2 1196.7 L1172.2 1196.4 L1173.2 1196.2 L1174.2 1196.0 L1175.2 1195.8 L1176.2 1195.6 L1177.2 1195.4 L1178.2 1195.2 L1179.2 1194.9 L1180.2 1194.7 L1181.2 1194.5 L1182.2 1194.3 L1183.2 1194.0 L1184.2 1193.8 L1185.2 1193.6 L1186.2 1193.4 L1187.2 1193.1 L1188.2 1192.9 L1189.2 1192.7 L1190.2 1192.4 L1191.2 1192.2 L1192.2 1191.9 L1193.2 1191.7 L1194.2 1191.5 L1195.2 1191.2 L1196.2 1191.0 L1197.2 1190.7 L1198.2 1190.5 L1199.2 1190.2 L1200.2 1190.0 L1201.2 1189.7 L1202.2 1189.5 L1203.2 1189.2 L1204.2 1189.0 L1205.2 1188.7 L1206.2 1188.5 L1207.2 1188.2 L1208.2 1188.0 L1209.2 1187.7 L1210.2 1187.4 L1211.2 1187.2 L1212.2 1186.9 L1213.2 1186.7 L1214.2 1186.4 L1215.2 1186.1 L1216.2 1185.9 L1217.2 1185.6 L1218.2 1185.3 L1219.2 1185.1 L1220.2 1184.8 L1221.2 1184.5 L1222.2 1184.3 L1223.2 1184.0 L1224.2 1183.7 L1225.2 1183.5 L1226.2 1183.2 L1227.2 1182.9 L1228.2 1182.7 L1229.2 1182.4 L1230.2 1182.1 L1231.2 1181.9 L1232.2 1181.6 L1233.2 1181.3 L1234.2 1181.0 L1235.2 1180.8 L1236.2 1180.5 L1237.2 1180.2 L1238.2 1180.0 L1239.2 1179.7 L1240.2 1179.4 L1241.2 1179.1 L1242.2 1178.9 L1243.2 1178.6 L1244.2 1178.3 L1245.2 1178.0 L1246.2 1177.8 L1247.2 1177.5 L1248.2 1177.2 L1249.2 1177.0 L1250.2 1176.7 L1251.2 1176.4 L1252.2 1176.1 L1253.2 1175.9 L1254.2 1175.6 L1255.2 1175.3 L1256.2 1175.0 L1257.2 1174.8 L1258.2 1174.5 L1259.2 1174.2 L1260.2 1173.9 L1261.2 1173.7 L1262.2 1173.4 L1263.2 1173.1 L1264.2 1172.9 L1265.2 1172.6 L1266.2 1172.3 L1267.2 1172.0 L1268.2 1171.8 L1269.2 1171.5 L1270.2 1171.2 L1271.2 1171.0 L1272.2 1170.7 L1273.2 1170.4 L1274.2 1170.2 L1275.2 1169.9 L1276.2 1169.6 L1277.2 1169.4 L1278.2 1169.1 L1279.2 1168.8 L1280.2 1168.6 L1281.2 1168.3 L1282.2 1168.0 L1283.2 1167.8 L1284.2 1167.5 L1285.2 1167.2 L1286.2 1167.0 L1287.2 1166.7 L1288.2 1166.4 L1289.2 1166.2 L1290.2 1165.9 L1291.2 1165.7 L1292.2 1165.4 L1293.2 1165.1 L1294.2 1164.9 L1295.2 1164.6 L1296.2 1164.4 L1297.2 1164.1 L1298.2 1163.8 L1299.2 1163.6 L1300.2 1163.3 L1301.2 1163.1 L1302.2 1162.8 L1303.2 1162.6 L1304.2 1162.3 L1305.2 1162.1 L1306.2 1161.8 L1307.2 1161.5 L1308.2 1161.3 L1309.2 1161.0 L1310.2 1160.8 L1311.2 1160.5 L1312.2 1160.3 L1313.2 1160.0 L1314.2 1159.8 L1315.2 1159.5 L1316.2 1159.3 L1317.2 1159.0 L1318.2 1158.8 L1319.2 1158.6 L1320.2 1158.3 L1321.2 1158.1 L1322.2 1157.8 L1323.2 1157.6 L1324.2 1157.3 L1325.2 1157.1 L1326.2 1156.8 L1327.2 1156.6 L1328.2 1156.4 L1329.2 1156.1 L1330.2 1155.9 L1331.2 1155.6 L1332.2 1155.4 L1333.2 1155.1 L1334.2 1154.9 L1335.2 1154.7 L1336.2 1154.4 L1337.2 1154.2 L1338.2 1154.0 L1339.2 1153.7 L1340.2 1153.5 L1341.2 1153.2 L1342.2 1153.0 L1343.2 1152.8 L1344.2 1152.5 L1345.2 1152.3 L1346.2 1152.1 L1347.2 1151.8 L1348.2 1151.6 L1349.2 1151.3 L1350.2 1151.1 L1351.2 1150.9 L1352.2 1150.6 L1353.2 1150.4 L1354.2 1150.2 L1355.2 1149.9 L1356.2 1149.7 L1357.2 1149.5 L1358.2 1149.2 L1359.2 1149.0 L1360.2 1148.8 L1361.2 1148.5 L1362.2 1148.3 L1363.2 1148.1 L1364.2 1147.8 L1365.2 1147.6 L1366.2 1147.4 L1367.2 1147.1 L1368.2 1146.9 L1369.2 1146.7 L1370.2 1146.4 L1371.2 1146.2 L1372.2 1146.0 L1373.2 1145.7 L1374.2 1145.5 L1375.2 1145.3 L1376.2 1145.0 L1377.2 1144.8 L1378.2 1144.6 L1379.2 1144.3 L1380.2 1144.1 L1381.2 1143.9 L1382.2 1143.6 L1383.2 1143.4 L1384.2 1143.1 L1385.2 1142.9 L1386.2 1142.7 L1387.2 1142.4 L1388.2 1142.2 L1389.2 1142.0 L1390.2 1141.7 L1391.2 1141.5 L1392.2 1141.3 L1393.2 1141.0 L1394.2 1140.8 L1395.2 1140.6 L1396.2 1140.3 L1397.2 1140.1 L1398.2 1139.9 L1399.2 1139.7 L1400.2 1139.4 L1401.2 1139.2 L1402.2 1139.0 L1403.2 1138.7 L1404.2 1138.5 L1405.2 1138.3 L1406.2 1138.0 L1407.2 1137.8 L1408.2 1137.6 L1409.2 1137.4 L1410.2 1137.1 L1411.2 1136.9 L1412.2 1136.7 L1413.2 1136.4 L1414.2 1136.2 L1415.2 1136.0 L1416.2 1135.8 L1417.2 1135.6 L1418.2 1135.3 L1419.2 1135.1 L1420.2 1134.9 L1421.2 1134.7 L1422.2 1134.5 L1423.2 1134.2 L1424.2 1134.0 L1425.2 1133.8 L1426.2 1133.6 L1427.2 1133.4 L1428.2 1133.2 L1429.2 1133.0 L1430.2 1132.8 L1431.2 1132.6 L1432.2 1132.4 L1433.2 1132.2 L1434.2 1132.0 L1435.2 1131.8 L1436.2 1131.6 L1437.2 1131.4 L1438.2 1131.2 L1439.2 1131.0 L1440.2 1130.9 L1441.2 1130.7 L1442.2 1130.5 L1443.2 1130.3 L1444.2 1130.2 L1445.2 1130.0 L1446.2 1129.8 L1447.2 1129.7 L1448.2 1129.5 L1449.2 1129.3 L1450.2 1129.2 L1451.2 1129.0 L1452.2 1128.9 L1453.2 1128.8 L1454.2 1128.6 L1455.2 1128.5 L1456.2 1128.4 L1457.2 1128.2 L1458.2 1128.1 L1459.2 1128.0 L1460.2 1127.9 L1461.2 1127.8 L1462.2 1127.7 L1463.2 1127.6 L1464.2 1127.5 L1465.2 1127.4 L1466.2 1127.3 L1467.2 1127.2 L1468.2 1127.1 L1469.2 1127.1 L1470.2 1127.0 L1471.2 1126.9 L1472.2 1126.9 L1473.2 1126.8 L1474.2 1126.8 L1475.2 1126.7 L1476.2 1126.7 L1477.2 1126.7 L1478.2 1126.7 L1479.2 1126.6 L1480.2 1126.6 L1481.2 1126.6 L1482.2 1126.6 L1483.2 1126.6 L1484.2 1126.6 L1485.2 1126.7 L1486.2 1126.7 L1487.2 1126.7 L1488.2 1126.8 L1489.2 1126.8 L1490.2 1126.8 L1491.2 1126.9 L1492.2 1127.0 L1493.2 1127.0 L1494.2 1127.1 L1495.2 1127.2 L1496.2 1127.3 L1497.2 1127.4 L1498.2 1127.5 L1499.2 1127.6 L1500.2 1127.7 L1501.2 1127.8 L1502.2 1128.0 L1503.2 1128.1 L1504.2 1128.3 L1505.2 1128.4 L1506.2 1128.6 L1507.2 1128.7 L1508.2 1128.9 L1509.2 1129.1 L1510.2 1129.3 L1511.2 1129.5 L1512.2 1129.7 L1513.2 1129.9 L1514.2 1130.1 L1515.2 1130.3 L1516.2 1130.5 L1517.2 1130.8 L1518.2 1131.0 L1519.2 1131.3 L1520.2 1131.5 L1521.2 1131.8 L1522.2 1132.0 L1523.2 1132.3 L1524.2 1132.6 L1525.2 1132.9 L1526.2 1133.2 L1527.2 1133.5 L1528.2 1133.8 L1529.2 1134.1 L1530.2 1134.4 L1531.2 1134.7 L1532.2 1135.1 L1533.2 1135.4 L1534.2 1135.7 L1535.2 1136.1 L1536.2 1136.4 L1537.2 1136.8 L1538.2 1137.2 L1539.2 1137.5 L1540.2 1137.9 L1541.2 1138.3 L1542.2 1138.7 L1543.2 1139.1 L1544.2 1139.5 L1545.2 1139.9 L1546.2 1140.3 L1547.2 1140.7 L1548.2 1141.1 L1549.2 1141.5 L1550.2 1141.9 L1551.2 1142.4 L1552.2 1142.8 L1553.2 1143.2 L1554.2 1143.7 L1555.2 1144.1 L1556.2 1144.6 L1557.2 1145.0 L1558.2 1145.5 L1559.2 1146.0 L1560.2 1146.4 L1561.2 1146.9 L1562.2 1147.4 L1563.2 1147.8 L1564.2 1148.3 L1565.2 1148.8 L1566.2 1149.3 L1567.2 1149.8 L1568.2 1150.2 L1569.2 1150.7 L1570.2 1151.2 L1571.2 1151.7 L1572.2 1152.2 L1573.2 1152.7 L1574.2 1153.2 L1575.2 1153.7 L1576.2 1154.2 L1577.2 1154.7 L1578.2 1155.2 L1579.2 1155.7 L1580.2 1156.2 L1581.2 1156.8 L1582.2 1157.3 L1583.2 1157.8 L1584.2 1158.3 L1585.2 1158.8 L1586.2 1159.3 L1587.2 1159.8 L1588.2 1160.3 L1589.2 1160.9 L1590.2 1161.4 L1591.2 1161.9 L1592.2 1162.4 L1593.2 1162.9 L1594.2 1163.4 L1595.2 1163.9 L1596.2 1164.4 L1597.2 1165.0 L1598.2 1165.5 L1599.2 1166.0 L1600.2 1166.5 L1601.2 1167.0 L1602.2 1167.5 L1603.2 1168.0 L1604.2 1168.5 L1605.2 1169.0 L1606.2 1169.5 L1607.2 1170.0 L1608.2 1170.5 L1609.2 1171.0 L1610.2 1171.5 L1611.2 1172.0 L1612.2 1172.5 L1613.2 1173.0 L1614.2 1173.5 L1615.2 1174.0 L1616.2 1174.4 L1617.2 1174.9 L1618.2 1175.4 L1619.2 1175.9 L1620.2 1176.4 L1621.2 1176.8 L1622.2 1177.3 L1623.2 1177.8 L1624.2 1178.2 L1625.2 1178.7 L1626.2 1179.2 L1627.2 1179.6 L1628.2 1180.1 L1629.2 1180.5 L1630.2 1181.0 L1631.2 1181.4 L1632.2 1181.9 L1633.2 1182.3 L1634.2 1182.8 L1635.2 1183.2 L1636.2 1183.6 L1637.2 1184.1 L1638.2 1184.5 L1639.2 1184.9 L1640.2 1185.4 L1641.2 1185.8 L1642.2 1186.2 L1643.2 1186.6 L1644.2 1187.0 L1645.2 1187.4 L1646.2 1187.8 L1647.2 1188.2 L1648.2 1188.6 L1649.2 1189.0 L1650.2 1189.4 L1651.2 1189.8 L1652.2 1190.2 L1653.2 1190.6 L1654.2 1191.0 L1655.2 1191.4 L1656.2 1191.7 L1657.2 1192.1 L1658.2 1192.5 L1659.2 1192.9 L1660.2 1193.2 L1661.2 1193.6 L1662.2 1193.9 L1663.2 1194.3 L1664.2 1194.6 L1665.2 1195.0 L1666.2 1195.3 L1667.2 1195.7 L1668.2 1196.0 L1669.2 1196.4 L1670.2 1196.7 L1671.2 1197.0 L1672.2 1197.4 L1673.2 1197.7 L1674.2 1198.0 L1675.2 1198.3 L1676.2 1198.7 L1677.2 1199.0 L1678.2 1199.3 L1679.2 1199.6 L1680.2 1199.9 L1681.2 1200.2 L1682.2 1200.5 L1683.2 1200.8 L1684.2 1201.1 L1685.2 1201.4 L1686.2 1201.7 L1687.2 1202.0 L1688.2 1202.3 L1689.2 1202.6 L1690.2 1202.9 L1691.2 1203.1 L1692.2 1203.4 L1693.2 1203.7 L1694.2 1204.0 L1695.2 1204.2 L1696.2 1204.5 L1697.2 1204.8 L1698.2 1205.0 L1699.2 1205.3 L1700.2 1205.6 L1701.2 1205.8 L1702.2 1206.1 L1703.2 1206.3 L1704.2 1206.6 L1705.2 1206.8 L1706.2 1207.1 L1707.2 1207.3 L1708.2 1207.6 L1709.2 1207.8 L1710.2 1208.0 L1711.2 1208.3 L1712.2 1208.5 L1713.2 1208.8 L1714.2 1209.0 L1715.2 1209.2 L1716.2 1209.4 L1717.2 1209.7 L1718.2 1209.9 L1719.2 1210.1 L1720.2 1210.3 L1721.2 1210.5 L1722.2 1210.8 L1723.2 1211.0 L1724.2 1211.2 L1725.2 1211.4 L1726.2 1211.6 L1727.2 1211.8 L1728.2 1212.0 L1729.2 1212.2 L1730.2 1212.4 L1731.2 1212.6 L1732.2 1212.8 L1733.2 1213.0 L1734.2 1213.2 L1735.2 1213.4 L1736.2 1213.6 L1737.2 1213.8 L1738.2 1214.0 L1739.2 1214.2 L1740.2 1214.4 L1741.2 1214.5 L1742.2 1214.7 L1743.2 1214.9 L1744.2 1215.1 L1745.2 1215.3 L1746.2 1215.4 L1747.2 1215.6 L1748.2 1215.8 L1749.2 1216.0 L1750.2 1216.1 L1751.2 1216.3 L1752.2 1216.5 L1753.2 1216.6 L1754.2 1216.8 L1755.2 1217.0 L1756.2 1217.1 L1757.2 1217.3 L1758.2 1217.5 L1759.2 1217.6 L1760.2 1217.8 L1761.2 1217.9 L1762.2 1218.1 L1763.2 1218.2 L1764.2 1218.4 L1765.2 1218.5 L1766.2 1218.7 L1767.2 1218.8 L1768.2 1219.0 L1769.2 1219.1 L1770.2 1219.3 L1771.2 1219.4 L1772.2 1219.6 L1773.2 1219.7 L1774.2 1219.8 L1775.2 1220.0 L1776.2 1220.1 L1777.2 1220.3 L1778.2 1220.4 L1779.2 1220.5 L1780.2 1220.7 L1781.2 1220.8 L1782.2 1220.9 L1783.2 1221.1 L1784.2 1221.2 L1785.2 1221.3 L1786.2 1221.4 L1787.2 1221.6 L1788.2 1221.7 L1789.2 1221.8 L1790.2 1221.9 L1791.2 1222.1 L1792.2 1222.2 L1793.2 1222.3 L1794.2 1222.4 L1795.2 1222.5 L1796.2 1222.7 L1797.2 1222.8 L1798.2 1222.9 L1799.2 1223.0 L1800.2 1223.1 L1801.2 1223.2 L1802.2 1223.3 L1803.2 1223.4 L1804.2 1223.5 L1805.2 1223.7 L1806.2 1223.8 L1807.2 1223.9 L1808.2 1224.0 L1809.2 1224.1 L1810.2 1224.2 L1811.2 1224.3 L1812.2 1224.4 L1813.2 1224.5 L1814.2 1224.6 L1815.2 1224.7 L1816.2 1224.8 L1817.2 1224.9 L1818.2 1225.0 L1819.2 1225.1 L1820.2 1225.1 L1821.2 1225.2 L1822.2 1225.3 L1823.2 1225.4 L1824.2 1225.5 L1825.2 1225.6 L1826.2 1225.7 L1827.2 1225.8 L1828.2 1225.9 L1829.2 1225.9 L1830.2 1226.0 L1831.2 1226.1 L1832.2 1226.2 L1833.2 1226.3 L1834.2 1226.4 L1835.2 1226.4 L1836.2 1226.5 L1837.2 1226.6 L1838.2 1226.7 L1839.2 1226.8 L1840.2 1226.8 L1841.2 1226.9 L1842.2 1227.0 L1843.2 1227.1 L1844.2 1227.1 L1845.2 1227.2 L1846.2 1227.3 L1847.2 1227.4 L1848.2 1227.4 L1849.2 1227.5 L1850.2 1227.6 L1851.2 1227.6 L1852.2 1227.7 L1853.2 1227.8 L1854.2 1227.8 L1855.2 1227.9 L1856.2 1228.0 L1857.2 1228.0 L1858.2 1228.1 L1859.2 1228.2 L1860.2 1228.2 L1861.2 1228.3 L1862.2 1228.3 L1863.2 1228.4 L1864.2 1228.5 L1865.2 1228.5 L1866.2 1228.6 L1867.2 1228.6 L1868.2 1228.7 L1869.2 1228.7 L1870.2 1228.8 L1871.2 1228.9 L1872.2 1228.9 L1873.2 1229.0 L1874.2 1229.0 L1875.2 1229.1 L1876.2 1229.1 L1877.2 1229.2 L1878.2 1229.2 L1879.2 1229.3 L1880.2 1229.3 L1881.2 1229.4 L1882.2 1229.4 L1883.2 1229.5 L1884.2 1229.5 L1885.2 1229.6 L1886.2 1229.6 L1887.2 1229.7 L1888.2 1229.7 L1889.2 1229.8 L1890.2 1229.8 L1891.2 1229.8 L1892.2 1229.9 L1893.2 1229.9 L1894.2 1230.0 L1895.2 1230.0 L1896.2 1230.1 L1897.2 1230.1 L1898.2 1230.1 L1899.2 1230.2 L1900.2 1230.2 L1901.2 1230.3 L1902.2 1230.3 L1903.2 1230.3 L1904.2 1230.4 L1905.2 1230.4 L1906.2 1230.4 L1907.2 1230.5 L1908.2 1230.5 L1909.2 1230.5 L1910.2 1230.6 L1911.2 1230.6 L1912.2 1230.6 L1913.2 1230.7 L1914.2 1230.7 L1915.2 1230.7 L1916.2 1230.8 L1917.2 1230.8 L1918.2 1230.8 L1919.2 1230.9 L1920.2 1230.9 L1921.2 1230.9 L1922.2 1231.0 L1923.2 1231.0 L1924.2 1231.0 L1925.2 1231.1 L1926.2 1231.1 L1927.2 1231.1 L1928.2 1231.1 L1929.2 1231.2 L1930.2 1231.2 L1931.2 1231.2 L1932.2 1231.2 L1933.2 1231.3 L1934.2 1231.3 L1935.2 1231.3 L1935.2 1244.8 L1934.2 1244.8 L1933.2 1244.8 L1932.2 1244.7 L1931.2 1244.7 L1930.2 1244.7 L1929.2 1244.7 L1928.2 1244.6 L1927.2 1244.6 L1926.2 1244.6 L1925.2 1244.6 L1924.2 1244.5 L1923.2 1244.5 L1922.2 1244.5 L1921.2 1244.4 L1920.2 1244.4 L1919.2 1244.4 L1918.2 1244.3 L1917.2 1244.3 L1916.2 1244.3 L1915.2 1244.2 L1914.2 1244.2 L1913.2 1244.2 L1912.2 1244.1 L1911.2 1244.1 L1910.2 1244.1 L1909.2 1244.0 L1908.2 1244.0 L1907.2 1244.0 L1906.2 1243.9 L1905.2 1243.9 L1904.2 1243.9 L1903.2 1243.8 L1902.2 1243.8 L1901.2 1243.8 L1900.2 1243.7 L1899.2 1243.7 L1898.2 1243.6 L1897.2 1243.6 L1896.2 1243.6 L1895.2 1243.5 L1894.2 1243.5 L1893.2 1243.4 L1892.2 1243.4 L1891.2 1243.3 L1890.2 1243.3 L1889.2 1243.3 L1888.2 1243.2 L1887.2 1243.2 L1886.2 1243.1 L1885.2 1243.1 L1884.2 1243.0 L1883.2 1243.0 L1882.2 1242.9 L1881.2 1242.9 L1880.2 1242.8 L1879.2 1242.8 L1878.2 1242.7 L1877.2 1242.7 L1876.2 1242.6 L1875.2 1242.6 L1874.2 1242.5 L1873.2 1242.5 L1872.2 1242.4 L1871.2 1242.4 L1870.2 1242.3 L1869.2 1242.2 L1868.2 1242.2 L1867.2 1242.1 L1866.2 1242.1 L1865.2 1242.0 L1864.2 1242.0 L1863.2 1241.9 L1862.2 1241.8 L1861.2 1241.8 L1860.2 1241.7 L1859.2 1241.7 L1858.2 1241.6 L1857.2 1241.5 L1856.2 1241.5 L1855.2 1241.4 L1854.2 1241.3 L1853.2 1241.3 L1852.2 1241.2 L1851.2 1241.1 L1850.2 1241.1 L1849.2 1241.0 L1848.2 1240.9 L1847.2 1240.9 L1846.2 1240.8 L1845.2 1240.7 L1844.2 1240.6 L1843.2 1240.6 L1842.2 1240.5 L1841.2 1240.4 L1840.2 1240.3 L1839.2 1240.3 L1838.2 1240.2 L1837.2 1240.1 L1836.2 1240.0 L1835.2 1239.9 L1834.2 1239.9 L1833.2 1239.8 L1832.2 1239.7 L1831.2 1239.6 L1830.2 1239.5 L1829.2 1239.4 L1828.2 1239.4 L1827.2 1239.3 L1826.2 1239.2 L1825.2 1239.1 L1824.2 1239.0 L1823.2 1238.9 L1822.2 1238.8 L1821.2 1238.7 L1820.2 1238.6 L1819.2 1238.6 L1818.2 1238.5 L1817.2 1238.4 L1816.2 1238.3 L1815.2 1238.2 L1814.2 1238.1 L1813.2 1238.0 L1812.2 1237.9 L1811.2 1237.8 L1810.2 1237.7 L1809.2 1237.6 L1808.2 1237.5 L1807.2 1237.4 L1806.2 1237.3 L1805.2 1237.2 L1804.2 1237.0 L1803.2 1236.9 L1802.2 1236.8 L1801.2 1236.7 L1800.2 1236.6 L1799.2 1236.5 L1798.2 1236.4 L1797.2 1236.3 L1796.2 1236.2 L1795.2 1236.0 L1794.2 1235.9 L1793.2 1235.8 L1792.2 1235.7 L1791.2 1235.6 L1790.2 1235.4 L1789.2 1235.3 L1788.2 1235.2 L1787.2 1235.1 L1786.2 1234.9 L1785.2 1234.8 L1784.2 1234.7 L1783.2 1234.6 L1782.2 1234.4 L1781.2 1234.3 L1780.2 1234.2 L1779.2 1234.0 L1778.2 1233.9 L1777.2 1233.8 L1776.2 1233.6 L1775.2 1233.5 L1774.2 1233.3 L1773.2 1233.2 L1772.2 1233.1 L1771.2 1232.9 L1770.2 1232.8 L1769.2 1232.6 L1768.2 1232.5 L1767.2 1232.3 L1766.2 1232.2 L1765.2 1232.0 L1764.2 1231.9 L1763.2 1231.7 L1762.2 1231.6 L1761.2 1231.4 L1760.2 1231.3 L1759.2 1231.1 L1758.2 1231.0 L1757.2 1230.8 L1756.2 1230.6 L1755.2 1230.5 L1754.2 1230.3 L1753.2 1230.1 L1752.2 1230.0 L1751.2 1229.8 L1750.2 1229.6 L1749.2 1229.5 L1748.2 1229.3 L1747.2 1229.1 L1746.2 1228.9 L1745.2 1228.8 L1744.2 1228.6 L1743.2 1228.4 L1742.2 1228.2 L1741.2 1228.0 L1740.2 1227.9 L1739.2 1227.7 L1738.2 1227.5 L1737.2 1227.3 L1736.2 1227.1 L1735.2 1226.9 L1734.2 1226.7 L1733.2 1226.5 L1732.2 1226.3 L1731.2 1226.1 L1730.2 1225.9 L1729.2 1225.7 L1728.2 1225.5 L1727.2 1225.3 L1726.2 1225.1 L1725.2 1224.9 L1724.2 1224.7 L1723.2 1224.5 L1722.2 1224.3 L1721.2 1224.0 L1720.2 1223.8 L1719.2 1223.6 L1718.2 1223.4 L1717.2 1223.2 L1716.2 1222.9 L1715.2 1222.7 L1714.2 1222.5 L1713.2 1222.3 L1712.2 1222.0 L1711.2 1221.8 L1710.2 1221.5 L1709.2 1221.3 L1708.2 1221.1 L1707.2 1220.8 L1706.2 1220.6 L1705.2 1220.3 L1704.2 1220.1 L1703.2 1219.8 L1702.2 1219.6 L1701.2 1219.3 L1700.2 1219.1 L1699.2 1218.8 L1698.2 1218.5 L1697.2 1218.3 L1696.2 1218.0 L1695.2 1217.7 L1694.2 1217.5 L1693.2 1217.2 L1692.2 1216.9 L1691.2 1216.6 L1690.2 1216.4 L1689.2 1216.1 L1688.2 1215.8 L1687.2 1215.5 L1686.2 1215.2 L1685.2 1214.9 L1684.2 1214.6 L1683.2 1214.3 L1682.2 1214.0 L1681.2 1213.7 L1680.2 1213.4 L1679.2 1213.1 L1678.2 1212.8 L1677.2 1212.5 L1676.2 1212.2 L1675.2 1211.8 L1674.2 1211.5 L1673.2 1211.2 L1672.2 1210.9 L1671.2 1210.5 L1670.2 1210.2 L1669.2 1209.9 L1668.2 1209.5 L1667.2 1209.2 L1666.2 1208.8 L1665.2 1208.5 L1664.2 1208.1 L1663.2 1207.8 L1662.2 1207.4 L1661.2 1207.1 L1660.2 1206.7 L1659.2 1206.4 L1658.2 1206.0 L1657.2 1205.6 L1656.2 1205.2 L1655.2 1204.9 L1654.2 1204.5 L1653.2 1204.1 L1652.2 1203.7 L1651.2 1203.3 L1650.2 1202.9 L1649.2 1202.5 L1648.2 1202.1 L1647.2 1201.7 L1646.2 1201.3 L1645.2 1200.9 L1644.2 1200.5 L1643.2 1200.1 L1642.2 1199.7 L1641.2 1199.3 L1640.2 1198.9 L1639.2 1198.4 L1638.2 1198.0 L1637.2 1197.6 L1636.2 1197.1 L1635.2 1196.7 L1634.2 1196.3 L1633.2 1195.8 L1632.2 1195.4 L1631.2 1194.9 L1630.2 1194.5 L1629.2 1194.0 L1628.2 1193.6 L1627.2 1193.1 L1626.2 1192.7 L1625.2 1192.2 L1624.2 1191.7 L1623.2 1191.3 L1622.2 1190.8 L1621.2 1190.3 L1620.2 1189.9 L1619.2 1189.4 L1618.2 1188.9 L1617.2 1188.4 L1616.2 1187.9 L1615.2 1187.5 L1614.2 1187.0 L1613.2 1186.5 L1612.2 1186.0 L1611.2 1185.5 L1610.2 1185.0 L1609.2 1184.5 L1608.2 1184.0 L1607.2 1183.5 L1606.2 1183.0 L1605.2 1182.5 L1604.2 1182.0 L1603.2 1181.5 L1602.2 1181.0 L1601.2 1180.5 L1600.2 1180.0 L1599.2 1179.5 L1598.2 1179.0 L1597.2 1178.5 L1596.2 1177.9 L1595.2 1177.4 L1594.2 1176.9 L1593.2 1176.4 L1592.2 1175.9 L1591.2 1175.4 L1590.2 1174.9 L1589.2 1174.4 L1588.2 1173.8 L1587.2 1173.3 L1586.2 1172.8 L1585.2 1172.3 L1584.2 1171.8 L1583.2 1171.3 L1582.2 1170.8 L1581.2 1170.3 L1580.2 1169.7 L1579.2 1169.2 L1578.2 1168.7 L1577.2 1168.2 L1576.2 1167.7 L1575.2 1167.2 L1574.2 1166.7 L1573.2 1166.2 L1572.2 1165.7 L1571.2 1165.2 L1570.2 1164.7 L1569.2 1164.2 L1568.2 1163.7 L1567.2 1163.3 L1566.2 1162.8 L1565.2 1162.3 L1564.2 1161.8 L1563.2 1161.3 L1562.2 1160.9 L1561.2 1160.4 L1560.2 1159.9 L1559.2 1159.5 L1558.2 1159.0 L1557.2 1158.5 L1556.2 1158.1 L1555.2 1157.6 L1554.2 1157.2 L1553.2 1156.7 L1552.2 1156.3 L1551.2 1155.9 L1550.2 1155.4 L1549.2 1155.0 L1548.2 1154.6 L1547.2 1154.2 L1546.2 1153.8 L1545.2 1153.4 L1544.2 1153.0 L1543.2 1152.6 L1542.2 1152.2 L1541.2 1151.8 L1540.2 1151.4 L1539.2 1151.0 L1538.2 1150.7 L1537.2 1150.3 L1536.2 1149.9 L1535.2 1149.6 L1534.2 1149.2 L1533.2 1148.9 L1532.2 1148.6 L1531.2 1148.2 L1530.2 1147.9 L1529.2 1147.6 L1528.2 1147.3 L1527.2 1147.0 L1526.2 1146.7 L1525.2 1146.4 L1524.2 1146.1 L1523.2 1145.8 L1522.2 1145.5 L1521.2 1145.3 L1520.2 1145.0 L1519.2 1144.8 L1518.2 1144.5 L1517.2 1144.3 L1516.2 1144.0 L1515.2 1143.8 L1514.2 1143.6 L1513.2 1143.4 L1512.2 1143.2 L1511.2 1143.0 L1510.2 1142.8 L1509.2 1142.6 L1508.2 1142.4 L1507.2 1142.2 L1506.2 1142.1 L1505.2 1141.9 L1504.2 1141.8 L1503.2 1141.6 L1502.2 1141.5 L1501.2 1141.3 L1500.2 1141.2 L1499.2 1141.1 L1498.2 1141.0 L1497.2 1140.9 L1496.2 1140.8 L1495.2 1140.7 L1494.2 1140.6 L1493.2 1140.5 L1492.2 1140.5 L1491.2 1140.4 L1490.2 1140.3 L1489.2 1140.3 L1488.2 1140.3 L1487.2 1140.2 L1486.2 1140.2 L1485.2 1140.2 L1484.2 1140.1 L1483.2 1140.1 L1482.2 1140.1 L1481.2 1140.1 L1480.2 1140.1 L1479.2 1140.1 L1478.2 1140.2 L1477.2 1140.2 L1476.2 1140.2 L1475.2 1140.2 L1474.2 1140.3 L1473.2 1140.3 L1472.2 1140.4 L1471.2 1140.4 L1470.2 1140.5 L1469.2 1140.6 L1468.2 1140.6 L1467.2 1140.7 L1466.2 1140.8 L1465.2 1140.9 L1464.2 1141.0 L1463.2 1141.1 L1462.2 1141.2 L1461.2 1141.3 L1460.2 1141.4 L1459.2 1141.5 L1458.2 1141.6 L1457.2 1141.7 L1456.2 1141.9 L1455.2 1142.0 L1454.2 1142.1 L1453.2 1142.3 L1452.2 1142.4 L1451.2 1142.5 L1450.2 1142.7 L1449.2 1142.8 L1448.2 1143.0 L1447.2 1143.2 L1446.2 1143.3 L1445.2 1143.5 L1444.2 1143.7 L1443.2 1143.8 L1442.2 1144.0 L1441.2 1144.2 L1440.2 1144.4 L1439.2 1144.5 L1438.2 1144.7 L1437.2 1144.9 L1436.2 1145.1 L1435.2 1145.3 L1434.2 1145.5 L1433.2 1145.7 L1432.2 1145.9 L1431.2 1146.1 L1430.2 1146.3 L1429.2 1146.5 L1428.2 1146.7 L1427.2 1146.9 L1426.2 1147.1 L1425.2 1147.3 L1424.2 1147.5 L1423.2 1147.7 L1422.2 1148.0 L1421.2 1148.2 L1420.2 1148.4 L1419.2 1148.6 L1418.2 1148.8 L1417.2 1149.1 L1416.2 1149.3 L1415.2 1149.5 L1414.2 1149.7 L1413.2 1149.9 L1412.2 1150.2 L1411.2 1150.4 L1410.2 1150.6 L1409.2 1150.9 L1408.2 1151.1 L1407.2 1151.3 L1406.2 1151.5 L1405.2 1151.8 L1404.2 1152.0 L1403.2 1152.2 L1402.2 1152.5 L1401.2 1152.7 L1400.2 1152.9 L1399.2 1153.2 L1398.2 1153.4 L1397.2 1153.6 L1396.2 1153.8 L1395.2 1154.1 L1394.2 1154.3 L1393.2 1154.5 L1392.2 1154.8 L1391.2 1155.0 L1390.2 1155.2 L1389.2 1155.5 L1388.2 1155.7 L1387.2 1155.9 L1386.2 1156.2 L1385.2 1156.4 L1384.2 1156.6 L1383.2 1156.9 L1382.2 1157.1 L1381.2 1157.4 L1380.2 1157.6 L1379.2 1157.8 L1378.2 1158.1 L1377.2 1158.3 L1376.2 1158.5 L1375.2 1158.8 L1374.2 1159.0 L1373.2 1159.2 L1372.2 1159.5 L1371.2 1159.7 L1370.2 1159.9 L1369.2 1160.2 L1368.2 1160.4 L1367.2 1160.6 L1366.2 1160.9 L1365.2 1161.1 L1364.2 1161.3 L1363.2 1161.6 L1362.2 1161.8 L1361.2 1162.0 L1360.2 1162.3 L1359.2 1162.5 L1358.2 1162.7 L1357.2 1163.0 L1356.2 1163.2 L1355.2 1163.4 L1354.2 1163.7 L1353.2 1163.9 L1352.2 1164.1 L1351.2 1164.4 L1350.2 1164.6 L1349.2 1164.8 L1348.2 1165.1 L1347.2 1165.3 L1346.2 1165.6 L1345.2 1165.8 L1344.2 1166.0 L1343.2 1166.3 L1342.2 1166.5 L1341.2 1166.7 L1340.2 1167.0 L1339.2 1167.2 L1338.2 1167.5 L1337.2 1167.7 L1336.2 1167.9 L1335.2 1168.2 L1334.2 1168.4 L1333.2 1168.6 L1332.2 1168.9 L1331.2 1169.1 L1330.2 1169.4 L1329.2 1169.6 L1328.2 1169.9 L1327.2 1170.1 L1326.2 1170.3 L1325.2 1170.6 L1324.2 1170.8 L1323.2 1171.1 L1322.2 1171.3 L1321.2 1171.6 L1320.2 1171.8 L1319.2 1172.1 L1318.2 1172.3 L1317.2 1172.5 L1316.2 1172.8 L1315.2 1173.0 L1314.2 1173.3 L1313.2 1173.5 L1312.2 1173.8 L1311.2 1174.0 L1310.2 1174.3 L1309.2 1174.5 L1308.2 1174.8 L1307.2 1175.0 L1306.2 1175.3 L1305.2 1175.6 L1304.2 1175.8 L1303.2 1176.1 L1302.2 1176.3 L1301.2 1176.6 L1300.2 1176.8 L1299.2 1177.1 L1298.2 1177.3 L1297.2 1177.6 L1296.2 1177.9 L1295.2 1178.1 L1294.2 1178.4 L1293.2 1178.6 L1292.2 1178.9 L1291.2 1179.2 L1290.2 1179.4 L1289.2 1179.7 L1288.2 1179.9 L1287.2 1180.2 L1286.2 1180.5 L1285.2 1180.7 L1284.2 1181.0 L1283.2 1181.3 L1282.2 1181.5 L1281.2 1181.8 L1280.2 1182.1 L1279.2 1182.3 L1278.2 1182.6 L1277.2 1182.9 L1276.2 1183.1 L1275.2 1183.4 L1274.2 1183.7 L1273.2 1183.9 L1272.2 1184.2 L1271.2 1184.5 L1270.2 1184.7 L1269.2 1185.0 L1268.2 1185.3 L1267.2 1185.5 L1266.2 1185.8 L1265.2 1186.1 L1264.2 1186.4 L1263.2 1186.6 L1262.2 1186.9 L1261.2 1187.2 L1260.2 1187.4 L1259.2 1187.7 L1258.2 1188.0 L1257.2 1188.3 L1256.2 1188.5 L1255.2 1188.8 L1254.2 1189.1 L1253.2 1189.4 L1252.2 1189.6 L1251.2 1189.9 L1250.2 1190.2 L1249.2 1190.5 L1248.2 1190.7 L1247.2 1191.0 L1246.2 1191.3 L1245.2 1191.5 L1244.2 1191.8 L1243.2 1192.1 L1242.2 1192.4 L1241.2 1192.6 L1240.2 1192.9 L1239.2 1193.2 L1238.2 1193.5 L1237.2 1193.7 L1236.2 1194.0 L1235.2 1194.3 L1234.2 1194.5 L1233.2 1194.8 L1232.2 1195.1 L1231.2 1195.4 L1230.2 1195.6 L1229.2 1195.9 L1228.2 1196.2 L1227.2 1196.4 L1226.2 1196.7 L1225.2 1197.0 L1224.2 1197.2 L1223.2 1197.5 L1222.2 1197.8 L1221.2 1198.0 L1220.2 1198.3 L1219.2 1198.6 L1218.2 1198.8 L1217.2 1199.1 L1216.2 1199.4 L1215.2 1199.6 L1214.2 1199.9 L1213.2 1200.2 L1212.2 1200.4 L1211.2 1200.7 L1210.2 1200.9 L1209.2 1201.2 L1208.2 1201.5 L1207.2 1201.7 L1206.2 1202.0 L1205.2 1202.2 L1204.2 1202.5 L1203.2 1202.7 L1202.2 1203.0 L1201.2 1203.2 L1200.2 1203.5 L1199.2 1203.7 L1198.2 1204.0 L1197.2 1204.2 L1196.2 1204.5 L1195.2 1204.7 L1194.2 1205.0 L1193.2 1205.2 L1192.2 1205.4 L1191.2 1205.7 L1190.2 1205.9 L1189.2 1206.2 L1188.2 1206.4 L1187.2 1206.6 L1186.2 1206.9 L1185.2 1207.1 L1184.2 1207.3 L1183.2 1207.5 L1182.2 1207.8 L1181.2 1208.0 L1180.2 1208.2 L1179.2 1208.4 L1178.2 1208.7 L1177.2 1208.9 L1176.2 1209.1 L1175.2 1209.3 L1174.2 1209.5 L1173.2 1209.7 L1172.2 1209.9 L1171.2 1210.2 L1170.2 1210.4 L1169.2 1210.6 L1168.2 1210.8 L1167.2 1211.0 L1166.2 1211.2 L1165.2 1211.4 L1164.2 1211.6 L1163.2 1211.7 L1162.2 1211.9 L1161.2 1212.1 L1160.2 1212.3 L1159.2 1212.5 L1158.2 1212.7 L1157.2 1212.8 L1156.2 1213.0 L1155.2 1213.2 L1154.2 1213.4 L1153.2 1213.5 L1152.2 1213.7 L1151.2 1213.9 L1150.2 1214.0 L1149.2 1214.2 L1148.2 1214.3 L1147.2 1214.5 L1146.2 1214.6 L1145.2 1214.8 L1144.2 1214.9 L1143.2 1215.0 L1142.2 1215.2 L1141.2 1215.3 L1140.2 1215.4 L1139.2 1215.6 L1138.2 1215.7 L1137.2 1215.8 L1136.2 1215.9 L1135.2 1216.0 L1134.2 1216.1 L1133.2 1216.2 L1132.2 1216.3 L1131.2 1216.4 L1130.2 1216.5 L1129.2 1216.6 L1128.2 1216.7 L1127.2 1216.8 L1126.2 1216.9 L1125.2 1216.9 L1124.2 1217.0 L1123.2 1217.1 L1122.2 1217.1 L1121.2 1217.2 L1120.2 1217.2 L1119.2 1217.3 L1118.2 1217.3 L1117.2 1217.3 L1116.2 1217.3 L1115.2 1217.4 L1114.2 1217.4 L1113.2 1217.4 L1112.2 1217.4 L1111.2 1217.4 L1110.2 1217.4 L1109.2 1217.4 L1108.2 1217.4 L1107.2 1217.3 L1106.2 1217.3 L1105.2 1217.3 L1104.2 1217.2 L1103.2 1217.2 L1102.2 1217.1 L1101.2 1217.0 L1100.2 1216.9 L1099.2 1216.9 L1098.2 1216.8 L1097.2 1216.7 L1096.2 1216.6 L1095.2 1216.4 L1094.2 1216.3 L1093.2 1216.2 L1092.2 1216.0 L1091.2 1215.9 L1090.2 1215.7 L1089.2 1215.5 L1088.2 1215.3 L1087.2 1215.1 L1086.2 1214.9 L1085.2 1214.7 L1084.2 1214.4 L1083.2 1214.2 L1082.2 1213.9 L1081.2 1213.6 L1080.2 1213.3 L1079.2 1213.0 L1078.2 1212.7 L1077.2 1212.4 L1076.2 1212.0 L1075.2 1211.6 L1074.2 1211.3 L1073.2 1210.8 L1072.2 1210.4 L1071.2 1210.0 L1070.2 1209.5 L1069.2 1209.0 L1068.2 1208.5 L1067.2 1208.0 L1066.2 1207.5 L1065.2 1206.9 L1064.2 1206.3 L1063.2 1205.7 L1062.2 1205.1 L1061.2 1204.4 L1060.2 1203.7 L1059.2 1203.0 L1058.2 1202.3 L1057.2 1201.5 L1056.2 1200.7 L1055.2 1199.9 L1054.2 1199.0 L1053.2 1198.1 L1052.2 1197.2 L1051.2 1196.3 L1050.2 1195.3 L1049.2 1194.2 L1048.2 1193.2 L1047.2 1192.1 L1046.2 1191.0 L1045.2 1189.9 L1044.2 1188.8 L1043.2 1187.7 L1042.2 1186.7 L1041.2 1185.6 L1040.2 1184.4 L1039.2 1183.3 L1038.2 1182.1 L1037.2 1180.8 L1036.2 1179.5 L1035.2 1178.2 L1034.2 1176.8 L1033.2 1175.4 L1032.2 1173.9 L1031.2 1172.4 L1030.2 1170.9 L1029.2 1169.3 L1028.2 1167.6 L1027.2 1165.9 L1026.2 1164.2 L1025.2 1162.4 L1024.2 1160.5 L1023.2 1158.6 L1022.2 1156.6 L1021.2 1154.6 L1020.2 1152.5 L1019.2 1150.4 L1018.2 1148.2 L1017.2 1145.9 L1016.2 1143.6 L1015.2 1141.3 L1014.2 1138.8 L1013.2 1136.3 L1012.2 1133.8 L1011.2 1131.1 L1010.2 1128.5 L1009.2 1125.7 L1008.2 1122.9 L1007.2 1120.0 L1006.2 1117.1 L1005.2 1114.0 L1004.2 1111.0 L1003.2 1107.8 L1002.2 1104.6 L1001.2 1101.3 L1000.2 1097.9 L999.2 1094.5 L998.2 1091.0 L997.2 1087.5 L996.2 1083.8 L995.2 1080.1 L994.2 1076.3 L993.2 1072.5 L992.2 1068.6 L991.2 1064.6 L990.2 1060.5 L989.2 1056.4 L988.2 1052.2 L987.2 1047.9 L986.2 1043.6 L985.2 1039.2 L984.2 1034.7 L983.2 1030.2 L982.2 1025.6 L981.2 1020.9 L980.2 1016.1 L979.2 1011.3 L978.2 1006.4 L977.2 1001.5 L976.2 996.4 L975.2 991.3 L974.2 986.2 L973.2 981.0 L972.2 975.7 L971.2 970.4 L970.2 965.0 L969.2 959.5 L968.2 954.0 L967.2 948.4 L966.2 942.7 L965.2 937.0 L964.2 931.2 L963.2 925.4 L962.2 919.5 L961.2 913.6 L960.2 907.6 L959.2 901.5 L958.2 895.4 L957.2 889.3 L956.2 883.1 L955.2 876.8 L954.2 870.5 L953.2 864.1 L952.2 857.7 L951.2 851.2 L950.2 844.7 L949.2 838.2 L948.2 831.6 L947.2 824.9 L946.2 818.2 L945.2 811.5 L944.2 804.7 L943.2 797.9 L942.2 791.1 L941.2 784.2 L940.2 777.2 L939.2 770.3 L938.2 763.3 L937.2 756.2 L936.2 749.2 L935.2 742.0 L934.2 734.9 L933.2 727.8 L932.2 720.6 L931.2 713.3 L930.2 706.1 L929.2 698.8 L928.2 691.6 L927.2 684.2 L926.2 676.9 L925.2 669.6 L924.2 662.2 L923.2 654.8 L922.2 647.5 L921.2 640.1 L920.2 632.7 L919.2 625.2 L918.2 617.8 L917.2 610.4 L916.2 603.0 L915.2 595.6 L914.2 588.2 L913.2 580.8 L912.2 573.4 L911.2 566.0 L910.2 558.6 L909.2 551.3 L908.2 543.9 L907.2 536.6 L906.2 529.3 L905.2 522.1 L904.2 514.8 L903.2 507.6 L902.2 500.4 L901.2 493.3 L900.2 486.2 L899.2 479.1 L898.2 472.1 L897.2 465.2 L896.2 458.2 L895.2 451.4 L894.2 444.5 L893.2 437.8 L892.2 431.1 L891.2 424.4 L890.2 417.8 L889.2 411.3 L888.2 404.9 L887.2 398.5 L886.2 392.2 L885.2 386.0 L884.2 379.8 L883.2 373.7 L882.2 367.7 L881.2 361.8 L880.2 355.9 L879.2 350.2 L878.2 344.5 L877.2 338.9 L876.2 333.4 L875.2 327.9 L874.2 322.6 L873.2 317.4 L872.2 312.2 L871.2 307.1 L870.2 302.2 L869.2 297.3 L868.2 292.5 L867.2 287.8 L866.2 283.2 L865.2 278.6 L864.2 274.2 L863.2 269.8 L862.2 265.6 L861.2 261.4 L860.2 257.3 L859.2 253.3 L858.2 249.4 L857.2 245.6 L856.2 241.8 L855.2 238.1 L854.2 234.6 L853.2 231.0 L852.2 227.6 L851.2 224.3 L850.2 221.0 L849.2 217.8 L848.2 214.6 L847.2 211.5 L846.2 208.5 L845.2 205.6 L844.2 202.7 L843.2 199.9 L842.2 197.1 L841.2 194.4 L840.2 191.7 L839.2 189.1 L838.2 186.6 L837.2 184.0 L836.2 181.6 L835.2 179.2 L834.2 176.8 L833.2 174.5 L832.2 172.2 L831.2 169.9 L830.2 167.7 L829.2 165.5 L828.2 163.3 L827.2 161.2 L826.2 159.1 L825.2 157.0 L824.2 154.9 L823.2 152.9 L822.2 150.9 L821.2 148.9 L820.2 147.0 L819.2 145.0 L818.2 143.1 L817.2 141.2 L816.2 139.3 L815.2 137.4 L814.2 135.6 L813.2 133.7 L812.2 131.9 L811.2 130.1 L810.2 128.3 L809.2 126.5 L808.2 124.8 L807.2 123.0 L806.2 121.3 L805.2 119.6 L804.2 117.9 L803.2 116.2 L802.2 114.5 L801.2 112.8 L800.2 111.2 L799.2 109.6 L798.2 108.0 L797.2 106.4 L796.2 104.9 L795.2 103.3 L794.2 101.8 L793.2 100.3 L792.2 98.8 L791.2 97.4 L790.2 96.0 L789.2 94.6 L788.2 93.2 L787.2 91.9 L786.2 90.6 L785.2 89.3 L784.2 88.1 L783.2 87.1 L782.2 86.1 L781.2 85.3 L780.2 84.4 L779.2 83.7 L778.2 82.9 L777.2 82.2 L776.2 81.6 L775.2 81.0 L774.2 80.5 L773.2 80.0 L772.2 79.6 L771.2 79.2 L770.2 78.9 L769.2 78.6 L768.2 78.4 L767.2 78.3 L766.2 78.2 L765.2 78.2 L764.2 78.2 L763.2 78.3 L762.2 78.4 L761.2 78.7 L760.2 78.9 L759.2 79.3 L758.2 79.7 L757.2 80.1 L756.2 80.6 L755.2 81.2 L754.2 81.8 L753.2 82.5 L752.2 83.3 L751.2 84.1 L750.2 85.2 L749.2 86.5 L748.2 87.9 L747.2 89.3 L746.2 90.8 L745.2 92.4 L744.2 94.0 L743.2 95.7 L742.2 97.4 L741.2 99.2 L740.2 101.0 L739.2 102.9 L738.2 104.9 L737.2 106.9 L736.2 108.9 L735.2 111.0 L734.2 113.2 L733.2 115.4 L732.2 117.6 L731.2 119.9 L730.2 122.3 L729.2 124.7 L728.2 127.1 L727.2 129.6 L726.2 132.1 L725.2 134.7 L724.2 137.3 L723.2 140.0 L722.2 142.6 L721.2 145.4 L720.2 148.1 L719.2 151.0 L718.2 153.8 L717.2 156.7 L716.2 159.6 L715.2 162.5 L714.2 165.5 L713.2 168.5 L712.2 171.6 L711.2 174.6 L710.2 177.8 L709.2 180.9 L708.2 184.0 L707.2 187.2 L706.2 190.4 L705.2 193.7 L704.2 196.9 L703.2 200.2 L702.2 203.5 L701.2 206.9 L700.2 210.2 L699.2 213.6 L698.2 217.0 L697.2 220.4 L696.2 223.9 L695.2 227.3 L694.2 230.8 L693.2 234.3 L692.2 237.8 L691.2 241.3 L690.2 244.8 L689.2 248.4 L688.2 251.9 L687.2 255.5 L686.2 259.1 L685.2 262.7 L684.2 266.3 L683.2 270.0 L682.2 273.6 L681.2 277.2 L680.2 280.9 L679.2 284.6 L678.2 288.3 L677.2 291.9 L676.2 295.6 L675.2 299.3 L674.2 303.1 L673.2 306.8 L672.2 310.5 L671.2 314.2 L670.2 318.0 L669.2 321.7 L668.2 325.5 L667.2 329.2 L666.2 333.0 L665.2 336.8 L664.2 340.5 L663.2 344.3 L662.2 348.1 L661.2 351.9 L660.2 355.7 L659.2 359.4 L658.2 363.2 L657.2 367.0 L656.2 370.8 L655.2 374.6 L654.2 378.5 L653.2 382.3 L652.2 386.1 L651.2 389.9 L650.2 393.7 L649.2 397.5 L648.2 401.3 L647.2 405.2 L646.2 409.0 L645.2 412.8 L644.2 416.6 L643.2 420.5 L642.2 424.3 L641.2 428.1 L640.2 431.9 L639.2 435.8 L638.2 439.6 L637.2 443.4 L636.2 447.3 L635.2 451.1 L634.2 454.9 L633.2 458.8 L632.2 462.6 L631.2 466.4 L630.2 470.2 L629.2 474.1 L628.2 477.9 L627.2 481.7 L626.2 485.5 L625.2 489.4 L624.2 493.2 L623.2 497.0 L622.2 500.8 L621.2 504.6 L620.2 508.4 L619.2 512.3 L618.2 516.1 L617.2 519.9 L616.2 523.7 L615.2 527.5 L614.2 531.3 L613.2 535.1 L612.2 538.9 L611.2 542.7 L610.2 546.5 L609.2 550.2 L608.2 554.0 L607.2 557.8 L606.2 561.6 L605.2 565.3 L604.2 569.1 L603.2 572.9 L602.2 576.6 L601.2 580.4 L600.2 584.1 L599.2 587.9 L598.2 591.6 L597.2 595.3 L596.2 599.1 L595.2 602.8 L594.2 606.5 L593.2 610.2 L592.2 613.9 L591.2 617.6 L590.2 621.3 L589.2 625.0 L588.2 628.6 L587.2 632.3 L586.2 636.0 L585.2 639.6 L584.2 643.3 L583.2 646.9 L582.2 650.5 L581.2 654.2 L580.2 657.8 L579.2 661.4 L578.2 665.0 L577.2 668.6 L576.2 672.1 L575.2 675.7 L574.2 679.3 L573.2 682.8 L572.2 686.4 L571.2 689.9 L570.2 693.4 L569.2 696.9 L568.2 700.4 L567.2 703.9 L566.2 707.4 L565.2 710.8 L564.2 714.3 L563.2 717.7 L562.2 721.2 L561.2 724.6 L560.2 728.0 L559.2 731.4 L558.2 734.8 L557.2 738.1 L556.2 741.5 L555.2 744.8 L554.2 748.1 L553.2 751.5 L552.2 754.8 L551.2 758.1 L550.2 761.3 L549.2 764.6 L548.2 767.8 L547.2 771.1 L546.2 774.3 L545.2 777.5 L544.2 780.7 L543.2 783.9 L542.2 787.0 L541.2 790.2 L540.2 793.3 L539.2 796.4 L538.2 799.5 L537.2 802.6 L536.2 805.7 L535.2 808.7 L534.2 811.8 L533.2 814.8 L532.2 817.8 L531.2 820.8 L530.2 823.8 L529.2 826.7 L528.2 829.7 L527.2 832.6 L526.2 835.5 L525.2 838.4 L524.2 841.3 L523.2 844.2 L522.2 847.0 L521.2 849.8 L520.2 852.6 L519.2 855.4 L518.2 858.2 L517.2 861.0 L516.2 863.7 L515.2 866.4 L514.2 869.2 L513.2 871.9 L512.2 874.5 L511.2 877.2 L510.2 879.8 L509.2 882.4 L508.2 885.1 L507.2 887.6 L506.2 890.2 L505.2 892.8 L504.2 895.3 L503.2 897.8 L502.2 900.3 L501.2 902.8 L500.2 905.3 L499.2 907.7 L498.2 910.2 L497.2 912.6 L496.2 915.0 L495.2 917.4 L494.2 919.7 L493.2 922.1 L492.2 924.4 L491.2 926.7 L490.2 929.0 L489.2 931.3 L488.2 933.5 L487.2 935.8 L486.2 938.0 L485.2 940.2 L484.2 942.4 L483.2 944.6 L482.2 946.7 L481.2 948.9 L480.2 951.0 L479.2 953.1 L478.2 955.2 L477.2 957.3 L476.2 959.4 L475.2 961.4 L474.2 963.4 L473.2 965.4 L472.2 967.4 L471.2 969.4 L470.2 971.4 L469.2 973.3 L468.2 975.2 L467.2 977.1 L466.2 979.0 L465.2 980.9 L464.2 982.8 L463.2 984.6 L462.2 986.5 L461.2 988.3 L460.2 990.1 L459.2 991.9 L458.2 993.6 L457.2 995.4 L456.2 997.1 L455.2 998.8 L454.2 1000.6 L453.2 1002.2 L452.2 1003.9 L451.2 1005.6 L450.2 1007.2 L449.2 1008.9 L448.2 1010.5 L447.2 1012.1 L446.2 1013.7 L445.2 1015.3 L444.2 1016.8 L443.2 1018.4 L442.2 1019.9 L441.2 1021.4 L440.2 1022.9 L439.2 1024.4 L438.2 1025.9 L437.2 1027.3 L436.2 1028.8 L435.2 1030.2 L434.2 1031.6 L433.2 1033.0 L432.2 1034.4 L431.2 1035.8 L430.2 1037.2 L429.2 1038.5 L428.2 1039.9 L427.2 1041.2 L426.2 1042.5 L425.2 1043.8 L424.2 1045.1 L423.2 1046.3 L422.2 1047.6 L421.2 1048.8 L420.2 1050.1 L419.2 1051.3 L418.2 1052.5 L417.2 1053.7 L416.2 1054.9 L415.2 1056.0 L414.2 1057.2 L413.2 1058.3 L412.2 1059.5 L411.2 1060.6 L410.2 1061.7 L409.2 1062.8 L408.2 1063.9 L407.2 1064.9 L406.2 1066.0 L405.2 1067.1 L404.2 1068.2 L403.2 1069.3 L402.2 1070.4 L401.2 1071.4 L400.2 1072.5 L399.2 1073.5 L398.2 1074.6 L397.2 1075.6 L396.2 1076.6 L395.2 1077.6 L394.2 1078.6 L393.2 1079.5 L392.2 1080.5 L391.2 1081.4 L390.2 1082.4 L389.2 1083.3 L388.2 1084.2 L387.2 1085.1 L386.2 1086.0 L385.2 1086.8 L384.2 1087.7 L383.2 1088.5 L382.2 1089.4 L381.2 1090.2 L380.2 1091.0 L379.2 1091.8 L378.2 1092.6 L377.2 1093.4 L376.2 1094.1 L375.2 1094.9 L374.2 1095.6 L373.2 1096.3 L372.2 1097.1 L371.2 1097.8 L370.2 1098.4 L369.2 1099.1 L368.2 1099.8 L367.2 1100.4 L366.2 1101.1 L365.2 1101.7 L364.2 1102.3 L363.2 1102.9 L362.2 1103.5 L361.2 1104.1 L360.2 1104.7 L359.2 1105.3 L358.2 1105.8 L357.2 1106.3 L356.2 1106.9 L355.2 1107.4 L354.2 1107.9 L353.2 1108.4 L352.2 1108.9 L351.2 1109.3 L350.2 1109.8 L349.2 1110.2 L348.2 1110.7 L347.2 1111.1 L346.2 1111.5 L345.2 1111.9 L344.2 1112.3 L343.2 1112.7 L342.2 1113.0 L341.2 1113.4 L340.2 1113.7 L339.2 1114.1 L338.2 1114.4 L337.2 1114.7 L336.2 1115.0 L335.2 1115.3 L334.2 1115.6 L333.2 1115.9 L332.2 1116.1 L331.2 1116.4 L330.2 1116.6 L329.2 1116.8 L328.2 1117.1 L327.2 1117.3 L326.2 1117.5 L325.2 1117.7 L324.2 1117.8 L323.2 1118.0 L322.2 1118.2 L321.2 1118.3 L320.2 1118.5 L319.2 1118.6 L318.2 1118.7 L317.2 1118.8 L316.2 1119.0 L315.2 1119.1 L314.2 1119.1 L313.2 1119.2 L312.2 1119.3 L311.2 1119.4 L310.2 1119.4 L309.2 1119.5 L308.2 1119.5 L307.2 1119.6 L306.2 1119.6 L305.2 1119.6 L304.2 1119.6 L303.2 1119.6 L302.2 1119.6 L301.2 1119.6 L300.2 1119.6 L299.2 1119.6 L298.2 1119.6 L297.2 1119.6 L296.2 1119.5 L295.2 1119.5 L294.2 1119.5 L293.2 1119.4 L292.2 1119.4 L291.2 1119.3 L290.2 1119.3 L289.2 1119.2 L288.2 1119.1 L287.2 1119.1 L286.2 1119.0 L285.2 1118.9 L284.2 1118.9 L283.2 1118.8 L282.2 1118.7 L281.2 1118.6 L280.2 1118.5 L279.2 1118.5 L278.2 1118.4 L277.2 1118.3Z" fill="#ff4422" stroke="none"/>
<rect x="1163.5" y="65.4" width="733" height="248.6" fill="#fefcfb" stroke="#2a2b27" stroke-width="2.5"/>
<line x1="1162.2" y1="65.4" x2="1897.8" y2="65.4" stroke="#0b0d08" stroke-width="2.5"/>
<line x1="1162.2" y1="314" x2="1897.8" y2="314" stroke="#6b6c67" stroke-width="2.5"/>
<line x1="1215.5" y1="123.1" x2="1346.5" y2="123.1" stroke="#0b0d08" stroke-width="10.8" stroke-linecap="round"/>
<text x="1375.5" y="142" font-size="57" textLength="224.9" lengthAdjust="spacingAndGlyphs" fill="#0b0d08">irr. 0 min</text>
<line x1="1215.5" y1="193.7" x2="1346.5" y2="193.7" stroke="#2e3f87" stroke-width="10.8" stroke-linecap="round"/>
<text x="1375.5" y="212.6" font-size="57" textLength="495.4" lengthAdjust="spacingAndGlyphs" fill="#0b0d08">465 nm / irr. 20 min</text>
<line x1="1215.5" y1="264.2" x2="1346.5" y2="264.2" stroke="#ff4422" stroke-width="10.8" stroke-linecap="round"/>
<text x="1375.5" y="283.1" font-size="57" textLength="495.4" lengthAdjust="spacingAndGlyphs" fill="#0b0d08">520 nm / irr. <tspan font-family="NanumGothic, 'Liberation Sans', sans-serif" font-size="52.6" stroke="#0b0d08" stroke-width="1">1</tspan>0 min</text>
<line x1="490.4" y1="61" x2="490.4" y2="360" stroke="#55574f" stroke-width="2.8"/>
<polygon points="483,356 499.5,356 491.2,386.5" fill="#0b0d08"/>
<line x1="514.7" y1="80" x2="514.7" y2="359" stroke="#ff4d2c" stroke-width="2.8"/>
<polygon points="507.5,86.5 524,86.5 514.7,55.5" fill="#ff4422"/>
<text transform="translate(456,312.4) rotate(-90)" font-size="49.5" textLength="166.9" lengthAdjust="spacingAndGlyphs" fill="#0b0d08">465 nm</text>
<text transform="translate(578,301.7) rotate(-90)" font-size="49.5" textLength="153.4" lengthAdjust="spacingAndGlyphs" fill="#ff4422">520 nm</text>
<line x1="1722.6" y1="655" x2="1722.6" y2="1121.5" stroke="#0b0d08" stroke-width="2.8"/>
<polygon points="1715.5,663 1732,663 1722.8,630.5" fill="#0b0d08"/>
<line x1="1744.5" y1="641" x2="1744.5" y2="1120" stroke="#ff4d2c" stroke-width="2.8"/>
<polygon points="1737,1114.7 1753.5,1114.7 1745,1147" fill="#ff4422"/>
<text transform="translate(1693.3,939.8) rotate(-90)" font-size="49.5" textLength="165.6" lengthAdjust="spacingAndGlyphs" fill="#0b0d08">465 nm</text>
<text transform="translate(1799.4,931.1) rotate(-90)" font-size="47.5" textLength="153.1" lengthAdjust="spacingAndGlyphs" fill="#ff4422">520 nm</text>
<text transform="translate(67,869.3) rotate(-90)" font-size="62" textLength="341.4" lengthAdjust="spacingAndGlyphs" fill="#0b0d08">Absorbance</text>
<text y="1452" fill="#0b0d08"><tspan x="1012.6" font-family="'Liberation Serif', serif" font-size="60" textLength="35.5" lengthAdjust="spacingAndGlyphs">λ</tspan><tspan font-size="20"> </tspan><tspan x="1066" font-size="62.5" textLength="132.8" lengthAdjust="spacingAndGlyphs">(nm)</tspan></text>
</svg>
</body></html>
